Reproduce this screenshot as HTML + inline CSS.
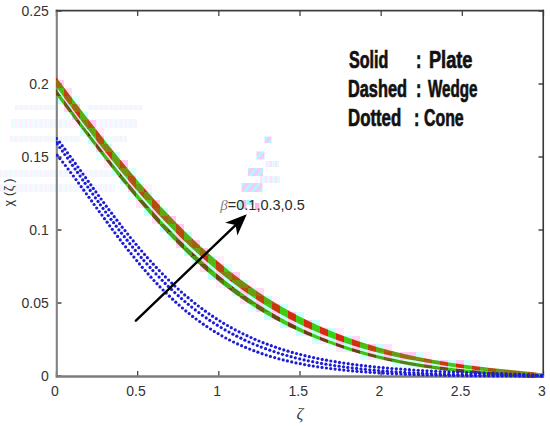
<!DOCTYPE html>
<html><head><meta charset="utf-8"><style>
html,body{margin:0;padding:0;background:#fff;width:550px;height:428px;overflow:hidden}
svg{display:block;position:absolute;left:0;top:0}
.lg{position:absolute;font-family:"Liberation Sans",sans-serif;font-weight:bold;font-size:23px;color:#111;-webkit-text-stroke:0.7px #111;transform-origin:0 0;white-space:pre;line-height:1}
</style></head><body>
<svg width="550" height="428" viewBox="0 0 550 428">
<rect width="550" height="428" fill="#fff"/>
<defs><pattern id="gh" width="5" height="4" patternUnits="userSpaceOnUse"><rect width="2.5" height="4" fill="#ff9cf2"/><rect x="2.5" width="2.5" height="4" fill="#8ff8ff"/></pattern>
<pattern id="gd" width="6" height="6" patternUnits="userSpaceOnUse" patternTransform="rotate(40)"><rect width="3" height="6" fill="#ff8cf0"/><rect x="3" width="3" height="6" fill="#5ff4ff"/></pattern></defs>
<g opacity="0.16" fill="url(#gh)">
<rect x="15" y="105" width="127" height="5"/>
<rect x="11" y="119" width="126" height="9"/>
<rect x="10" y="136" width="117" height="6"/>
<rect x="0" y="170" width="120" height="7"/>
<rect x="0" y="184" width="115" height="8"/>
</g>
<g opacity="0.3" fill="url(#gh)">
<rect x="266" y="161" width="13" height="6"/>
<rect x="260" y="176" width="20" height="7"/>
</g>
<g opacity="0.5" fill="url(#gd)">
<rect x="264.5" y="136.5" width="7" height="6.5"/>
<rect x="256.5" y="151.5" width="8" height="8"/>
<rect x="248" y="168" width="15" height="8"/>
<rect x="241.5" y="183" width="21" height="9"/>
</g>
<g clip-path="url(#cp)"><rect x="56" y="72" width="8" height="8" fill="#fffafe"/><rect x="56" y="80" width="8" height="8" fill="#ffcaf4"/><rect x="56" y="88" width="8" height="8" fill="#c4fffe"/><rect x="64" y="88" width="8" height="8" fill="#ffddf8"/><rect x="56" y="96" width="8" height="8" fill="#cbfffe"/><rect x="64" y="96" width="8" height="8" fill="#ffcaf4"/><rect x="72" y="96" width="8" height="8" fill="#e5fffe"/><rect x="56" y="104" width="8" height="8" fill="#fdffff"/><rect x="64" y="104" width="8" height="8" fill="#ffd1f6"/><rect x="72" y="104" width="8" height="8" fill="#ffcaf4"/><rect x="80" y="104" width="8" height="8" fill="#fdffff"/><rect x="64" y="112" width="8" height="8" fill="#f3ffff"/><rect x="72" y="112" width="8" height="8" fill="#ffcaf4"/><rect x="80" y="112" width="8" height="8" fill="#c4fffe"/><rect x="72" y="120" width="8" height="8" fill="#fff1fc"/><rect x="80" y="120" width="8" height="8" fill="#c4fffe"/><rect x="88" y="120" width="8" height="8" fill="#ffcaf4"/><rect x="80" y="128" width="8" height="8" fill="#d6fffe"/><rect x="88" y="128" width="8" height="8" fill="#c4fffe"/><rect x="96" y="128" width="8" height="8" fill="#ffe9fb"/><rect x="80" y="136" width="8" height="8" fill="#fdffff"/><rect x="88" y="136" width="8" height="8" fill="#c4fffe"/><rect x="96" y="136" width="8" height="8" fill="#ffcaf4"/><rect x="104" y="136" width="8" height="8" fill="#efffff"/><rect x="88" y="144" width="8" height="8" fill="#f5ffff"/><rect x="96" y="144" width="8" height="8" fill="#ffcff5"/><rect x="104" y="144" width="8" height="8" fill="#c4fffe"/><rect x="112" y="144" width="8" height="8" fill="#fffbfe"/><rect x="96" y="152" width="8" height="8" fill="#e7fffe"/><rect x="104" y="152" width="8" height="8" fill="#ffcaf4"/><rect x="112" y="152" width="8" height="8" fill="#c4fffe"/><rect x="104" y="160" width="8" height="8" fill="#ffe9fb"/><rect x="112" y="160" width="8" height="8" fill="#c4fffe"/><rect x="120" y="160" width="8" height="8" fill="#ffcaf4"/><rect x="112" y="168" width="8" height="8" fill="#d1fffe"/><rect x="120" y="168" width="8" height="8" fill="#c4fffe"/><rect x="128" y="168" width="8" height="8" fill="#d9fffe"/><rect x="112" y="176" width="8" height="8" fill="#fcffff"/><rect x="120" y="176" width="8" height="8" fill="#c4fffe"/><rect x="128" y="176" width="8" height="8" fill="#ffcaf4"/><rect x="136" y="176" width="8" height="8" fill="#e7fffe"/><rect x="120" y="184" width="8" height="8" fill="#f3ffff"/><rect x="128" y="184" width="8" height="8" fill="#ffcbf5"/><rect x="136" y="184" width="8" height="8" fill="#c4fffe"/><rect x="144" y="184" width="8" height="8" fill="#fff2fc"/><rect x="128" y="192" width="8" height="8" fill="#e9fffe"/><rect x="136" y="192" width="8" height="8" fill="#c4fffe"/><rect x="144" y="192" width="8" height="8" fill="#c4fffe"/><rect x="152" y="192" width="8" height="8" fill="#f9ffff"/><rect x="136" y="200" width="8" height="8" fill="#ffe5fa"/><rect x="144" y="200" width="8" height="8" fill="#c4fffe"/><rect x="152" y="200" width="8" height="8" fill="#ffcaf4"/><rect x="160" y="200" width="8" height="8" fill="#f9ffff"/><rect x="144" y="208" width="8" height="8" fill="#c9fffe"/><rect x="152" y="208" width="8" height="8" fill="#ffcaf4"/><rect x="160" y="208" width="8" height="8" fill="#c4fffe"/><rect x="168" y="208" width="8" height="8" fill="#fffdff"/><rect x="152" y="216" width="8" height="8" fill="#ffdcf8"/><rect x="160" y="216" width="8" height="8" fill="#c4fffe"/><rect x="168" y="216" width="8" height="8" fill="#ffcaf4"/><rect x="176" y="216" width="8" height="8" fill="#fdffff"/><rect x="152" y="224" width="8" height="8" fill="#fdffff"/><rect x="160" y="224" width="8" height="8" fill="#c5fffe"/><rect x="168" y="224" width="8" height="8" fill="#c4fffe"/><rect x="176" y="224" width="8" height="8" fill="#ffcaf4"/><rect x="184" y="224" width="8" height="8" fill="#fdffff"/><rect x="160" y="232" width="8" height="8" fill="#fffeff"/><rect x="168" y="232" width="8" height="8" fill="#c4fffe"/><rect x="176" y="232" width="8" height="8" fill="#ffcaf4"/><rect x="184" y="232" width="8" height="8" fill="#c4fffe"/><rect x="192" y="232" width="8" height="8" fill="#fffdff"/><rect x="168" y="240" width="8" height="8" fill="#f9ffff"/><rect x="176" y="240" width="8" height="8" fill="#ffcdf5"/><rect x="184" y="240" width="8" height="8" fill="#c4fffe"/><rect x="192" y="240" width="8" height="8" fill="#ffcaf4"/><rect x="200" y="240" width="8" height="8" fill="#f9ffff"/><rect x="176" y="248" width="8" height="8" fill="#fbffff"/><rect x="184" y="248" width="8" height="8" fill="#c4fffe"/><rect x="192" y="248" width="8" height="8" fill="#c4fffe"/><rect x="200" y="248" width="8" height="8" fill="#ffcaf4"/><rect x="208" y="248" width="8" height="8" fill="#f5ffff"/><rect x="184" y="256" width="8" height="8" fill="#fffeff"/><rect x="192" y="256" width="8" height="8" fill="#d4fffe"/><rect x="200" y="256" width="8" height="8" fill="#ffccf5"/><rect x="208" y="256" width="8" height="8" fill="#c4fffe"/><rect x="216" y="256" width="8" height="8" fill="#ffedfb"/><rect x="192" y="264" width="8" height="8" fill="#fdffff"/><rect x="200" y="264" width="8" height="8" fill="#ffd7f7"/><rect x="208" y="264" width="8" height="8" fill="#c4fffe"/><rect x="216" y="264" width="8" height="8" fill="#ffcaf4"/><rect x="224" y="264" width="8" height="8" fill="#ddfffe"/><rect x="208" y="272" width="8" height="8" fill="#c5fffe"/><rect x="216" y="272" width="8" height="8" fill="#ffd3f6"/><rect x="224" y="272" width="8" height="8" fill="#c4fffe"/><rect x="232" y="272" width="8" height="8" fill="#ffccf5"/><rect x="216" y="280" width="8" height="8" fill="#ffecfb"/><rect x="224" y="280" width="8" height="8" fill="#c4fffe"/><rect x="232" y="280" width="8" height="8" fill="#c4fffe"/><rect x="240" y="280" width="8" height="8" fill="#c4fffe"/><rect x="248" y="280" width="8" height="8" fill="#fff2fc"/><rect x="224" y="288" width="8" height="8" fill="#fff8fe"/><rect x="232" y="288" width="8" height="8" fill="#c4fffe"/><rect x="240" y="288" width="8" height="8" fill="#ffcaf4"/><rect x="248" y="288" width="8" height="8" fill="#c4fffe"/><rect x="256" y="288" width="8" height="8" fill="#ffd9f7"/><rect x="232" y="296" width="8" height="8" fill="#fdffff"/><rect x="240" y="296" width="8" height="8" fill="#ffdef8"/><rect x="248" y="296" width="8" height="8" fill="#c9fffe"/><rect x="256" y="296" width="8" height="8" fill="#ffcaf4"/><rect x="264" y="296" width="8" height="8" fill="#c4fffe"/><rect x="272" y="296" width="8" height="8" fill="#fff2fc"/><rect x="248" y="304" width="8" height="8" fill="#e3fffe"/><rect x="256" y="304" width="8" height="8" fill="#ffcff5"/><rect x="264" y="304" width="8" height="8" fill="#c4fffe"/><rect x="272" y="304" width="8" height="8" fill="#ffcaf4"/><rect x="280" y="304" width="8" height="8" fill="#cdfffe"/><rect x="288" y="304" width="8" height="8" fill="#fffbfe"/><rect x="256" y="312" width="8" height="8" fill="#fffeff"/><rect x="264" y="312" width="8" height="8" fill="#ccfffe"/><rect x="272" y="312" width="8" height="8" fill="#ffd4f6"/><rect x="280" y="312" width="8" height="8" fill="#c4fffe"/><rect x="288" y="312" width="8" height="8" fill="#ffcaf4"/><rect x="296" y="312" width="8" height="8" fill="#cdfffe"/><rect x="304" y="312" width="8" height="8" fill="#fffdff"/><rect x="272" y="320" width="8" height="8" fill="#fffbfe"/><rect x="280" y="320" width="8" height="8" fill="#c7fffe"/><rect x="288" y="320" width="8" height="8" fill="#ffd2f6"/><rect x="296" y="320" width="8" height="8" fill="#c4fffe"/><rect x="304" y="320" width="8" height="8" fill="#ffcaf4"/><rect x="312" y="320" width="8" height="8" fill="#c7fffe"/><rect x="320" y="320" width="8" height="8" fill="#fffbfe"/><rect x="288" y="328" width="8" height="8" fill="#fffafe"/><rect x="296" y="328" width="8" height="8" fill="#cbfffe"/><rect x="304" y="328" width="8" height="8" fill="#ffdff9"/><rect x="312" y="328" width="8" height="8" fill="#c4fffe"/><rect x="320" y="328" width="8" height="8" fill="#ffcaf4"/><rect x="328" y="328" width="8" height="8" fill="#c4fffe"/><rect x="336" y="328" width="8" height="8" fill="#ffebfb"/><rect x="312" y="336" width="8" height="8" fill="#d5fffe"/><rect x="320" y="336" width="8" height="8" fill="#ffe4fa"/><rect x="328" y="336" width="8" height="8" fill="#c4fffe"/><rect x="336" y="336" width="8" height="8" fill="#ffcaf4"/><rect x="344" y="336" width="8" height="8" fill="#c4fffe"/><rect x="352" y="336" width="8" height="8" fill="#ffd4f6"/><rect x="360" y="336" width="8" height="8" fill="#f1ffff"/><rect x="328" y="344" width="8" height="8" fill="#f5ffff"/><rect x="336" y="344" width="8" height="8" fill="#ffe6fa"/><rect x="344" y="344" width="8" height="8" fill="#c9fffe"/><rect x="352" y="344" width="8" height="8" fill="#ffcaf4"/><rect x="360" y="344" width="8" height="8" fill="#c4fffe"/><rect x="368" y="344" width="8" height="8" fill="#ffcaf4"/><rect x="376" y="344" width="8" height="8" fill="#c4fffe"/><rect x="384" y="344" width="8" height="8" fill="#ffe2f9"/><rect x="392" y="344" width="8" height="8" fill="#fffdff"/><rect x="352" y="352" width="8" height="8" fill="#fffcfe"/><rect x="360" y="352" width="8" height="8" fill="#d4fffe"/><rect x="368" y="352" width="8" height="8" fill="#ffe2f9"/><rect x="376" y="352" width="8" height="8" fill="#c4fffe"/><rect x="384" y="352" width="8" height="8" fill="#ffcaf4"/><rect x="392" y="352" width="8" height="8" fill="#c4fffe"/><rect x="400" y="352" width="8" height="8" fill="#ffcaf4"/><rect x="408" y="352" width="8" height="8" fill="#ffcaf4"/><rect x="416" y="352" width="8" height="8" fill="#d7fffe"/><rect x="424" y="352" width="8" height="8" fill="#fff1fc"/><rect x="392" y="360" width="8" height="8" fill="#dcfffe"/><rect x="400" y="360" width="8" height="8" fill="#e0fffe"/><rect x="408" y="360" width="8" height="8" fill="#d4fffe"/><rect x="416" y="360" width="8" height="8" fill="#c4fffe"/><rect x="424" y="360" width="8" height="8" fill="#ffcaf4"/><rect x="432" y="360" width="8" height="8" fill="#c4fffe"/><rect x="440" y="360" width="8" height="8" fill="#ffcaf4"/><rect x="448" y="360" width="8" height="8" fill="#cdfffe"/><rect x="456" y="360" width="8" height="8" fill="#ffccf5"/><rect x="464" y="360" width="8" height="8" fill="#d3fffe"/><rect x="472" y="360" width="8" height="8" fill="#ffe8fa"/><rect x="480" y="360" width="8" height="8" fill="#f3ffff"/></g>
<path d="M56.50,376.0 V371.0 M56.50,11.0 V16.0 M137.67,376.0 V371.0 M137.67,11.0 V16.0 M218.83,376.0 V371.0 M218.83,11.0 V16.0 M300.00,376.0 V371.0 M300.00,11.0 V16.0 M381.17,376.0 V371.0 M381.17,11.0 V16.0 M462.33,376.0 V371.0 M462.33,11.0 V16.0 M543.50,376.0 V371.0 M543.50,11.0 V16.0 M56.5,376.00 H61.5 M543.5,376.00 H538.5 M56.5,303.00 H61.5 M543.5,303.00 H538.5 M56.5,230.00 H61.5 M543.5,230.00 H538.5 M56.5,157.00 H61.5 M543.5,157.00 H538.5 M56.5,84.00 H61.5 M543.5,84.00 H538.5 M56.5,11.00 H61.5 M543.5,11.00 H538.5" stroke="#454545" stroke-width="1.3" fill="none"/><line x1="56.8" y1="9.8" x2="56.8" y2="377.6" stroke="#828282" stroke-width="2.1"/><line x1="55.7" y1="376.4" x2="544.1" y2="376.4" stroke="#7c7c7c" stroke-width="2.5"/><line x1="55.7" y1="10.6" x2="544.1" y2="10.6" stroke="#3e3e3e" stroke-width="1.7"/><line x1="543.25" y1="9.8" x2="543.25" y2="377.6" stroke="#383838" stroke-width="1.6"/>
<clipPath id="cp"><rect x="56" y="0" width="490" height="378"/></clipPath>
<g clip-path="url(#cp)">
<path d="M56.00,76.98 L56.50,77.64 L57.00,78.30 L57.50,78.96 L58.00,79.62 L58.50,80.00 L59.00,80.00 L59.50,80.00 L60.00,80.00 L60.50,80.00 L61.00,80.00 L61.50,80.00 L62.00,80.00 L62.50,80.00 L63.00,80.00 L63.50,80.00 L64.00,80.00 L64.00,80.00 L63.50,80.00 L63.00,80.00 L62.50,80.00 L62.00,80.00 L61.50,80.00 L61.00,80.00 L60.50,80.00 L60.00,80.00 L59.50,80.00 L59.00,80.00 L58.50,80.00 L58.00,80.00 L57.50,80.00 L57.00,80.00 L56.50,80.00 L56.00,80.00 Z" fill="#d42a0c"/>
<path d="M56.00,80.00 L56.50,80.00 L57.00,80.00 L57.50,80.00 L58.00,80.00 L58.50,80.28 L59.00,80.94 L59.50,81.60 L60.00,82.26 L60.50,82.92 L61.00,83.58 L61.50,84.24 L62.00,84.90 L62.50,85.56 L63.00,86.22 L63.50,86.88 L64.00,87.54 L64.00,88.00 L63.50,88.00 L63.00,88.00 L62.50,88.00 L62.00,88.00 L61.50,88.00 L61.00,88.00 L60.50,88.00 L60.00,88.00 L59.50,88.00 L59.00,88.00 L58.50,88.00 L58.00,88.00 L57.50,88.00 L57.00,87.91 L56.50,87.23 L56.00,86.55 Z" fill="#966d0f"/>
<path d="M56.00,88.00 L56.50,88.00 L57.00,88.00 L57.50,88.00 L58.00,88.00 L58.50,88.00 L59.00,88.00 L59.50,88.00 L60.00,88.00 L60.50,88.00 L61.00,88.00 L61.50,88.00 L62.00,88.00 L62.50,88.00 L63.00,88.00 L63.50,88.00 L64.00,88.00 L64.00,96.00 L63.50,96.00 L63.00,96.00 L62.50,95.41 L62.00,94.73 L61.50,94.05 L61.00,93.37 L60.50,92.69 L60.00,92.01 L59.50,91.33 L59.00,90.64 L58.50,89.96 L58.00,89.28 L57.50,88.60 L57.00,88.00 L56.50,88.00 L56.00,88.00 Z" fill="#4bbe13"/>
<path d="M56.00,88.99 L56.50,89.66 L57.00,90.34 L57.50,91.02 L58.00,91.70 L58.50,92.37 L59.00,93.05 L59.50,93.73 L60.00,94.41 L60.50,95.08 L61.00,95.76 L61.50,96.00 L62.00,96.00 L62.50,96.00 L63.00,96.00 L63.50,96.00 L64.00,96.00 L64.00,96.00 L63.50,96.00 L63.00,96.00 L62.50,96.00 L62.00,96.00 L61.50,96.00 L61.00,96.00 L60.50,96.00 L60.00,96.00 L59.50,96.00 L59.00,96.00 L58.50,96.00 L58.00,96.00 L57.50,96.00 L57.00,96.00 L56.50,95.46 L56.00,94.81 Z" fill="#644f11"/>
<path d="M56.00,96.00 L56.50,96.00 L57.00,96.00 L57.50,96.00 L58.00,96.00 L58.50,96.00 L59.00,96.00 L59.50,96.00 L60.00,96.00 L60.50,96.00 L61.00,96.00 L61.50,96.00 L62.00,96.00 L62.50,96.00 L63.00,96.00 L63.50,96.00 L64.00,96.00 L64.00,97.45 L63.50,96.77 L63.00,96.09 L62.50,96.00 L62.00,96.00 L61.50,96.00 L61.00,96.00 L60.50,96.00 L60.00,96.00 L59.50,96.00 L59.00,96.00 L58.50,96.00 L58.00,96.00 L57.50,96.00 L57.00,96.00 L56.50,96.00 L56.00,96.00 Z" fill="#3ccf14"/>
<path d="M56.00,96.00 L56.50,96.00 L57.00,96.00 L57.50,96.00 L58.00,96.00 L58.50,96.00 L59.00,96.00 L59.50,96.00 L60.00,96.00 L60.50,96.00 L61.00,96.00 L61.50,96.44 L62.00,97.11 L62.50,97.79 L63.00,98.47 L63.50,99.14 L64.00,99.82 L64.00,104.00 L63.50,104.00 L63.00,104.00 L62.50,103.35 L62.00,102.69 L61.50,102.03 L61.00,101.38 L60.50,100.72 L60.00,100.06 L59.50,99.40 L59.00,98.75 L58.50,98.09 L58.00,97.43 L57.50,96.78 L57.00,96.12 L56.50,96.00 L56.00,96.00 Z" fill="#42bb13"/>
<path d="M56.00,104.00 L56.50,104.00 L57.00,104.00 L57.50,104.00 L58.00,104.00 L58.50,104.00 L59.00,104.00 L59.50,104.00 L60.00,104.00 L60.50,104.00 L61.00,104.00 L61.50,104.00 L62.00,104.00 L62.50,104.00 L63.00,104.00 L63.50,104.00 L64.00,104.00 L64.00,105.33 L63.50,104.67 L63.00,104.01 L62.50,104.00 L62.00,104.00 L61.50,104.00 L61.00,104.00 L60.50,104.00 L60.00,104.00 L59.50,104.00 L59.00,104.00 L58.50,104.00 L58.00,104.00 L57.50,104.00 L57.00,104.00 L56.50,104.00 L56.00,104.00 Z" fill="#3ccf14"/>
<path d="M64.00,87.54 L64.50,88.00 L65.00,88.00 L65.50,88.00 L66.00,88.00 L66.50,88.00 L67.00,88.00 L67.50,88.00 L68.00,88.00 L68.50,88.00 L69.00,88.00 L69.50,88.00 L70.00,88.00 L70.50,88.00 L71.00,88.00 L71.50,88.00 L72.00,88.00 L72.00,88.00 L71.50,88.00 L71.00,88.00 L70.50,88.00 L70.00,88.00 L69.50,88.00 L69.00,88.00 L68.50,88.00 L68.00,88.00 L67.50,88.00 L67.00,88.00 L66.50,88.00 L66.00,88.00 L65.50,88.00 L65.00,88.00 L64.50,88.00 L64.00,88.00 Z" fill="#3ccf14"/>
<path d="M64.00,88.00 L64.50,88.20 L65.00,88.86 L65.50,89.51 L66.00,90.17 L66.50,90.83 L67.00,91.49 L67.50,92.15 L68.00,92.81 L68.50,93.47 L69.00,94.13 L69.50,94.78 L70.00,95.44 L70.50,96.00 L71.00,96.00 L71.50,96.00 L72.00,96.00 L72.00,96.00 L71.50,96.00 L71.00,96.00 L70.50,96.00 L70.00,96.00 L69.50,96.00 L69.00,96.00 L68.50,96.00 L68.00,96.00 L67.50,96.00 L67.00,96.00 L66.50,96.00 L66.00,96.00 L65.50,96.00 L65.00,96.00 L64.50,96.00 L64.00,96.00 Z" fill="#bc440d"/>
<path d="M64.00,96.00 L64.50,96.00 L65.00,96.00 L65.50,96.00 L66.00,96.00 L66.50,96.00 L67.00,96.00 L67.50,96.00 L68.00,96.00 L68.50,96.00 L69.00,96.00 L69.50,96.00 L70.00,96.00 L70.50,96.10 L71.00,96.76 L71.50,97.42 L72.00,98.07 L72.00,104.00 L71.50,104.00 L71.00,104.00 L70.50,104.00 L70.00,104.00 L69.50,104.00 L69.00,104.00 L68.50,103.55 L68.00,102.87 L67.50,102.19 L67.00,101.52 L66.50,100.84 L66.00,100.16 L65.50,99.49 L65.00,98.81 L64.50,98.13 L64.00,97.45 Z" fill="#9c670f"/>
<path d="M64.00,99.82 L64.50,100.50 L65.00,101.17 L65.50,101.85 L66.00,102.52 L66.50,103.20 L67.00,103.87 L67.50,104.00 L68.00,104.00 L68.50,104.00 L69.00,104.00 L69.50,104.00 L70.00,104.00 L70.50,104.00 L71.00,104.00 L71.50,104.00 L72.00,104.00 L72.00,104.00 L71.50,104.00 L71.00,104.00 L70.50,104.00 L70.00,104.00 L69.50,104.00 L69.00,104.00 L68.50,104.00 L68.00,104.00 L67.50,104.00 L67.00,104.00 L66.50,104.00 L66.00,104.00 L65.50,104.00 L65.00,104.00 L64.50,104.00 L64.00,104.00 Z" fill="#5d6611"/>
<path d="M64.00,104.00 L64.50,104.00 L65.00,104.00 L65.50,104.00 L66.00,104.00 L66.50,104.00 L67.00,104.00 L67.50,104.00 L68.00,104.00 L68.50,104.00 L69.00,104.00 L69.50,104.00 L70.00,104.00 L70.50,104.00 L71.00,104.00 L71.50,104.00 L72.00,104.00 L72.00,108.27 L71.50,107.59 L71.00,106.92 L70.50,106.25 L70.00,105.57 L69.50,104.90 L69.00,104.22 L68.50,104.00 L68.00,104.00 L67.50,104.00 L67.00,104.00 L66.50,104.00 L66.00,104.00 L65.50,104.00 L65.00,104.00 L64.50,104.00 L64.00,104.00 Z" fill="#49c113"/>
<path d="M64.00,104.00 L64.50,104.00 L65.00,104.00 L65.50,104.00 L66.00,104.00 L66.50,104.00 L67.00,104.00 L67.50,104.54 L68.00,105.22 L68.50,105.89 L69.00,106.57 L69.50,107.24 L70.00,107.91 L70.50,108.59 L71.00,109.26 L71.50,109.93 L72.00,110.60 L72.00,112.00 L71.50,112.00 L71.00,112.00 L70.50,112.00 L70.00,112.00 L69.50,112.00 L69.00,111.94 L68.50,111.28 L68.00,110.61 L67.50,109.95 L67.00,109.29 L66.50,108.63 L66.00,107.97 L65.50,107.31 L65.00,106.65 L64.50,105.99 L64.00,105.33 Z" fill="#605e11"/>
<path d="M64.00,112.00 L64.50,112.00 L65.00,112.00 L65.50,112.00 L66.00,112.00 L66.50,112.00 L67.00,112.00 L67.50,112.00 L68.00,112.00 L68.50,112.00 L69.00,112.00 L69.50,112.00 L70.00,112.00 L70.50,112.00 L71.00,112.00 L71.50,112.00 L72.00,112.00 L72.00,115.91 L71.50,115.24 L71.00,114.58 L70.50,113.92 L70.00,113.26 L69.50,112.60 L69.00,112.00 L68.50,112.00 L68.00,112.00 L67.50,112.00 L67.00,112.00 L66.50,112.00 L66.00,112.00 L65.50,112.00 L65.00,112.00 L64.50,112.00 L64.00,112.00 Z" fill="#3fc714"/>
<path d="M72.00,98.07 L72.50,98.73 L73.00,99.39 L73.50,100.05 L74.00,100.70 L74.50,101.36 L75.00,102.01 L75.50,102.67 L76.00,103.33 L76.50,103.98 L77.00,104.00 L77.50,104.00 L78.00,104.00 L78.50,104.00 L79.00,104.00 L79.50,104.00 L80.00,104.00 L80.00,104.00 L79.50,104.00 L79.00,104.00 L78.50,104.00 L78.00,104.00 L77.50,104.00 L77.00,104.00 L76.50,104.00 L76.00,104.00 L75.50,104.00 L75.00,104.00 L74.50,104.00 L74.00,104.00 L73.50,104.00 L73.00,104.00 L72.50,104.00 L72.00,104.00 Z" fill="#48c213"/>
<path d="M72.00,104.00 L72.50,104.00 L73.00,104.00 L73.50,104.00 L74.00,104.00 L74.50,104.00 L75.00,104.00 L75.50,104.00 L76.00,104.00 L76.50,104.00 L77.00,104.64 L77.50,105.29 L78.00,105.95 L78.50,106.60 L79.00,107.26 L79.50,107.91 L80.00,108.56 L80.00,112.00 L79.50,112.00 L79.00,112.00 L78.50,112.00 L78.00,112.00 L77.50,112.00 L77.00,112.00 L76.50,112.00 L76.00,112.00 L75.50,112.00 L75.00,112.00 L74.50,111.62 L74.00,110.95 L73.50,110.28 L73.00,109.61 L72.50,108.94 L72.00,108.27 Z" fill="#966d0f"/>
<path d="M72.00,110.60 L72.50,111.27 L73.00,111.95 L73.50,112.00 L74.00,112.00 L74.50,112.00 L75.00,112.00 L75.50,112.00 L76.00,112.00 L76.50,112.00 L77.00,112.00 L77.50,112.00 L78.00,112.00 L78.50,112.00 L79.00,112.00 L79.50,112.00 L80.00,112.00 L80.00,112.00 L79.50,112.00 L79.00,112.00 L78.50,112.00 L78.00,112.00 L77.50,112.00 L77.00,112.00 L76.50,112.00 L76.00,112.00 L75.50,112.00 L75.00,112.00 L74.50,112.00 L74.00,112.00 L73.50,112.00 L73.00,112.00 L72.50,112.00 L72.00,112.00 Z" fill="#3ccf14"/>
<path d="M72.00,112.00 L72.50,112.00 L73.00,112.00 L73.50,112.00 L74.00,112.00 L74.50,112.00 L75.00,112.00 L75.50,112.00 L76.00,112.00 L76.50,112.00 L77.00,112.00 L77.50,112.00 L78.00,112.00 L78.50,112.00 L79.00,112.00 L79.50,112.00 L80.00,112.00 L80.00,118.97 L79.50,118.31 L79.00,117.64 L78.50,116.97 L78.00,116.31 L77.50,115.64 L77.00,114.97 L76.50,114.30 L76.00,113.63 L75.50,112.97 L75.00,112.30 L74.50,112.00 L74.00,112.00 L73.50,112.00 L73.00,112.00 L72.50,112.00 L72.00,112.00 Z" fill="#d22c0c"/>
<path d="M72.00,112.00 L72.50,112.00 L73.00,112.00 L73.50,112.62 L74.00,113.29 L74.50,113.96 L75.00,114.63 L75.50,115.30 L76.00,115.97 L76.50,116.64 L77.00,117.30 L77.50,117.97 L78.00,118.64 L78.50,119.31 L79.00,119.98 L79.50,120.00 L80.00,120.00 L80.00,120.00 L79.50,120.00 L79.00,120.00 L78.50,120.00 L78.00,120.00 L77.50,120.00 L77.00,120.00 L76.50,120.00 L76.00,120.00 L75.50,120.00 L75.00,119.88 L74.50,119.22 L74.00,118.55 L73.50,117.89 L73.00,117.23 L72.50,116.57 L72.00,115.91 Z" fill="#4d9913"/>
<path d="M72.00,120.00 L72.50,120.00 L73.00,120.00 L73.50,120.00 L74.00,120.00 L74.50,120.00 L75.00,120.00 L75.50,120.00 L76.00,120.00 L76.50,120.00 L77.00,120.00 L77.50,120.00 L78.00,120.00 L78.50,120.00 L79.00,120.00 L79.50,120.64 L80.00,121.31 L80.00,126.49 L79.50,125.83 L79.00,125.17 L78.50,124.51 L78.00,123.85 L77.50,123.19 L77.00,122.53 L76.50,121.86 L76.00,121.20 L75.50,120.54 L75.00,120.00 L74.50,120.00 L74.00,120.00 L73.50,120.00 L73.00,120.00 L72.50,120.00 L72.00,120.00 Z" fill="#6b3a10"/>
<path d="M80.00,108.56 L80.50,109.22 L81.00,109.87 L81.50,110.52 L82.00,111.17 L82.50,111.83 L83.00,112.00 L83.50,112.00 L84.00,112.00 L84.50,112.00 L85.00,112.00 L85.50,112.00 L86.00,112.00 L86.50,112.00 L87.00,112.00 L87.50,112.00 L88.00,112.00 L88.00,112.00 L87.50,112.00 L87.00,112.00 L86.50,112.00 L86.00,112.00 L85.50,112.00 L85.00,112.00 L84.50,112.00 L84.00,112.00 L83.50,112.00 L83.00,112.00 L82.50,112.00 L82.00,112.00 L81.50,112.00 L81.00,112.00 L80.50,112.00 L80.00,112.00 Z" fill="#719611"/>
<path d="M80.00,112.00 L80.50,112.00 L81.00,112.00 L81.50,112.00 L82.00,112.00 L82.50,112.00 L83.00,112.48 L83.50,113.13 L84.00,113.78 L84.50,114.43 L85.00,115.08 L85.50,115.73 L86.00,116.38 L86.50,117.03 L87.00,117.68 L87.50,118.33 L88.00,118.98 L88.00,120.00 L87.50,120.00 L87.00,120.00 L86.50,120.00 L86.00,120.00 L85.50,120.00 L85.00,120.00 L84.50,120.00 L84.00,120.00 L83.50,120.00 L83.00,120.00 L82.50,120.00 L82.00,120.00 L81.50,120.00 L81.00,120.00 L80.50,119.64 L80.00,118.97 Z" fill="#5bad12"/>
<path d="M80.00,120.00 L80.50,120.00 L81.00,120.00 L81.50,120.00 L82.00,120.00 L82.50,120.00 L83.00,120.00 L83.50,120.00 L84.00,120.00 L84.50,120.00 L85.00,120.00 L85.50,120.00 L86.00,120.00 L86.50,120.00 L87.00,120.00 L87.50,120.00 L88.00,120.00 L88.00,128.00 L87.50,128.00 L87.00,128.00 L86.50,127.58 L86.00,126.92 L85.50,126.26 L85.00,125.60 L84.50,124.94 L84.00,124.28 L83.50,123.62 L83.00,122.96 L82.50,122.29 L82.00,121.63 L81.50,120.97 L81.00,120.30 L80.50,120.00 L80.00,120.00 Z" fill="#8a7b10"/>
<path d="M80.00,121.31 L80.50,121.97 L81.00,122.64 L81.50,123.31 L82.00,123.97 L82.50,124.63 L83.00,125.30 L83.50,125.96 L84.00,126.62 L84.50,127.29 L85.00,127.95 L85.50,128.00 L86.00,128.00 L86.50,128.00 L87.00,128.00 L87.50,128.00 L88.00,128.00 L88.00,128.00 L87.50,128.00 L87.00,128.00 L86.50,128.00 L86.00,128.00 L85.50,128.00 L85.00,128.00 L84.50,128.00 L84.00,128.00 L83.50,128.00 L83.00,128.00 L82.50,128.00 L82.00,128.00 L81.50,128.00 L81.00,127.82 L80.50,127.16 L80.00,126.49 Z" fill="#44b613"/>
<path d="M80.00,128.00 L80.50,128.00 L81.00,128.00 L81.50,128.00 L82.00,128.00 L82.50,128.00 L83.00,128.00 L83.50,128.00 L84.00,128.00 L84.50,128.00 L85.00,128.00 L85.50,128.00 L86.00,128.00 L86.50,128.00 L87.00,128.00 L87.50,128.00 L88.00,128.00 L88.00,129.55 L87.50,128.89 L87.00,128.23 L86.50,128.00 L86.00,128.00 L85.50,128.00 L85.00,128.00 L84.50,128.00 L84.00,128.00 L83.50,128.00 L83.00,128.00 L82.50,128.00 L82.00,128.00 L81.50,128.00 L81.00,128.00 L80.50,128.00 L80.00,128.00 Z" fill="#d42a0c"/>
<path d="M80.00,128.00 L80.50,128.00 L81.00,128.00 L81.50,128.00 L82.00,128.00 L82.50,128.00 L83.00,128.00 L83.50,128.00 L84.00,128.00 L84.50,128.00 L85.00,128.00 L85.50,128.61 L86.00,129.27 L86.50,129.93 L87.00,130.59 L87.50,131.25 L88.00,131.91 L88.00,136.00 L87.50,136.00 L87.00,135.74 L86.50,135.08 L86.00,134.42 L85.50,133.76 L85.00,133.10 L84.50,132.44 L84.00,131.78 L83.50,131.12 L83.00,130.46 L82.50,129.80 L82.00,129.14 L81.50,128.48 L81.00,128.00 L80.50,128.00 L80.00,128.00 Z" fill="#518c12"/>
<path d="M80.00,136.00 L80.50,136.00 L81.00,136.00 L81.50,136.00 L82.00,136.00 L82.50,136.00 L83.00,136.00 L83.50,136.00 L84.00,136.00 L84.50,136.00 L85.00,136.00 L85.50,136.00 L86.00,136.00 L86.50,136.00 L87.00,136.00 L87.50,136.00 L88.00,136.00 L88.00,137.05 L87.50,136.40 L87.00,136.00 L86.50,136.00 L86.00,136.00 L85.50,136.00 L85.00,136.00 L84.50,136.00 L84.00,136.00 L83.50,136.00 L83.00,136.00 L82.50,136.00 L82.00,136.00 L81.50,136.00 L81.00,136.00 L80.50,136.00 L80.00,136.00 Z" fill="#6b3a10"/>
<path d="M88.00,118.98 L88.50,119.62 L89.00,120.00 L89.50,120.00 L90.00,120.00 L90.50,120.00 L91.00,120.00 L91.50,120.00 L92.00,120.00 L92.50,120.00 L93.00,120.00 L93.50,120.00 L94.00,120.00 L94.50,120.00 L95.00,120.00 L95.50,120.00 L96.00,120.00 L96.00,120.00 L95.50,120.00 L95.00,120.00 L94.50,120.00 L94.00,120.00 L93.50,120.00 L93.00,120.00 L92.50,120.00 L92.00,120.00 L91.50,120.00 L91.00,120.00 L90.50,120.00 L90.00,120.00 L89.50,120.00 L89.00,120.00 L88.50,120.00 L88.00,120.00 Z" fill="#d42a0c"/>
<path d="M88.00,120.00 L88.50,120.00 L89.00,120.27 L89.50,120.92 L90.00,121.56 L90.50,122.21 L91.00,122.86 L91.50,123.50 L92.00,124.15 L92.50,124.79 L93.00,125.43 L93.50,126.08 L94.00,126.72 L94.50,127.36 L95.00,128.00 L95.50,128.00 L96.00,128.00 L96.00,128.00 L95.50,128.00 L95.00,128.00 L94.50,128.00 L94.00,128.00 L93.50,128.00 L93.00,128.00 L92.50,128.00 L92.00,128.00 L91.50,128.00 L91.00,128.00 L90.50,128.00 L90.00,128.00 L89.50,128.00 L89.00,128.00 L88.50,128.00 L88.00,128.00 Z" fill="#a85a0e"/>
<path d="M88.00,128.00 L88.50,128.00 L89.00,128.00 L89.50,128.00 L90.00,128.00 L90.50,128.00 L91.00,128.00 L91.50,128.00 L92.00,128.00 L92.50,128.00 L93.00,128.00 L93.50,128.00 L94.00,128.00 L94.50,128.00 L95.00,128.00 L95.50,128.65 L96.00,129.29 L96.00,136.00 L95.50,136.00 L95.00,136.00 L94.50,136.00 L94.00,136.00 L93.50,136.00 L93.00,136.00 L92.50,135.43 L92.00,134.78 L91.50,134.13 L91.00,133.48 L90.50,132.82 L90.00,132.17 L89.50,131.52 L89.00,130.86 L88.50,130.21 L88.00,129.55 Z" fill="#62a512"/>
<path d="M88.00,131.91 L88.50,132.57 L89.00,133.23 L89.50,133.89 L90.00,134.54 L90.50,135.20 L91.00,135.86 L91.50,136.00 L92.00,136.00 L92.50,136.00 L93.00,136.00 L93.50,136.00 L94.00,136.00 L94.50,136.00 L95.00,136.00 L95.50,136.00 L96.00,136.00 L96.00,136.00 L95.50,136.00 L95.00,136.00 L94.50,136.00 L94.00,136.00 L93.50,136.00 L93.00,136.00 L92.50,136.00 L92.00,136.00 L91.50,136.00 L91.00,136.00 L90.50,136.00 L90.00,136.00 L89.50,136.00 L89.00,136.00 L88.50,136.00 L88.00,136.00 Z" fill="#6b3a10"/>
<path d="M88.00,136.00 L88.50,136.00 L89.00,136.00 L89.50,136.00 L90.00,136.00 L90.50,136.00 L91.00,136.00 L91.50,136.00 L92.00,136.00 L92.50,136.00 L93.00,136.00 L93.50,136.00 L94.00,136.00 L94.50,136.00 L95.00,136.00 L95.50,136.00 L96.00,136.00 L96.00,139.98 L95.50,139.33 L95.00,138.68 L94.50,138.03 L94.00,137.38 L93.50,136.74 L93.00,136.09 L92.50,136.00 L92.00,136.00 L91.50,136.00 L91.00,136.00 L90.50,136.00 L90.00,136.00 L89.50,136.00 L89.00,136.00 L88.50,136.00 L88.00,136.00 Z" fill="#3ccf14"/>
<path d="M88.00,136.00 L88.50,136.00 L89.00,136.00 L89.50,136.00 L90.00,136.00 L90.50,136.00 L91.00,136.00 L91.50,136.51 L92.00,137.17 L92.50,137.82 L93.00,138.48 L93.50,139.13 L94.00,139.78 L94.50,140.44 L95.00,141.09 L95.50,141.74 L96.00,142.39 L96.00,144.00 L95.50,144.00 L95.00,144.00 L94.50,144.00 L94.00,144.00 L93.50,144.00 L93.00,143.62 L92.50,142.97 L92.00,142.31 L91.50,141.65 L91.00,141.00 L90.50,140.34 L90.00,139.68 L89.50,139.03 L89.00,138.37 L88.50,137.71 L88.00,137.05 Z" fill="#4c9c13"/>
<path d="M88.00,144.00 L88.50,144.00 L89.00,144.00 L89.50,144.00 L90.00,144.00 L90.50,144.00 L91.00,144.00 L91.50,144.00 L92.00,144.00 L92.50,144.00 L93.00,144.00 L93.50,144.00 L94.00,144.00 L94.50,144.00 L95.00,144.00 L95.50,144.00 L96.00,144.00 L96.00,147.55 L95.50,146.89 L95.00,146.24 L94.50,145.59 L94.00,144.93 L93.50,144.28 L93.00,144.00 L92.50,144.00 L92.00,144.00 L91.50,144.00 L91.00,144.00 L90.50,144.00 L90.00,144.00 L89.50,144.00 L89.00,144.00 L88.50,144.00 L88.00,144.00 Z" fill="#3ccf14"/>
<path d="M96.00,129.29 L96.50,129.93 L97.00,130.57 L97.50,131.21 L98.00,131.85 L98.50,132.48 L99.00,133.12 L99.50,133.76 L100.00,134.40 L100.50,135.03 L101.00,135.67 L101.50,136.00 L102.00,136.00 L102.50,136.00 L103.00,136.00 L103.50,136.00 L104.00,136.00 L104.00,136.00 L103.50,136.00 L103.00,136.00 L102.50,136.00 L102.00,136.00 L101.50,136.00 L101.00,136.00 L100.50,136.00 L100.00,136.00 L99.50,136.00 L99.00,136.00 L98.50,136.00 L98.00,136.00 L97.50,136.00 L97.00,136.00 L96.50,136.00 L96.00,136.00 Z" fill="#b9480d"/>
<path d="M96.00,136.00 L96.50,136.00 L97.00,136.00 L97.50,136.00 L98.00,136.00 L98.50,136.00 L99.00,136.00 L99.50,136.00 L100.00,136.00 L100.50,136.00 L101.00,136.00 L101.50,136.30 L102.00,136.94 L102.50,137.57 L103.00,138.21 L103.50,138.84 L104.00,139.47 L104.00,144.00 L103.50,144.00 L103.00,144.00 L102.50,144.00 L102.00,144.00 L101.50,144.00 L101.00,144.00 L100.50,144.00 L100.00,144.00 L99.50,144.00 L99.00,143.84 L98.50,143.20 L98.00,142.56 L97.50,141.91 L97.00,141.27 L96.50,140.62 L96.00,139.98 Z" fill="#ac550e"/>
<path d="M96.00,142.39 L96.50,143.04 L97.00,143.69 L97.50,144.00 L98.00,144.00 L98.50,144.00 L99.00,144.00 L99.50,144.00 L100.00,144.00 L100.50,144.00 L101.00,144.00 L101.50,144.00 L102.00,144.00 L102.50,144.00 L103.00,144.00 L103.50,144.00 L104.00,144.00 L104.00,144.00 L103.50,144.00 L103.00,144.00 L102.50,144.00 L102.00,144.00 L101.50,144.00 L101.00,144.00 L100.50,144.00 L100.00,144.00 L99.50,144.00 L99.00,144.00 L98.50,144.00 L98.00,144.00 L97.50,144.00 L97.00,144.00 L96.50,144.00 L96.00,144.00 Z" fill="#4e9712"/>
<path d="M96.00,144.00 L96.50,144.00 L97.00,144.00 L97.50,144.00 L98.00,144.00 L98.50,144.00 L99.00,144.00 L99.50,144.00 L100.00,144.00 L100.50,144.00 L101.00,144.00 L101.50,144.00 L102.00,144.00 L102.50,144.00 L103.00,144.00 L103.50,144.00 L104.00,144.00 L104.00,150.24 L103.50,149.60 L103.00,148.96 L102.50,148.33 L102.00,147.69 L101.50,147.05 L101.00,146.41 L100.50,145.77 L100.00,145.13 L99.50,144.49 L99.00,144.00 L98.50,144.00 L98.00,144.00 L97.50,144.00 L97.00,144.00 L96.50,144.00 L96.00,144.00 Z" fill="#719511"/>
<path d="M96.00,144.00 L96.50,144.00 L97.00,144.00 L97.50,144.34 L98.00,144.99 L98.50,145.63 L99.00,146.28 L99.50,146.93 L100.00,147.57 L100.50,148.22 L101.00,148.86 L101.50,149.51 L102.00,150.15 L102.50,150.79 L103.00,151.43 L103.50,152.00 L104.00,152.00 L104.00,152.00 L103.50,152.00 L103.00,152.00 L102.50,152.00 L102.00,152.00 L101.50,152.00 L101.00,152.00 L100.50,152.00 L100.00,152.00 L99.50,152.00 L99.00,151.45 L98.50,150.80 L98.00,150.15 L97.50,149.50 L97.00,148.85 L96.50,148.20 L96.00,147.55 Z" fill="#654c10"/>
<path d="M96.00,152.00 L96.50,152.00 L97.00,152.00 L97.50,152.00 L98.00,152.00 L98.50,152.00 L99.00,152.00 L99.50,152.00 L100.00,152.00 L100.50,152.00 L101.00,152.00 L101.50,152.00 L102.00,152.00 L102.50,152.00 L103.00,152.00 L103.50,152.08 L104.00,152.72 L104.00,157.93 L103.50,157.29 L103.00,156.64 L102.50,156.00 L102.00,155.35 L101.50,154.70 L101.00,154.05 L100.50,153.40 L100.00,152.75 L99.50,152.11 L99.00,152.00 L98.50,152.00 L98.00,152.00 L97.50,152.00 L97.00,152.00 L96.50,152.00 L96.00,152.00 Z" fill="#4b9f13"/>
<path d="M104.00,139.47 L104.50,140.10 L105.00,140.74 L105.50,141.37 L106.00,142.00 L106.50,142.63 L107.00,143.25 L107.50,143.88 L108.00,144.00 L108.50,144.00 L109.00,144.00 L109.50,144.00 L110.00,144.00 L110.50,144.00 L111.00,144.00 L111.50,144.00 L112.00,144.00 L112.00,144.00 L111.50,144.00 L111.00,144.00 L110.50,144.00 L110.00,144.00 L109.50,144.00 L109.00,144.00 L108.50,144.00 L108.00,144.00 L107.50,144.00 L107.00,144.00 L106.50,144.00 L106.00,144.00 L105.50,144.00 L105.00,144.00 L104.50,144.00 L104.00,144.00 Z" fill="#3ccf14"/>
<path d="M104.00,144.00 L104.50,144.00 L105.00,144.00 L105.50,144.00 L106.00,144.00 L106.50,144.00 L107.00,144.00 L107.50,144.00 L108.00,144.51 L108.50,145.14 L109.00,145.76 L109.50,146.39 L110.00,147.02 L110.50,147.64 L111.00,148.26 L111.50,148.89 L112.00,149.51 L112.00,152.00 L111.50,152.00 L111.00,152.00 L110.50,152.00 L110.00,152.00 L109.50,152.00 L109.00,152.00 L108.50,152.00 L108.00,152.00 L107.50,152.00 L107.00,152.00 L106.50,152.00 L106.00,152.00 L105.50,152.00 L105.00,151.51 L104.50,150.87 L104.00,150.24 Z" fill="#848110"/>
<path d="M104.00,152.00 L104.50,152.00 L105.00,152.00 L105.50,152.00 L106.00,152.00 L106.50,152.00 L107.00,152.00 L107.50,152.00 L108.00,152.00 L108.50,152.00 L109.00,152.00 L109.50,152.00 L110.00,152.00 L110.50,152.00 L111.00,152.00 L111.50,152.00 L112.00,152.00 L112.00,160.00 L111.50,159.69 L111.00,159.06 L110.50,158.44 L110.00,157.81 L109.50,157.19 L109.00,156.56 L108.50,155.93 L108.00,155.30 L107.50,154.67 L107.00,154.04 L106.50,153.41 L106.00,152.77 L105.50,152.14 L105.00,152.00 L104.50,152.00 L104.00,152.00 Z" fill="#c43b0d"/>
<path d="M104.00,152.72 L104.50,153.36 L105.00,154.00 L105.50,154.64 L106.00,155.27 L106.50,155.91 L107.00,156.55 L107.50,157.18 L108.00,157.82 L108.50,158.45 L109.00,159.09 L109.50,159.72 L110.00,160.00 L110.50,160.00 L111.00,160.00 L111.50,160.00 L112.00,160.00 L112.00,160.00 L111.50,160.00 L111.00,160.00 L110.50,160.00 L110.00,160.00 L109.50,160.00 L109.00,160.00 L108.50,160.00 L108.00,160.00 L107.50,160.00 L107.00,160.00 L106.50,160.00 L106.00,160.00 L105.50,159.87 L105.00,159.22 L104.50,158.58 L104.00,157.93 Z" fill="#44b713"/>
<path d="M104.00,160.00 L104.50,160.00 L105.00,160.00 L105.50,160.00 L106.00,160.00 L106.50,160.00 L107.00,160.00 L107.50,160.00 L108.00,160.00 L108.50,160.00 L109.00,160.00 L109.50,160.00 L110.00,160.00 L110.50,160.00 L111.00,160.00 L111.50,160.00 L112.00,160.00 L112.00,160.31 L111.50,160.00 L111.00,160.00 L110.50,160.00 L110.00,160.00 L109.50,160.00 L109.00,160.00 L108.50,160.00 L108.00,160.00 L107.50,160.00 L107.00,160.00 L106.50,160.00 L106.00,160.00 L105.50,160.00 L105.00,160.00 L104.50,160.00 L104.00,160.00 Z" fill="#d42a0c"/>
<path d="M104.00,160.00 L104.50,160.00 L105.00,160.00 L105.50,160.00 L106.00,160.00 L106.50,160.00 L107.00,160.00 L107.50,160.00 L108.00,160.00 L108.50,160.00 L109.00,160.00 L109.50,160.00 L110.00,160.35 L110.50,160.99 L111.00,161.62 L111.50,162.25 L112.00,162.88 L112.00,168.00 L111.50,167.55 L111.00,166.91 L110.50,166.27 L110.00,165.64 L109.50,165.00 L109.00,164.36 L108.50,163.72 L108.00,163.08 L107.50,162.44 L107.00,161.80 L106.50,161.15 L106.00,160.51 L105.50,160.00 L105.00,160.00 L104.50,160.00 L104.00,160.00 Z" fill="#664910"/>
<path d="M112.00,149.51 L112.50,150.13 L113.00,150.75 L113.50,151.38 L114.00,151.99 L114.50,152.00 L115.00,152.00 L115.50,152.00 L116.00,152.00 L116.50,152.00 L117.00,152.00 L117.50,152.00 L118.00,152.00 L118.50,152.00 L119.00,152.00 L119.50,152.00 L120.00,152.00 L120.00,152.00 L119.50,152.00 L119.00,152.00 L118.50,152.00 L118.00,152.00 L117.50,152.00 L117.00,152.00 L116.50,152.00 L116.00,152.00 L115.50,152.00 L115.00,152.00 L114.50,152.00 L114.00,152.00 L113.50,152.00 L113.00,152.00 L112.50,152.00 L112.00,152.00 Z" fill="#ae530e"/>
<path d="M112.00,152.00 L112.50,152.00 L113.00,152.00 L113.50,152.00 L114.00,152.00 L114.50,152.61 L115.00,153.23 L115.50,153.85 L116.00,154.47 L116.50,155.09 L117.00,155.70 L117.50,156.32 L118.00,156.93 L118.50,157.54 L119.00,158.16 L119.50,158.77 L120.00,159.38 L120.00,160.00 L119.50,160.00 L119.00,160.00 L118.50,160.00 L118.00,160.00 L117.50,160.00 L117.00,160.00 L116.50,160.00 L116.00,160.00 L115.50,160.00 L115.00,160.00 L114.50,160.00 L114.00,160.00 L113.50,160.00 L113.00,160.00 L112.50,160.00 L112.00,160.00 Z" fill="#61a612"/>
<path d="M112.00,160.00 L112.50,160.00 L113.00,160.00 L113.50,160.00 L114.00,160.00 L114.50,160.00 L115.00,160.00 L115.50,160.00 L116.00,160.00 L116.50,160.00 L117.00,160.00 L117.50,160.00 L118.00,160.00 L118.50,160.00 L119.00,160.00 L119.50,160.00 L120.00,160.00 L120.00,168.00 L119.50,168.00 L119.00,168.00 L118.50,168.00 L118.00,167.74 L117.50,167.13 L117.00,166.51 L116.50,165.90 L116.00,165.28 L115.50,164.66 L115.00,164.04 L114.50,163.42 L114.00,162.80 L113.50,162.18 L113.00,161.56 L112.50,160.94 L112.00,160.31 Z" fill="#6d9a11"/>
<path d="M112.00,162.88 L112.50,163.51 L113.00,164.13 L113.50,164.76 L114.00,165.39 L114.50,166.01 L115.00,166.64 L115.50,167.26 L116.00,167.89 L116.50,168.00 L117.00,168.00 L117.50,168.00 L118.00,168.00 L118.50,168.00 L119.00,168.00 L119.50,168.00 L120.00,168.00 L120.00,168.00 L119.50,168.00 L119.00,168.00 L118.50,168.00 L118.00,168.00 L117.50,168.00 L117.00,168.00 L116.50,168.00 L116.00,168.00 L115.50,168.00 L115.00,168.00 L114.50,168.00 L114.00,168.00 L113.50,168.00 L113.00,168.00 L112.50,168.00 L112.00,168.00 Z" fill="#508f12"/>
<path d="M112.00,168.00 L112.50,168.00 L113.00,168.00 L113.50,168.00 L114.00,168.00 L114.50,168.00 L115.00,168.00 L115.50,168.00 L116.00,168.00 L116.50,168.00 L117.00,168.00 L117.50,168.00 L118.00,168.00 L118.50,168.00 L119.00,168.00 L119.50,168.00 L120.00,168.00 L120.00,170.19 L119.50,169.58 L119.00,168.97 L118.50,168.36 L118.00,168.00 L117.50,168.00 L117.00,168.00 L116.50,168.00 L116.00,168.00 L115.50,168.00 L115.00,168.00 L114.50,168.00 L114.00,168.00 L113.50,168.00 L113.00,168.00 L112.50,168.00 L112.00,168.00 Z" fill="#cf2f0c"/>
<path d="M112.00,168.00 L112.50,168.00 L113.00,168.00 L113.50,168.00 L114.00,168.00 L114.50,168.00 L115.00,168.00 L115.50,168.00 L116.00,168.00 L116.50,168.51 L117.00,169.13 L117.50,169.75 L118.00,170.37 L118.50,170.99 L119.00,171.61 L119.50,172.23 L120.00,172.85 L120.00,176.00 L119.50,176.00 L119.00,176.00 L118.50,176.00 L118.00,175.77 L117.50,175.14 L117.00,174.51 L116.50,173.88 L116.00,173.25 L115.50,172.62 L115.00,171.99 L114.50,171.36 L114.00,170.72 L113.50,170.09 L113.00,169.46 L112.50,168.82 L112.00,168.19 Z" fill="#47ad13"/>
<path d="M112.00,176.00 L112.50,176.00 L113.00,176.00 L113.50,176.00 L114.00,176.00 L114.50,176.00 L115.00,176.00 L115.50,176.00 L116.00,176.00 L116.50,176.00 L117.00,176.00 L117.50,176.00 L118.00,176.00 L118.50,176.00 L119.00,176.00 L119.50,176.00 L120.00,176.00 L120.00,178.27 L119.50,177.64 L119.00,177.02 L118.50,176.39 L118.00,176.00 L117.50,176.00 L117.00,176.00 L116.50,176.00 L116.00,176.00 L115.50,176.00 L115.00,176.00 L114.50,176.00 L114.00,176.00 L113.50,176.00 L113.00,176.00 L112.50,176.00 L112.00,176.00 Z" fill="#6a3f10"/>
<path d="M120.00,159.38 L120.50,159.99 L121.00,160.00 L121.50,160.00 L122.00,160.00 L122.50,160.00 L123.00,160.00 L123.50,160.00 L124.00,160.00 L124.50,160.00 L125.00,160.00 L125.50,160.00 L126.00,160.00 L126.50,160.00 L127.00,160.00 L127.50,160.00 L128.00,160.00 L128.00,160.00 L127.50,160.00 L127.00,160.00 L126.50,160.00 L126.00,160.00 L125.50,160.00 L125.00,160.00 L124.50,160.00 L124.00,160.00 L123.50,160.00 L123.00,160.00 L122.50,160.00 L122.00,160.00 L121.50,160.00 L121.00,160.00 L120.50,160.00 L120.00,160.00 Z" fill="#d42a0c"/>
<path d="M120.00,160.00 L120.50,160.00 L121.00,160.60 L121.50,161.21 L122.00,161.82 L122.50,162.43 L123.00,163.04 L123.50,163.64 L124.00,164.25 L124.50,164.85 L125.00,165.46 L125.50,166.06 L126.00,166.66 L126.50,167.27 L127.00,167.87 L127.50,168.00 L128.00,168.00 L128.00,168.00 L127.50,168.00 L127.00,168.00 L126.50,168.00 L126.00,168.00 L125.50,168.00 L125.00,168.00 L124.50,168.00 L124.00,168.00 L123.50,168.00 L123.00,168.00 L122.50,168.00 L122.00,168.00 L121.50,168.00 L121.00,168.00 L120.50,168.00 L120.00,168.00 Z" fill="#b74a0e"/>
<path d="M120.00,168.00 L120.50,168.00 L121.00,168.00 L121.50,168.00 L122.00,168.00 L122.50,168.00 L123.00,168.00 L123.50,168.00 L124.00,168.00 L124.50,168.00 L125.00,168.00 L125.50,168.00 L126.00,168.00 L126.50,168.00 L127.00,168.00 L127.50,168.47 L128.00,169.07 L128.00,176.00 L127.50,176.00 L127.00,176.00 L126.50,176.00 L126.00,176.00 L125.50,176.00 L125.00,176.00 L124.50,175.65 L124.00,175.05 L123.50,174.45 L123.00,173.84 L122.50,173.24 L122.00,172.63 L121.50,172.02 L121.00,171.41 L120.50,170.80 L120.00,170.19 Z" fill="#759211"/>
<path d="M120.00,172.85 L120.50,173.46 L121.00,174.08 L121.50,174.69 L122.00,175.31 L122.50,175.92 L123.00,176.00 L123.50,176.00 L124.00,176.00 L124.50,176.00 L125.00,176.00 L125.50,176.00 L126.00,176.00 L126.50,176.00 L127.00,176.00 L127.50,176.00 L128.00,176.00 L128.00,176.00 L127.50,176.00 L127.00,176.00 L126.50,176.00 L126.00,176.00 L125.50,176.00 L125.00,176.00 L124.50,176.00 L124.00,176.00 L123.50,176.00 L123.00,176.00 L122.50,176.00 L122.00,176.00 L121.50,176.00 L121.00,176.00 L120.50,176.00 L120.00,176.00 Z" fill="#6b3a10"/>
<path d="M120.00,176.00 L120.50,176.00 L121.00,176.00 L121.50,176.00 L122.00,176.00 L122.50,176.00 L123.00,176.00 L123.50,176.00 L124.00,176.00 L124.50,176.00 L125.00,176.00 L125.50,176.00 L126.00,176.00 L126.50,176.00 L127.00,176.00 L127.50,176.00 L128.00,176.00 L128.00,179.86 L127.50,179.26 L127.00,178.66 L126.50,178.06 L126.00,177.46 L125.50,176.86 L125.00,176.26 L124.50,176.00 L124.00,176.00 L123.50,176.00 L123.00,176.00 L122.50,176.00 L122.00,176.00 L121.50,176.00 L121.00,176.00 L120.50,176.00 L120.00,176.00 Z" fill="#3ccf14"/>
<path d="M120.00,176.00 L120.50,176.00 L121.00,176.00 L121.50,176.00 L122.00,176.00 L122.50,176.00 L123.00,176.53 L123.50,177.15 L124.00,177.76 L124.50,178.37 L125.00,178.98 L125.50,179.58 L126.00,180.19 L126.50,180.80 L127.00,181.40 L127.50,182.01 L128.00,182.61 L128.00,184.00 L127.50,184.00 L127.00,184.00 L126.50,184.00 L126.00,184.00 L125.50,184.00 L125.00,184.00 L124.50,183.86 L124.00,183.24 L123.50,182.62 L123.00,182.00 L122.50,181.38 L122.00,180.76 L121.50,180.14 L121.00,179.52 L120.50,178.89 L120.00,178.27 Z" fill="#557e12"/>
<path d="M120.00,184.00 L120.50,184.00 L121.00,184.00 L121.50,184.00 L122.00,184.00 L122.50,184.00 L123.00,184.00 L123.50,184.00 L124.00,184.00 L124.50,184.00 L125.00,184.00 L125.50,184.00 L126.00,184.00 L126.50,184.00 L127.00,184.00 L127.50,184.00 L128.00,184.00 L128.00,188.16 L127.50,187.55 L127.00,186.94 L126.50,186.32 L126.00,185.71 L125.50,185.09 L125.00,184.48 L124.50,184.00 L124.00,184.00 L123.50,184.00 L123.00,184.00 L122.50,184.00 L122.00,184.00 L121.50,184.00 L121.00,184.00 L120.50,184.00 L120.00,184.00 Z" fill="#3ccf14"/>
<path d="M128.00,169.07 L128.50,169.67 L129.00,170.26 L129.50,170.86 L130.00,171.46 L130.50,172.05 L131.00,172.65 L131.50,173.24 L132.00,173.84 L132.50,174.43 L133.00,175.02 L133.50,175.61 L134.00,176.00 L134.50,176.00 L135.00,176.00 L135.50,176.00 L136.00,176.00 L136.00,176.00 L135.50,176.00 L135.00,176.00 L134.50,176.00 L134.00,176.00 L133.50,176.00 L133.00,176.00 L132.50,176.00 L132.00,176.00 L131.50,176.00 L131.00,176.00 L130.50,176.00 L130.00,176.00 L129.50,176.00 L129.00,176.00 L128.50,176.00 L128.00,176.00 Z" fill="#867e10"/>
<path d="M128.00,176.00 L128.50,176.00 L129.00,176.00 L129.50,176.00 L130.00,176.00 L130.50,176.00 L131.00,176.00 L131.50,176.00 L132.00,176.00 L132.50,176.00 L133.00,176.00 L133.50,176.00 L134.00,176.20 L134.50,176.79 L135.00,177.38 L135.50,177.97 L136.00,178.55 L136.00,184.00 L135.50,184.00 L135.00,184.00 L134.50,184.00 L134.00,184.00 L133.50,184.00 L133.00,184.00 L132.50,184.00 L132.00,184.00 L131.50,184.00 L131.00,183.42 L130.50,182.83 L130.00,182.24 L129.50,181.64 L129.00,181.05 L128.50,180.45 L128.00,179.86 Z" fill="#af520e"/>
<path d="M128.00,182.61 L128.50,183.22 L129.00,183.82 L129.50,184.00 L130.00,184.00 L130.50,184.00 L131.00,184.00 L131.50,184.00 L132.00,184.00 L132.50,184.00 L133.00,184.00 L133.50,184.00 L134.00,184.00 L134.50,184.00 L135.00,184.00 L135.50,184.00 L136.00,184.00 L136.00,184.00 L135.50,184.00 L135.00,184.00 L134.50,184.00 L134.00,184.00 L133.50,184.00 L133.00,184.00 L132.50,184.00 L132.00,184.00 L131.50,184.00 L131.00,184.00 L130.50,184.00 L130.00,184.00 L129.50,184.00 L129.00,184.00 L128.50,184.00 L128.00,184.00 Z" fill="#3ccf14"/>
<path d="M128.00,184.00 L128.50,184.00 L129.00,184.00 L129.50,184.00 L130.00,184.00 L130.50,184.00 L131.00,184.00 L131.50,184.00 L132.00,184.00 L132.50,184.00 L133.00,184.00 L133.50,184.00 L134.00,184.00 L134.50,184.00 L135.00,184.00 L135.50,184.00 L136.00,184.00 L136.00,189.30 L135.50,188.71 L135.00,188.13 L134.50,187.54 L134.00,186.96 L133.50,186.37 L133.00,185.78 L132.50,185.19 L132.00,184.61 L131.50,184.01 L131.00,184.00 L130.50,184.00 L130.00,184.00 L129.50,184.00 L129.00,184.00 L128.50,184.00 L128.00,184.00 Z" fill="#a65c0e"/>
<path d="M128.00,184.00 L128.50,184.00 L129.00,184.00 L129.50,184.42 L130.00,185.02 L130.50,185.62 L131.00,186.22 L131.50,186.82 L132.00,187.41 L132.50,188.01 L133.00,188.60 L133.50,189.20 L134.00,189.79 L134.50,190.38 L135.00,190.98 L135.50,191.57 L136.00,192.00 L136.00,192.00 L135.50,192.00 L135.00,192.00 L134.50,192.00 L134.00,192.00 L133.50,192.00 L133.00,192.00 L132.50,192.00 L132.00,192.00 L131.50,192.00 L131.00,191.81 L130.50,191.21 L130.00,190.60 L129.50,189.99 L129.00,189.38 L128.50,188.77 L128.00,188.16 Z" fill="#5d6711"/>
<path d="M128.00,192.00 L128.50,192.00 L129.00,192.00 L129.50,192.00 L130.00,192.00 L130.50,192.00 L131.00,192.00 L131.50,192.00 L132.00,192.00 L132.50,192.00 L133.00,192.00 L133.50,192.00 L134.00,192.00 L134.50,192.00 L135.00,192.00 L135.50,192.00 L136.00,192.16 L136.00,197.83 L135.50,197.23 L135.00,196.64 L134.50,196.04 L134.00,195.44 L133.50,194.83 L133.00,194.23 L132.50,193.63 L132.00,193.02 L131.50,192.42 L131.00,192.00 L130.50,192.00 L130.00,192.00 L129.50,192.00 L129.00,192.00 L128.50,192.00 L128.00,192.00 Z" fill="#5e6511"/>
<path d="M136.00,178.55 L136.50,179.14 L137.00,179.72 L137.50,180.31 L138.00,180.89 L138.50,181.47 L139.00,182.05 L139.50,182.63 L140.00,183.21 L140.50,183.79 L141.00,184.00 L141.50,184.00 L142.00,184.00 L142.50,184.00 L143.00,184.00 L143.50,184.00 L144.00,184.00 L144.00,184.00 L143.50,184.00 L143.00,184.00 L142.50,184.00 L142.00,184.00 L141.50,184.00 L141.00,184.00 L140.50,184.00 L140.00,184.00 L139.50,184.00 L139.00,184.00 L138.50,184.00 L138.00,184.00 L137.50,184.00 L137.00,184.00 L136.50,184.00 L136.00,184.00 Z" fill="#3ccf14"/>
<path d="M136.00,184.00 L136.50,184.00 L137.00,184.00 L137.50,184.00 L138.00,184.00 L138.50,184.00 L139.00,184.00 L139.50,184.00 L140.00,184.00 L140.50,184.00 L141.00,184.37 L141.50,184.95 L142.00,185.52 L142.50,186.10 L143.00,186.67 L143.50,187.25 L144.00,187.82 L144.00,192.00 L143.50,192.00 L143.00,192.00 L142.50,192.00 L142.00,192.00 L141.50,192.00 L141.00,192.00 L140.50,192.00 L140.00,192.00 L139.50,192.00 L139.00,192.00 L138.50,192.00 L138.00,191.62 L137.50,191.04 L137.00,190.46 L136.50,189.88 L136.00,189.30 Z" fill="#6d9911"/>
<path d="M136.00,192.00 L136.50,192.00 L137.00,192.00 L137.50,192.00 L138.00,192.00 L138.50,192.00 L139.00,192.00 L139.50,192.00 L140.00,192.00 L140.50,192.00 L141.00,192.00 L141.50,192.00 L142.00,192.00 L142.50,192.00 L143.00,192.00 L143.50,192.00 L144.00,192.00 L144.00,198.50 L143.50,197.93 L143.00,197.36 L142.50,196.79 L142.00,196.22 L141.50,195.65 L141.00,195.08 L140.50,194.50 L140.00,193.93 L139.50,193.35 L139.00,192.78 L138.50,192.20 L138.00,192.00 L137.50,192.00 L137.00,192.00 L136.50,192.00 L136.00,192.00 Z" fill="#b24f0e"/>
<path d="M136.00,192.16 L136.50,192.75 L137.00,193.33 L137.50,193.92 L138.00,194.51 L138.50,195.09 L139.00,195.68 L139.50,196.26 L140.00,196.84 L140.50,197.42 L141.00,198.00 L141.50,198.58 L142.00,199.16 L142.50,199.74 L143.00,200.00 L143.50,200.00 L144.00,200.00 L144.00,200.00 L143.50,200.00 L143.00,200.00 L142.50,200.00 L142.00,200.00 L141.50,200.00 L141.00,200.00 L140.50,200.00 L140.00,200.00 L139.50,200.00 L139.00,200.00 L138.50,200.00 L138.00,200.00 L137.50,199.62 L137.00,199.02 L136.50,198.43 L136.00,197.83 Z" fill="#3fc514"/>
<path d="M136.00,200.00 L136.50,200.00 L137.00,200.00 L137.50,200.00 L138.00,200.00 L138.50,200.00 L139.00,200.00 L139.50,200.00 L140.00,200.00 L140.50,200.00 L141.00,200.00 L141.50,200.00 L142.00,200.00 L142.50,200.00 L143.00,200.31 L143.50,200.89 L144.00,201.46 L144.00,207.26 L143.50,206.68 L143.00,206.10 L142.50,205.51 L142.00,204.93 L141.50,204.34 L141.00,203.76 L140.50,203.17 L140.00,202.58 L139.50,201.99 L139.00,201.40 L138.50,200.81 L138.00,200.21 L137.50,200.00 L137.00,200.00 L136.50,200.00 L136.00,200.00 Z" fill="#5e6311"/>
<path d="M144.00,187.82 L144.50,188.39 L145.00,188.96 L145.50,189.53 L146.00,190.10 L146.50,190.67 L147.00,191.24 L147.50,191.80 L148.00,192.00 L148.50,192.00 L149.00,192.00 L149.50,192.00 L150.00,192.00 L150.50,192.00 L151.00,192.00 L151.50,192.00 L152.00,192.00 L152.00,192.00 L151.50,192.00 L151.00,192.00 L150.50,192.00 L150.00,192.00 L149.50,192.00 L149.00,192.00 L148.50,192.00 L148.00,192.00 L147.50,192.00 L147.00,192.00 L146.50,192.00 L146.00,192.00 L145.50,192.00 L145.00,192.00 L144.50,192.00 L144.00,192.00 Z" fill="#d02e0c"/>
<path d="M144.00,192.00 L144.50,192.00 L145.00,192.00 L145.50,192.00 L146.00,192.00 L146.50,192.00 L147.00,192.00 L147.50,192.00 L148.00,192.37 L148.50,192.93 L149.00,193.50 L149.50,194.06 L150.00,194.62 L150.50,195.18 L151.00,195.74 L151.50,196.30 L152.00,196.86 L152.00,200.00 L151.50,200.00 L151.00,200.00 L150.50,200.00 L150.00,200.00 L149.50,200.00 L149.00,200.00 L148.50,200.00 L148.00,200.00 L147.50,200.00 L147.00,200.00 L146.50,200.00 L146.00,200.00 L145.50,200.00 L145.00,199.63 L144.50,199.07 L144.00,198.50 Z" fill="#7f8710"/>
<path d="M144.00,200.00 L144.50,200.00 L145.00,200.00 L145.50,200.00 L146.00,200.00 L146.50,200.00 L147.00,200.00 L147.50,200.00 L148.00,200.00 L148.50,200.00 L149.00,200.00 L149.50,200.00 L150.00,200.00 L150.50,200.00 L151.00,200.00 L151.50,200.00 L152.00,200.00 L152.00,207.46 L151.50,206.90 L151.00,206.35 L150.50,205.80 L150.00,205.24 L149.50,204.68 L149.00,204.13 L148.50,203.57 L148.00,203.01 L147.50,202.45 L147.00,201.89 L146.50,201.32 L146.00,200.76 L145.50,200.20 L145.00,200.00 L144.50,200.00 L144.00,200.00 Z" fill="#46c513"/>
<path d="M144.00,201.46 L144.50,202.04 L145.00,202.61 L145.50,203.18 L146.00,203.75 L146.50,204.32 L147.00,204.89 L147.50,205.46 L148.00,206.03 L148.50,206.59 L149.00,207.16 L149.50,207.72 L150.00,208.00 L150.50,208.00 L151.00,208.00 L151.50,208.00 L152.00,208.00 L152.00,208.00 L151.50,208.00 L151.00,208.00 L150.50,208.00 L150.00,208.00 L149.50,208.00 L149.00,208.00 L148.50,208.00 L148.00,208.00 L147.50,208.00 L147.00,208.00 L146.50,208.00 L146.00,208.00 L145.50,208.00 L145.00,208.00 L144.50,207.85 L144.00,207.26 Z" fill="#605d11"/>
<path d="M144.00,208.00 L144.50,208.00 L145.00,208.00 L145.50,208.00 L146.00,208.00 L146.50,208.00 L147.00,208.00 L147.50,208.00 L148.00,208.00 L148.50,208.00 L149.00,208.00 L149.50,208.00 L150.00,208.28 L150.50,208.85 L151.00,209.41 L151.50,209.97 L152.00,210.52 L152.00,216.00 L151.50,215.87 L151.00,215.31 L150.50,214.74 L150.00,214.17 L149.50,213.60 L149.00,213.03 L148.50,212.46 L148.00,211.88 L147.50,211.31 L147.00,210.74 L146.50,210.16 L146.00,209.58 L145.50,209.00 L145.00,208.43 L144.50,208.00 L144.00,208.00 Z" fill="#41be14"/>
<path d="M144.00,216.00 L144.50,216.00 L145.00,216.00 L145.50,216.00 L146.00,216.00 L146.50,216.00 L147.00,216.00 L147.50,216.00 L148.00,216.00 L148.50,216.00 L149.00,216.00 L149.50,216.00 L150.00,216.00 L150.50,216.00 L151.00,216.00 L151.50,216.00 L152.00,216.00 L152.00,216.44 L151.50,216.00 L151.00,216.00 L150.50,216.00 L150.00,216.00 L149.50,216.00 L149.00,216.00 L148.50,216.00 L148.00,216.00 L147.50,216.00 L147.00,216.00 L146.50,216.00 L146.00,216.00 L145.50,216.00 L145.00,216.00 L144.50,216.00 L144.00,216.00 Z" fill="#3ccf14"/>
<path d="M152.00,196.86 L152.50,197.42 L153.00,197.97 L153.50,198.53 L154.00,199.08 L154.50,199.64 L155.00,200.00 L155.50,200.00 L156.00,200.00 L156.50,200.00 L157.00,200.00 L157.50,200.00 L158.00,200.00 L158.50,200.00 L159.00,200.00 L159.50,200.00 L160.00,200.00 L160.00,200.00 L159.50,200.00 L159.00,200.00 L158.50,200.00 L158.00,200.00 L157.50,200.00 L157.00,200.00 L156.50,200.00 L156.00,200.00 L155.50,200.00 L155.00,200.00 L154.50,200.00 L154.00,200.00 L153.50,200.00 L153.00,200.00 L152.50,200.00 L152.00,200.00 Z" fill="#8d7710"/>
<path d="M152.00,200.00 L152.50,200.00 L153.00,200.00 L153.50,200.00 L154.00,200.00 L154.50,200.00 L155.00,200.19 L155.50,200.74 L156.00,201.29 L156.50,201.84 L157.00,202.39 L157.50,202.94 L158.00,203.48 L158.50,204.03 L159.00,204.57 L159.50,205.12 L160.00,205.66 L160.00,208.00 L159.50,208.00 L159.00,208.00 L158.50,208.00 L158.00,208.00 L157.50,208.00 L157.00,208.00 L156.50,208.00 L156.00,208.00 L155.50,208.00 L155.00,208.00 L154.50,208.00 L154.00,208.00 L153.50,208.00 L153.00,208.00 L152.50,208.00 L152.00,207.46 Z" fill="#b64a0e"/>
<path d="M152.00,208.00 L152.50,208.00 L153.00,208.00 L153.50,208.00 L154.00,208.00 L154.50,208.00 L155.00,208.00 L155.50,208.00 L156.00,208.00 L156.50,208.00 L157.00,208.00 L157.50,208.00 L158.00,208.00 L158.50,208.00 L159.00,208.00 L159.50,208.00 L160.00,208.00 L160.00,216.00 L159.50,215.62 L159.00,215.08 L158.50,214.54 L158.00,214.01 L157.50,213.47 L157.00,212.92 L156.50,212.38 L156.00,211.84 L155.50,211.29 L155.00,210.75 L154.50,210.20 L154.00,209.66 L153.50,209.11 L153.00,208.56 L152.50,208.01 L152.00,208.00 Z" fill="#a55d0e"/>
<path d="M152.00,210.52 L152.50,211.08 L153.00,211.64 L153.50,212.20 L154.00,212.75 L154.50,213.30 L155.00,213.86 L155.50,214.41 L156.00,214.96 L156.50,215.51 L157.00,216.00 L157.50,216.00 L158.00,216.00 L158.50,216.00 L159.00,216.00 L159.50,216.00 L160.00,216.00 L160.00,216.00 L159.50,216.00 L159.00,216.00 L158.50,216.00 L158.00,216.00 L157.50,216.00 L157.00,216.00 L156.50,216.00 L156.00,216.00 L155.50,216.00 L155.00,216.00 L154.50,216.00 L154.00,216.00 L153.50,216.00 L153.00,216.00 L152.50,216.00 L152.00,216.00 Z" fill="#5e6311"/>
<path d="M152.00,216.00 L152.50,216.00 L153.00,216.00 L153.50,216.00 L154.00,216.00 L154.50,216.00 L155.00,216.00 L155.50,216.00 L156.00,216.00 L156.50,216.00 L157.00,216.06 L157.50,216.60 L158.00,217.15 L158.50,217.70 L159.00,218.24 L159.50,218.78 L160.00,219.33 L160.00,224.00 L159.50,224.00 L159.00,224.00 L158.50,223.69 L158.00,223.14 L157.50,222.59 L157.00,222.03 L156.50,221.48 L156.00,220.92 L155.50,220.37 L155.00,219.81 L154.50,219.25 L154.00,218.69 L153.50,218.13 L153.00,217.57 L152.50,217.00 L152.00,216.44 Z" fill="#615a11"/>
<path d="M152.00,224.00 L152.50,224.00 L153.00,224.00 L153.50,224.00 L154.00,224.00 L154.50,224.00 L155.00,224.00 L155.50,224.00 L156.00,224.00 L156.50,224.00 L157.00,224.00 L157.50,224.00 L158.00,224.00 L158.50,224.00 L159.00,224.00 L159.50,224.00 L160.00,224.00 L160.00,225.34 L159.50,224.79 L159.00,224.24 L158.50,224.00 L158.00,224.00 L157.50,224.00 L157.00,224.00 L156.50,224.00 L156.00,224.00 L155.50,224.00 L155.00,224.00 L154.50,224.00 L154.00,224.00 L153.50,224.00 L153.00,224.00 L152.50,224.00 L152.00,224.00 Z" fill="#3ccf14"/>
<path d="M160.00,205.66 L160.50,206.20 L161.00,206.74 L161.50,207.28 L162.00,207.82 L162.50,208.00 L163.00,208.00 L163.50,208.00 L164.00,208.00 L164.50,208.00 L165.00,208.00 L165.50,208.00 L166.00,208.00 L166.50,208.00 L167.00,208.00 L167.50,208.00 L168.00,208.00 L168.00,208.00 L167.50,208.00 L167.00,208.00 L166.50,208.00 L166.00,208.00 L165.50,208.00 L165.00,208.00 L164.50,208.00 L164.00,208.00 L163.50,208.00 L163.00,208.00 L162.50,208.00 L162.00,208.00 L161.50,208.00 L161.00,208.00 L160.50,208.00 L160.00,208.00 Z" fill="#3ccf14"/>
<path d="M160.00,208.00 L160.50,208.00 L161.00,208.00 L161.50,208.00 L162.00,208.00 L162.50,208.36 L163.00,208.89 L163.50,209.43 L164.00,209.96 L164.50,210.50 L165.00,211.03 L165.50,211.56 L166.00,212.09 L166.50,212.62 L167.00,213.15 L167.50,213.68 L168.00,214.21 L168.00,216.00 L167.50,216.00 L167.00,216.00 L166.50,216.00 L166.00,216.00 L165.50,216.00 L165.00,216.00 L164.50,216.00 L164.00,216.00 L163.50,216.00 L163.00,216.00 L162.50,216.00 L162.00,216.00 L161.50,216.00 L161.00,216.00 L160.50,216.00 L160.00,216.00 Z" fill="#62a612"/>
<path d="M160.00,216.00 L160.50,216.00 L161.00,216.00 L161.50,216.00 L162.00,216.00 L162.50,216.00 L163.00,216.00 L163.50,216.00 L164.00,216.00 L164.50,216.00 L165.00,216.00 L165.50,216.00 L166.00,216.00 L166.50,216.00 L167.00,216.00 L167.50,216.00 L168.00,216.00 L168.00,224.00 L167.50,224.00 L167.00,223.56 L166.50,223.03 L166.00,222.51 L165.50,221.99 L165.00,221.46 L164.50,220.94 L164.00,220.41 L163.50,219.88 L163.00,219.35 L162.50,218.82 L162.00,218.29 L161.50,217.76 L161.00,217.23 L160.50,216.69 L160.00,216.16 Z" fill="#9d660f"/>
<path d="M160.00,219.33 L160.50,219.87 L161.00,220.41 L161.50,220.95 L162.00,221.49 L162.50,222.02 L163.00,222.56 L163.50,223.09 L164.00,223.63 L164.50,224.00 L165.00,224.00 L165.50,224.00 L166.00,224.00 L166.50,224.00 L167.00,224.00 L167.50,224.00 L168.00,224.00 L168.00,224.00 L167.50,224.00 L167.00,224.00 L166.50,224.00 L166.00,224.00 L165.50,224.00 L165.00,224.00 L164.50,224.00 L164.00,224.00 L163.50,224.00 L163.00,224.00 L162.50,224.00 L162.00,224.00 L161.50,224.00 L161.00,224.00 L160.50,224.00 L160.00,224.00 Z" fill="#3ccf14"/>
<path d="M160.00,224.00 L160.50,224.00 L161.00,224.00 L161.50,224.00 L162.00,224.00 L162.50,224.00 L163.00,224.00 L163.50,224.00 L164.00,224.00 L164.50,224.00 L165.00,224.00 L165.50,224.00 L166.00,224.00 L166.50,224.00 L167.00,224.00 L167.50,224.00 L168.00,224.00 L168.00,224.60 L167.50,224.08 L167.00,224.00 L166.50,224.00 L166.00,224.00 L165.50,224.00 L165.00,224.00 L164.50,224.00 L164.00,224.00 L163.50,224.00 L163.00,224.00 L162.50,224.00 L162.00,224.00 L161.50,224.00 L161.00,224.00 L160.50,224.00 L160.00,224.00 Z" fill="#d42a0c"/>
<path d="M160.00,224.00 L160.50,224.00 L161.00,224.00 L161.50,224.00 L162.00,224.00 L162.50,224.00 L163.00,224.00 L163.50,224.00 L164.00,224.00 L164.50,224.16 L165.00,224.69 L165.50,225.22 L166.00,225.75 L166.50,226.28 L167.00,226.81 L167.50,227.34 L168.00,227.86 L168.00,232.00 L167.50,232.00 L167.00,232.00 L166.50,232.00 L166.00,231.83 L165.50,231.29 L165.00,230.76 L164.50,230.22 L164.00,229.68 L163.50,229.14 L163.00,228.60 L162.50,228.06 L162.00,227.52 L161.50,226.97 L161.00,226.43 L160.50,225.89 L160.00,225.34 Z" fill="#538612"/>
<path d="M160.00,232.00 L160.50,232.00 L161.00,232.00 L161.50,232.00 L162.00,232.00 L162.50,232.00 L163.00,232.00 L163.50,232.00 L164.00,232.00 L164.50,232.00 L165.00,232.00 L165.50,232.00 L166.00,232.00 L166.50,232.00 L167.00,232.00 L167.50,232.00 L168.00,232.00 L168.00,233.95 L167.50,233.42 L167.00,232.89 L166.50,232.36 L166.00,232.00 L165.50,232.00 L165.00,232.00 L164.50,232.00 L164.00,232.00 L163.50,232.00 L163.00,232.00 L162.50,232.00 L162.00,232.00 L161.50,232.00 L161.00,232.00 L160.50,232.00 L160.00,232.00 Z" fill="#6b3a10"/>
<path d="M168.00,214.21 L168.50,214.73 L169.00,215.26 L169.50,215.78 L170.00,216.00 L170.50,216.00 L171.00,216.00 L171.50,216.00 L172.00,216.00 L172.50,216.00 L173.00,216.00 L173.50,216.00 L174.00,216.00 L174.50,216.00 L175.00,216.00 L175.50,216.00 L176.00,216.00 L176.00,216.00 L175.50,216.00 L175.00,216.00 L174.50,216.00 L174.00,216.00 L173.50,216.00 L173.00,216.00 L172.50,216.00 L172.00,216.00 L171.50,216.00 L171.00,216.00 L170.50,216.00 L170.00,216.00 L169.50,216.00 L169.00,216.00 L168.50,216.00 L168.00,216.00 Z" fill="#d42a0c"/>
<path d="M168.00,216.00 L168.50,216.00 L169.00,216.00 L169.50,216.00 L170.00,216.30 L170.50,216.83 L171.00,217.35 L171.50,217.87 L172.00,218.39 L172.50,218.90 L173.00,219.42 L173.50,219.94 L174.00,220.45 L174.50,220.96 L175.00,221.48 L175.50,221.99 L176.00,222.50 L176.00,224.00 L175.50,224.00 L175.00,224.00 L174.50,224.00 L174.00,224.00 L173.50,224.00 L173.00,224.00 L172.50,224.00 L172.00,224.00 L171.50,224.00 L171.00,224.00 L170.50,224.00 L170.00,224.00 L169.50,224.00 L169.00,224.00 L168.50,224.00 L168.00,224.00 Z" fill="#867e10"/>
<path d="M168.00,224.00 L168.50,224.00 L169.00,224.00 L169.50,224.00 L170.00,224.00 L170.50,224.00 L171.00,224.00 L171.50,224.00 L172.00,224.00 L172.50,224.00 L173.00,224.00 L173.50,224.00 L174.00,224.00 L174.50,224.00 L175.00,224.00 L175.50,224.00 L176.00,224.00 L176.00,232.00 L175.50,232.00 L175.00,231.76 L174.50,231.25 L174.00,230.75 L173.50,230.24 L173.00,229.73 L172.50,229.22 L172.00,228.71 L171.50,228.20 L171.00,227.69 L170.50,227.18 L170.00,226.66 L169.50,226.15 L169.00,225.63 L168.50,225.11 L168.00,224.60 Z" fill="#53b713"/>
<path d="M168.00,227.86 L168.50,228.39 L169.00,228.91 L169.50,229.43 L170.00,229.95 L170.50,230.47 L171.00,230.99 L171.50,231.51 L172.00,232.00 L172.50,232.00 L173.00,232.00 L173.50,232.00 L174.00,232.00 L174.50,232.00 L175.00,232.00 L175.50,232.00 L176.00,232.00 L176.00,232.00 L175.50,232.00 L175.00,232.00 L174.50,232.00 L174.00,232.00 L173.50,232.00 L173.00,232.00 L172.50,232.00 L172.00,232.00 L171.50,232.00 L171.00,232.00 L170.50,232.00 L170.00,232.00 L169.50,232.00 L169.00,232.00 L168.50,232.00 L168.00,232.00 Z" fill="#674710"/>
<path d="M168.00,232.00 L168.50,232.00 L169.00,232.00 L169.50,232.00 L170.00,232.00 L170.50,232.00 L171.00,232.00 L171.50,232.00 L172.00,232.00 L172.50,232.00 L173.00,232.00 L173.50,232.00 L174.00,232.00 L174.50,232.00 L175.00,232.00 L175.50,232.00 L176.00,232.00 L176.00,232.77 L175.50,232.26 L175.00,232.00 L174.50,232.00 L174.00,232.00 L173.50,232.00 L173.00,232.00 L172.50,232.00 L172.00,232.00 L171.50,232.00 L171.00,232.00 L170.50,232.00 L170.00,232.00 L169.50,232.00 L169.00,232.00 L168.50,232.00 L168.00,232.00 Z" fill="#3ccf14"/>
<path d="M168.00,232.00 L168.50,232.00 L169.00,232.00 L169.50,232.00 L170.00,232.00 L170.50,232.00 L171.00,232.00 L171.50,232.00 L172.00,232.02 L172.50,232.54 L173.00,233.06 L173.50,233.57 L174.00,234.08 L174.50,234.59 L175.00,235.10 L175.50,235.61 L176.00,236.12 L176.00,240.00 L175.50,240.00 L175.00,240.00 L174.50,240.00 L174.00,240.00 L173.50,239.70 L173.00,239.18 L172.50,238.66 L172.00,238.15 L171.50,237.63 L171.00,237.10 L170.50,236.58 L170.00,236.06 L169.50,235.53 L169.00,235.01 L168.50,234.48 L168.00,233.95 Z" fill="#48aa13"/>
<path d="M168.00,240.00 L168.50,240.00 L169.00,240.00 L169.50,240.00 L170.00,240.00 L170.50,240.00 L171.00,240.00 L171.50,240.00 L172.00,240.00 L172.50,240.00 L173.00,240.00 L173.50,240.00 L174.00,240.00 L174.50,240.00 L175.00,240.00 L175.50,240.00 L176.00,240.00 L176.00,242.26 L175.50,241.75 L175.00,241.24 L174.50,240.73 L174.00,240.21 L173.50,240.00 L173.00,240.00 L172.50,240.00 L172.00,240.00 L171.50,240.00 L171.00,240.00 L170.50,240.00 L170.00,240.00 L169.50,240.00 L169.00,240.00 L168.50,240.00 L168.00,240.00 Z" fill="#3ccf14"/>
<path d="M176.00,222.50 L176.50,223.01 L177.00,223.52 L177.50,224.00 L178.00,224.00 L178.50,224.00 L179.00,224.00 L179.50,224.00 L180.00,224.00 L180.50,224.00 L181.00,224.00 L181.50,224.00 L182.00,224.00 L182.50,224.00 L183.00,224.00 L183.50,224.00 L184.00,224.00 L184.00,224.00 L183.50,224.00 L183.00,224.00 L182.50,224.00 L182.00,224.00 L181.50,224.00 L181.00,224.00 L180.50,224.00 L180.00,224.00 L179.50,224.00 L179.00,224.00 L178.50,224.00 L178.00,224.00 L177.50,224.00 L177.00,224.00 L176.50,224.00 L176.00,224.00 Z" fill="#46c413"/>
<path d="M176.00,224.00 L176.50,224.00 L177.00,224.00 L177.50,224.02 L178.00,224.53 L178.50,225.04 L179.00,225.54 L179.50,226.04 L180.00,226.55 L180.50,227.05 L181.00,227.55 L181.50,228.05 L182.00,228.54 L182.50,229.04 L183.00,229.54 L183.50,230.03 L184.00,230.53 L184.00,232.00 L183.50,232.00 L183.00,232.00 L182.50,232.00 L182.00,232.00 L181.50,232.00 L181.00,232.00 L180.50,232.00 L180.00,232.00 L179.50,232.00 L179.00,232.00 L178.50,232.00 L178.00,232.00 L177.50,232.00 L177.00,232.00 L176.50,232.00 L176.00,232.00 Z" fill="#b24f0e"/>
<path d="M176.00,232.00 L176.50,232.00 L177.00,232.00 L177.50,232.00 L178.00,232.00 L178.50,232.00 L179.00,232.00 L179.50,232.00 L180.00,232.00 L180.50,232.00 L181.00,232.00 L181.50,232.00 L182.00,232.00 L182.50,232.00 L183.00,232.00 L183.50,232.00 L184.00,232.00 L184.00,240.00 L183.50,240.00 L183.00,239.69 L182.50,239.20 L182.00,238.71 L181.50,238.22 L181.00,237.73 L180.50,237.24 L180.00,236.75 L179.50,236.25 L179.00,235.76 L178.50,235.26 L178.00,234.77 L177.50,234.27 L177.00,233.77 L176.50,233.27 L176.00,232.77 Z" fill="#b64a0e"/>
<path d="M176.00,236.12 L176.50,236.63 L177.00,237.13 L177.50,237.64 L178.00,238.14 L178.50,238.64 L179.00,239.14 L179.50,239.64 L180.00,240.00 L180.50,240.00 L181.00,240.00 L181.50,240.00 L182.00,240.00 L182.50,240.00 L183.00,240.00 L183.50,240.00 L184.00,240.00 L184.00,240.00 L183.50,240.00 L183.00,240.00 L182.50,240.00 L182.00,240.00 L181.50,240.00 L181.00,240.00 L180.50,240.00 L180.00,240.00 L179.50,240.00 L179.00,240.00 L178.50,240.00 L178.00,240.00 L177.50,240.00 L177.00,240.00 L176.50,240.00 L176.00,240.00 Z" fill="#567d12"/>
<path d="M176.00,240.00 L176.50,240.00 L177.00,240.00 L177.50,240.00 L178.00,240.00 L178.50,240.00 L179.00,240.00 L179.50,240.00 L180.00,240.00 L180.50,240.00 L181.00,240.00 L181.50,240.00 L182.00,240.00 L182.50,240.00 L183.00,240.00 L183.50,240.00 L184.00,240.00 L184.00,240.66 L183.50,240.18 L183.00,240.00 L182.50,240.00 L182.00,240.00 L181.50,240.00 L181.00,240.00 L180.50,240.00 L180.00,240.00 L179.50,240.00 L179.00,240.00 L178.50,240.00 L178.00,240.00 L177.50,240.00 L177.00,240.00 L176.50,240.00 L176.00,240.00 Z" fill="#3ccf14"/>
<path d="M176.00,240.00 L176.50,240.00 L177.00,240.00 L177.50,240.00 L178.00,240.00 L178.50,240.00 L179.00,240.00 L179.50,240.00 L180.00,240.14 L180.50,240.64 L181.00,241.14 L181.50,241.63 L182.00,242.13 L182.50,242.62 L183.00,243.11 L183.50,243.61 L184.00,244.10 L184.00,248.00 L183.50,248.00 L183.00,248.00 L182.50,248.00 L182.00,248.00 L181.50,247.80 L181.00,247.31 L180.50,246.81 L180.00,246.31 L179.50,245.81 L179.00,245.30 L178.50,244.80 L178.00,244.30 L177.50,243.79 L177.00,243.28 L176.50,242.77 L176.00,242.26 Z" fill="#645111"/>
<path d="M176.00,248.00 L176.50,248.00 L177.00,248.00 L177.50,248.00 L178.00,248.00 L178.50,248.00 L179.00,248.00 L179.50,248.00 L180.00,248.00 L180.50,248.00 L181.00,248.00 L181.50,248.00 L182.00,248.00 L182.50,248.00 L183.00,248.00 L183.50,248.00 L184.00,248.00 L184.00,250.27 L183.50,249.78 L183.00,249.29 L182.50,248.79 L182.00,248.30 L181.50,248.00 L181.00,248.00 L180.50,248.00 L180.00,248.00 L179.50,248.00 L179.00,248.00 L178.50,248.00 L178.00,248.00 L177.50,248.00 L177.00,248.00 L176.50,248.00 L176.00,248.00 Z" fill="#528912"/>
<path d="M184.00,230.53 L184.50,231.02 L185.00,231.51 L185.50,232.00 L186.00,232.00 L186.50,232.00 L187.00,232.00 L187.50,232.00 L188.00,232.00 L188.50,232.00 L189.00,232.00 L189.50,232.00 L190.00,232.00 L190.50,232.00 L191.00,232.00 L191.50,232.00 L192.00,232.00 L192.00,232.00 L191.50,232.00 L191.00,232.00 L190.50,232.00 L190.00,232.00 L189.50,232.00 L189.00,232.00 L188.50,232.00 L188.00,232.00 L187.50,232.00 L187.00,232.00 L186.50,232.00 L186.00,232.00 L185.50,232.00 L185.00,232.00 L184.50,232.00 L184.00,232.00 Z" fill="#3ccf14"/>
<path d="M184.00,232.00 L184.50,232.00 L185.00,232.00 L185.50,232.00 L186.00,232.49 L186.50,232.98 L187.00,233.47 L187.50,233.95 L188.00,234.44 L188.50,234.92 L189.00,235.41 L189.50,235.89 L190.00,236.37 L190.50,236.85 L191.00,237.33 L191.50,237.81 L192.00,238.29 L192.00,240.00 L191.50,240.00 L191.00,240.00 L190.50,240.00 L190.00,240.00 L189.50,240.00 L189.00,240.00 L188.50,240.00 L188.00,240.00 L187.50,240.00 L187.00,240.00 L186.50,240.00 L186.00,240.00 L185.50,240.00 L185.00,240.00 L184.50,240.00 L184.00,240.00 Z" fill="#55b413"/>
<path d="M184.00,240.00 L184.50,240.00 L185.00,240.00 L185.50,240.00 L186.00,240.00 L186.50,240.00 L187.00,240.00 L187.50,240.00 L188.00,240.00 L188.50,240.00 L189.00,240.00 L189.50,240.00 L190.00,240.00 L190.50,240.00 L191.00,240.00 L191.50,240.00 L192.00,240.00 L192.00,248.00 L191.50,247.81 L191.00,247.34 L190.50,246.88 L190.00,246.40 L189.50,245.93 L189.00,245.46 L188.50,244.98 L188.00,244.51 L187.50,244.03 L187.00,243.55 L186.50,243.07 L186.00,242.59 L185.50,242.11 L185.00,241.63 L184.50,241.15 L184.00,240.66 Z" fill="#877e10"/>
<path d="M184.00,244.10 L184.50,244.58 L185.00,245.07 L185.50,245.56 L186.00,246.05 L186.50,246.53 L187.00,247.01 L187.50,247.50 L188.00,247.98 L188.50,248.00 L189.00,248.00 L189.50,248.00 L190.00,248.00 L190.50,248.00 L191.00,248.00 L191.50,248.00 L192.00,248.00 L192.00,248.00 L191.50,248.00 L191.00,248.00 L190.50,248.00 L190.00,248.00 L189.50,248.00 L189.00,248.00 L188.50,248.00 L188.00,248.00 L187.50,248.00 L187.00,248.00 L186.50,248.00 L186.00,248.00 L185.50,248.00 L185.00,248.00 L184.50,248.00 L184.00,248.00 Z" fill="#3ccf14"/>
<path d="M184.00,248.00 L184.50,248.00 L185.00,248.00 L185.50,248.00 L186.00,248.00 L186.50,248.00 L187.00,248.00 L187.50,248.00 L188.00,248.00 L188.50,248.00 L189.00,248.00 L189.50,248.00 L190.00,248.00 L190.50,248.00 L191.00,248.00 L191.50,248.00 L192.00,248.00 L192.00,248.28 L191.50,248.00 L191.00,248.00 L190.50,248.00 L190.00,248.00 L189.50,248.00 L189.00,248.00 L188.50,248.00 L188.00,248.00 L187.50,248.00 L187.00,248.00 L186.50,248.00 L186.00,248.00 L185.50,248.00 L185.00,248.00 L184.50,248.00 L184.00,248.00 Z" fill="#d42a0c"/>
<path d="M184.00,248.00 L184.50,248.00 L185.00,248.00 L185.50,248.00 L186.00,248.00 L186.50,248.00 L187.00,248.00 L187.50,248.00 L188.00,248.00 L188.50,248.46 L189.00,248.94 L189.50,249.41 L190.00,249.89 L190.50,250.37 L191.00,250.84 L191.50,251.31 L192.00,251.79 L192.00,256.00 L191.50,256.00 L191.00,256.00 L190.50,256.00 L190.00,256.00 L189.50,255.60 L189.00,255.12 L188.50,254.64 L188.00,254.16 L187.50,253.68 L187.00,253.19 L186.50,252.71 L186.00,252.23 L185.50,251.74 L185.00,251.25 L184.50,250.76 L184.00,250.27 Z" fill="#4c9d13"/>
<path d="M184.00,256.00 L184.50,256.00 L185.00,256.00 L185.50,256.00 L186.00,256.00 L186.50,256.00 L187.00,256.00 L187.50,256.00 L188.00,256.00 L188.50,256.00 L189.00,256.00 L189.50,256.00 L190.00,256.00 L190.50,256.00 L191.00,256.00 L191.50,256.00 L192.00,256.00 L192.00,257.97 L191.50,257.50 L191.00,257.02 L190.50,256.55 L190.00,256.07 L189.50,256.00 L189.00,256.00 L188.50,256.00 L188.00,256.00 L187.50,256.00 L187.00,256.00 L186.50,256.00 L186.00,256.00 L185.50,256.00 L185.00,256.00 L184.50,256.00 L184.00,256.00 Z" fill="#6b3a10"/>
<path d="M192.00,238.29 L192.50,238.76 L193.00,239.24 L193.50,239.71 L194.00,240.00 L194.50,240.00 L195.00,240.00 L195.50,240.00 L196.00,240.00 L196.50,240.00 L197.00,240.00 L197.50,240.00 L198.00,240.00 L198.50,240.00 L199.00,240.00 L199.50,240.00 L200.00,240.00 L200.00,240.00 L199.50,240.00 L199.00,240.00 L198.50,240.00 L198.00,240.00 L197.50,240.00 L197.00,240.00 L196.50,240.00 L196.00,240.00 L195.50,240.00 L195.00,240.00 L194.50,240.00 L194.00,240.00 L193.50,240.00 L193.00,240.00 L192.50,240.00 L192.00,240.00 Z" fill="#d42a0c"/>
<path d="M192.00,240.00 L192.50,240.00 L193.00,240.00 L193.50,240.00 L194.00,240.18 L194.50,240.65 L195.00,241.12 L195.50,241.59 L196.00,242.06 L196.50,242.53 L197.00,243.00 L197.50,243.46 L198.00,243.93 L198.50,244.39 L199.00,244.85 L199.50,245.31 L200.00,245.77 L200.00,248.00 L199.50,248.00 L199.00,248.00 L198.50,248.00 L198.00,248.00 L197.50,248.00 L197.00,248.00 L196.50,248.00 L196.00,248.00 L195.50,248.00 L195.00,248.00 L194.50,248.00 L194.00,248.00 L193.50,248.00 L193.00,248.00 L192.50,248.00 L192.00,248.00 Z" fill="#9e640f"/>
<path d="M192.00,248.00 L192.50,248.00 L193.00,248.00 L193.50,248.00 L194.00,248.00 L194.50,248.00 L195.00,248.00 L195.50,248.00 L196.00,248.00 L196.50,248.00 L197.00,248.00 L197.50,248.00 L198.00,248.00 L198.50,248.00 L199.00,248.00 L199.50,248.00 L200.00,248.00 L200.00,255.62 L199.50,255.17 L199.00,254.72 L198.50,254.27 L198.00,253.81 L197.50,253.36 L197.00,252.90 L196.50,252.45 L196.00,251.99 L195.50,251.53 L195.00,251.07 L194.50,250.61 L194.00,250.14 L193.50,249.68 L193.00,249.22 L192.50,248.75 L192.00,248.28 Z" fill="#65a312"/>
<path d="M192.00,251.79 L192.50,252.26 L193.00,252.73 L193.50,253.20 L194.00,253.66 L194.50,254.13 L195.00,254.60 L195.50,255.06 L196.00,255.52 L196.50,255.98 L197.00,256.00 L197.50,256.00 L198.00,256.00 L198.50,256.00 L199.00,256.00 L199.50,256.00 L200.00,256.00 L200.00,256.00 L199.50,256.00 L199.00,256.00 L198.50,256.00 L198.00,256.00 L197.50,256.00 L197.00,256.00 L196.50,256.00 L196.00,256.00 L195.50,256.00 L195.00,256.00 L194.50,256.00 L194.00,256.00 L193.50,256.00 L193.00,256.00 L192.50,256.00 L192.00,256.00 Z" fill="#6a3c10"/>
<path d="M192.00,256.00 L192.50,256.00 L193.00,256.00 L193.50,256.00 L194.00,256.00 L194.50,256.00 L195.00,256.00 L195.50,256.00 L196.00,256.00 L196.50,256.00 L197.00,256.45 L197.50,256.91 L198.00,257.36 L198.50,257.82 L199.00,258.28 L199.50,258.73 L200.00,259.19 L200.00,264.00 L199.50,264.00 L199.00,264.00 L198.50,263.99 L198.00,263.53 L197.50,263.08 L197.00,262.62 L196.50,262.16 L196.00,261.70 L195.50,261.24 L195.00,260.77 L194.50,260.31 L194.00,259.84 L193.50,259.38 L193.00,258.91 L192.50,258.44 L192.00,257.97 Z" fill="#4e9412"/>
<path d="M192.00,264.00 L192.50,264.00 L193.00,264.00 L193.50,264.00 L194.00,264.00 L194.50,264.00 L195.00,264.00 L195.50,264.00 L196.00,264.00 L196.50,264.00 L197.00,264.00 L197.50,264.00 L198.00,264.00 L198.50,264.00 L199.00,264.00 L199.50,264.00 L200.00,264.00 L200.00,265.35 L199.50,264.89 L199.00,264.44 L198.50,264.00 L198.00,264.00 L197.50,264.00 L197.00,264.00 L196.50,264.00 L196.00,264.00 L195.50,264.00 L195.00,264.00 L194.50,264.00 L194.00,264.00 L193.50,264.00 L193.00,264.00 L192.50,264.00 L192.00,264.00 Z" fill="#3ccf14"/>
<path d="M200.00,245.77 L200.50,246.23 L201.00,246.69 L201.50,247.14 L202.00,247.60 L202.50,248.00 L203.00,248.00 L203.50,248.00 L204.00,248.00 L204.50,248.00 L205.00,248.00 L205.50,248.00 L206.00,248.00 L206.50,248.00 L207.00,248.00 L207.50,248.00 L208.00,248.00 L208.00,248.00 L207.50,248.00 L207.00,248.00 L206.50,248.00 L206.00,248.00 L205.50,248.00 L205.00,248.00 L204.50,248.00 L204.00,248.00 L203.50,248.00 L203.00,248.00 L202.50,248.00 L202.00,248.00 L201.50,248.00 L201.00,248.00 L200.50,248.00 L200.00,248.00 Z" fill="#3ccf14"/>
<path d="M200.00,248.00 L200.50,248.00 L201.00,248.00 L201.50,248.00 L202.00,248.00 L202.50,248.06 L203.00,248.51 L203.50,248.96 L204.00,249.41 L204.50,249.86 L205.00,250.31 L205.50,250.76 L206.00,251.21 L206.50,251.65 L207.00,252.10 L207.50,252.54 L208.00,252.98 L208.00,256.00 L207.50,256.00 L207.00,256.00 L206.50,256.00 L206.00,256.00 L205.50,256.00 L205.00,256.00 L204.50,256.00 L204.00,256.00 L203.50,256.00 L203.00,256.00 L202.50,256.00 L202.00,256.00 L201.50,256.00 L201.00,256.00 L200.50,256.00 L200.00,255.62 Z" fill="#976c0f"/>
<path d="M200.00,256.00 L200.50,256.00 L201.00,256.00 L201.50,256.00 L202.00,256.00 L202.50,256.00 L203.00,256.00 L203.50,256.00 L204.00,256.00 L204.50,256.00 L205.00,256.00 L205.50,256.00 L206.00,256.00 L206.50,256.00 L207.00,256.00 L207.50,256.00 L208.00,256.00 L208.00,262.68 L207.50,262.25 L207.00,261.81 L206.50,261.38 L206.00,260.94 L205.50,260.51 L205.00,260.07 L204.50,259.63 L204.00,259.19 L203.50,258.74 L203.00,258.30 L202.50,257.86 L202.00,257.41 L201.50,256.97 L201.00,256.52 L200.50,256.07 L200.00,256.00 Z" fill="#c8370d"/>
<path d="M200.00,259.19 L200.50,259.64 L201.00,260.09 L201.50,260.54 L202.00,260.99 L202.50,261.44 L203.00,261.89 L203.50,262.33 L204.00,262.78 L204.50,263.22 L205.00,263.66 L205.50,264.00 L206.00,264.00 L206.50,264.00 L207.00,264.00 L207.50,264.00 L208.00,264.00 L208.00,264.00 L207.50,264.00 L207.00,264.00 L206.50,264.00 L206.00,264.00 L205.50,264.00 L205.00,264.00 L204.50,264.00 L204.00,264.00 L203.50,264.00 L203.00,264.00 L202.50,264.00 L202.00,264.00 L201.50,264.00 L201.00,264.00 L200.50,264.00 L200.00,264.00 Z" fill="#49a413"/>
<path d="M200.00,264.00 L200.50,264.00 L201.00,264.00 L201.50,264.00 L202.00,264.00 L202.50,264.00 L203.00,264.00 L203.50,264.00 L204.00,264.00 L204.50,264.00 L205.00,264.00 L205.50,264.11 L206.00,264.55 L206.50,264.99 L207.00,265.42 L207.50,265.86 L208.00,266.30 L208.00,272.00 L207.50,271.98 L207.00,271.54 L206.50,271.11 L206.00,270.67 L205.50,270.24 L205.00,269.80 L204.50,269.36 L204.00,268.92 L203.50,268.48 L203.00,268.03 L202.50,267.59 L202.00,267.14 L201.50,266.70 L201.00,266.25 L200.50,265.80 L200.00,265.35 Z" fill="#635411"/>
<path d="M200.00,272.00 L200.50,272.00 L201.00,272.00 L201.50,272.00 L202.00,272.00 L202.50,272.00 L203.00,272.00 L203.50,272.00 L204.00,272.00 L204.50,272.00 L205.00,272.00 L205.50,272.00 L206.00,272.00 L206.50,272.00 L207.00,272.00 L207.50,272.00 L208.00,272.00 L208.00,272.41 L207.50,272.00 L207.00,272.00 L206.50,272.00 L206.00,272.00 L205.50,272.00 L205.00,272.00 L204.50,272.00 L204.00,272.00 L203.50,272.00 L203.00,272.00 L202.50,272.00 L202.00,272.00 L201.50,272.00 L201.00,272.00 L200.50,272.00 L200.00,272.00 Z" fill="#6b3a10"/>
<path d="M208.00,252.98 L208.50,253.43 L209.00,253.87 L209.50,254.31 L210.00,254.74 L210.50,255.18 L211.00,255.62 L211.50,256.00 L212.00,256.00 L212.50,256.00 L213.00,256.00 L213.50,256.00 L214.00,256.00 L214.50,256.00 L215.00,256.00 L215.50,256.00 L216.00,256.00 L216.00,256.00 L215.50,256.00 L215.00,256.00 L214.50,256.00 L214.00,256.00 L213.50,256.00 L213.00,256.00 L212.50,256.00 L212.00,256.00 L211.50,256.00 L211.00,256.00 L210.50,256.00 L210.00,256.00 L209.50,256.00 L209.00,256.00 L208.50,256.00 L208.00,256.00 Z" fill="#897c10"/>
<path d="M208.00,256.00 L208.50,256.00 L209.00,256.00 L209.50,256.00 L210.00,256.00 L210.50,256.00 L211.00,256.00 L211.50,256.05 L212.00,256.49 L212.50,256.92 L213.00,257.35 L213.50,257.78 L214.00,258.21 L214.50,258.64 L215.00,259.07 L215.50,259.49 L216.00,259.92 L216.00,264.00 L215.50,264.00 L215.00,264.00 L214.50,264.00 L214.00,264.00 L213.50,264.00 L213.00,264.00 L212.50,264.00 L212.00,264.00 L211.50,264.00 L211.00,264.00 L210.50,264.00 L210.00,264.00 L209.50,263.97 L209.00,263.54 L208.50,263.11 L208.00,262.68 Z" fill="#53b613"/>
<path d="M208.00,264.00 L208.50,264.00 L209.00,264.00 L209.50,264.00 L210.00,264.00 L210.50,264.00 L211.00,264.00 L211.50,264.00 L212.00,264.00 L212.50,264.00 L213.00,264.00 L213.50,264.00 L214.00,264.00 L214.50,264.00 L215.00,264.00 L215.50,264.00 L216.00,264.00 L216.00,269.46 L215.50,269.04 L215.00,268.63 L214.50,268.21 L214.00,267.79 L213.50,267.37 L213.00,266.95 L212.50,266.53 L212.00,266.11 L211.50,265.68 L211.00,265.26 L210.50,264.83 L210.00,264.40 L209.50,264.00 L209.00,264.00 L208.50,264.00 L208.00,264.00 Z" fill="#47c313"/>
<path d="M208.00,266.30 L208.50,266.73 L209.00,267.16 L209.50,267.60 L210.00,268.03 L210.50,268.46 L211.00,268.89 L211.50,269.31 L212.00,269.74 L212.50,270.17 L213.00,270.59 L213.50,271.01 L214.00,271.44 L214.50,271.86 L215.00,272.00 L215.50,272.00 L216.00,272.00 L216.00,272.00 L215.50,272.00 L215.00,272.00 L214.50,272.00 L214.00,272.00 L213.50,272.00 L213.00,272.00 L212.50,272.00 L212.00,272.00 L211.50,272.00 L211.00,272.00 L210.50,272.00 L210.00,272.00 L209.50,272.00 L209.00,272.00 L208.50,272.00 L208.00,272.00 Z" fill="#49a513"/>
<path d="M208.00,272.00 L208.50,272.00 L209.00,272.00 L209.50,272.00 L210.00,272.00 L210.50,272.00 L211.00,272.00 L211.50,272.00 L212.00,272.00 L212.50,272.00 L213.00,272.00 L213.50,272.00 L214.00,272.00 L214.50,272.00 L215.00,272.28 L215.50,272.70 L216.00,273.11 L216.00,279.15 L215.50,278.74 L215.00,278.33 L214.50,277.91 L214.00,277.49 L213.50,277.08 L213.00,276.66 L212.50,276.24 L212.00,275.82 L211.50,275.40 L211.00,274.97 L210.50,274.55 L210.00,274.12 L209.50,273.70 L209.00,273.27 L208.50,272.84 L208.00,272.41 Z" fill="#40c314"/>
<path d="M216.00,259.92 L216.50,260.34 L217.00,260.77 L217.50,261.19 L218.00,261.61 L218.50,262.03 L219.00,262.45 L219.50,262.87 L220.00,263.29 L220.50,263.70 L221.00,264.00 L221.50,264.00 L222.00,264.00 L222.50,264.00 L223.00,264.00 L223.50,264.00 L224.00,264.00 L224.00,264.00 L223.50,264.00 L223.00,264.00 L222.50,264.00 L222.00,264.00 L221.50,264.00 L221.00,264.00 L220.50,264.00 L220.00,264.00 L219.50,264.00 L219.00,264.00 L218.50,264.00 L218.00,264.00 L217.50,264.00 L217.00,264.00 L216.50,264.00 L216.00,264.00 Z" fill="#d42a0c"/>
<path d="M216.00,264.00 L216.50,264.00 L217.00,264.00 L217.50,264.00 L218.00,264.00 L218.50,264.00 L219.00,264.00 L219.50,264.00 L220.00,264.00 L220.50,264.00 L221.00,264.12 L221.50,264.53 L222.00,264.94 L222.50,265.35 L223.00,265.76 L223.50,266.17 L224.00,266.58 L224.00,272.00 L223.50,272.00 L223.00,272.00 L222.50,272.00 L222.00,272.00 L221.50,272.00 L221.00,272.00 L220.50,272.00 L220.00,272.00 L219.50,272.00 L219.00,271.93 L218.50,271.52 L218.00,271.11 L217.50,270.70 L217.00,270.29 L216.50,269.87 L216.00,269.46 Z" fill="#bb450d"/>
<path d="M216.00,272.00 L216.50,272.00 L217.00,272.00 L217.50,272.00 L218.00,272.00 L218.50,272.00 L219.00,272.00 L219.50,272.00 L220.00,272.00 L220.50,272.00 L221.00,272.00 L221.50,272.00 L222.00,272.00 L222.50,272.00 L223.00,272.00 L223.50,272.00 L224.00,272.00 L224.00,275.96 L223.50,275.56 L223.00,275.16 L222.50,274.76 L222.00,274.36 L221.50,273.96 L221.00,273.55 L220.50,273.15 L220.00,272.74 L219.50,272.34 L219.00,272.00 L218.50,272.00 L218.00,272.00 L217.50,272.00 L217.00,272.00 L216.50,272.00 L216.00,272.00 Z" fill="#867f10"/>
<path d="M216.00,273.11 L216.50,273.53 L217.00,273.94 L217.50,274.36 L218.00,274.77 L218.50,275.18 L219.00,275.59 L219.50,276.00 L220.00,276.41 L220.50,276.82 L221.00,277.23 L221.50,277.63 L222.00,278.03 L222.50,278.44 L223.00,278.84 L223.50,279.24 L224.00,279.64 L224.00,280.00 L223.50,280.00 L223.00,280.00 L222.50,280.00 L222.00,280.00 L221.50,280.00 L221.00,280.00 L220.50,280.00 L220.00,280.00 L219.50,280.00 L219.00,280.00 L218.50,280.00 L218.00,280.00 L217.50,280.00 L217.00,279.97 L216.50,279.56 L216.00,279.15 Z" fill="#694210"/>
<path d="M216.00,280.00 L216.50,280.00 L217.00,280.00 L217.50,280.00 L218.00,280.00 L218.50,280.00 L219.00,280.00 L219.50,280.00 L220.00,280.00 L220.50,280.00 L221.00,280.00 L221.50,280.00 L222.00,280.00 L222.50,280.00 L223.00,280.00 L223.50,280.00 L224.00,280.00 L224.00,285.58 L223.50,285.18 L223.00,284.79 L222.50,284.40 L222.00,284.00 L221.50,283.60 L221.00,283.20 L220.50,282.80 L220.00,282.40 L219.50,282.00 L219.00,281.60 L218.50,281.19 L218.00,280.79 L217.50,280.38 L217.00,280.00 L216.50,280.00 L216.00,280.00 Z" fill="#597312"/>
<path d="M224.00,266.58 L224.50,266.99 L225.00,267.39 L225.50,267.80 L226.00,268.20 L226.50,268.61 L227.00,269.01 L227.50,269.41 L228.00,269.81 L228.50,270.21 L229.00,270.61 L229.50,271.00 L230.00,271.40 L230.50,271.79 L231.00,272.00 L231.50,272.00 L232.00,272.00 L232.00,272.00 L231.50,272.00 L231.00,272.00 L230.50,272.00 L230.00,272.00 L229.50,272.00 L229.00,272.00 L228.50,272.00 L228.00,272.00 L227.50,272.00 L227.00,272.00 L226.50,272.00 L226.00,272.00 L225.50,272.00 L225.00,272.00 L224.50,272.00 L224.00,272.00 Z" fill="#43c714"/>
<path d="M224.00,272.00 L224.50,272.00 L225.00,272.00 L225.50,272.00 L226.00,272.00 L226.50,272.00 L227.00,272.00 L227.50,272.00 L228.00,272.00 L228.50,272.00 L229.00,272.00 L229.50,272.00 L230.00,272.00 L230.50,272.00 L231.00,272.19 L231.50,272.58 L232.00,272.97 L232.00,280.00 L231.50,280.00 L231.00,280.00 L230.50,280.00 L230.00,280.00 L229.50,280.00 L229.00,279.87 L228.50,279.49 L228.00,279.10 L227.50,278.71 L227.00,278.32 L226.50,277.93 L226.00,277.54 L225.50,277.14 L225.00,276.75 L224.50,276.35 L224.00,275.96 Z" fill="#798c11"/>
<path d="M224.00,279.64 L224.50,280.00 L225.00,280.00 L225.50,280.00 L226.00,280.00 L226.50,280.00 L227.00,280.00 L227.50,280.00 L228.00,280.00 L228.50,280.00 L229.00,280.00 L229.50,280.00 L230.00,280.00 L230.50,280.00 L231.00,280.00 L231.50,280.00 L232.00,280.00 L232.00,280.00 L231.50,280.00 L231.00,280.00 L230.50,280.00 L230.00,280.00 L229.50,280.00 L229.00,280.00 L228.50,280.00 L228.00,280.00 L227.50,280.00 L227.00,280.00 L226.50,280.00 L226.00,280.00 L225.50,280.00 L225.00,280.00 L224.50,280.00 L224.00,280.00 Z" fill="#3ccf14"/>
<path d="M224.00,280.00 L224.50,280.00 L225.00,280.00 L225.50,280.00 L226.00,280.00 L226.50,280.00 L227.00,280.00 L227.50,280.00 L228.00,280.00 L228.50,280.00 L229.00,280.00 L229.50,280.00 L230.00,280.00 L230.50,280.00 L231.00,280.00 L231.50,280.00 L232.00,280.00 L232.00,282.17 L231.50,281.79 L231.00,281.41 L230.50,281.03 L230.00,280.65 L229.50,280.26 L229.00,280.00 L228.50,280.00 L228.00,280.00 L227.50,280.00 L227.00,280.00 L226.50,280.00 L226.00,280.00 L225.50,280.00 L225.00,280.00 L224.50,280.00 L224.00,280.00 Z" fill="#d42a0c"/>
<path d="M224.00,280.00 L224.50,280.04 L225.00,280.43 L225.50,280.83 L226.00,281.22 L226.50,281.62 L227.00,282.01 L227.50,282.40 L228.00,282.79 L228.50,283.18 L229.00,283.57 L229.50,283.96 L230.00,284.34 L230.50,284.73 L231.00,285.11 L231.50,285.49 L232.00,285.87 L232.00,288.00 L231.50,288.00 L231.00,288.00 L230.50,288.00 L230.00,288.00 L229.50,288.00 L229.00,288.00 L228.50,288.00 L228.00,288.00 L227.50,288.00 L227.00,287.91 L226.50,287.52 L226.00,287.13 L225.50,286.75 L225.00,286.36 L224.50,285.97 L224.00,285.58 Z" fill="#47ad13"/>
<path d="M224.00,288.00 L224.50,288.00 L225.00,288.00 L225.50,288.00 L226.00,288.00 L226.50,288.00 L227.00,288.00 L227.50,288.00 L228.00,288.00 L228.50,288.00 L229.00,288.00 L229.50,288.00 L230.00,288.00 L230.50,288.00 L231.00,288.00 L231.50,288.00 L232.00,288.00 L232.00,291.69 L231.50,291.32 L231.00,290.94 L230.50,290.57 L230.00,290.19 L229.50,289.81 L229.00,289.43 L228.50,289.05 L228.00,288.67 L227.50,288.29 L227.00,288.00 L226.50,288.00 L226.00,288.00 L225.50,288.00 L225.00,288.00 L224.50,288.00 L224.00,288.00 Z" fill="#625711"/>
<path d="M232.00,272.97 L232.50,273.36 L233.00,273.75 L233.50,274.14 L234.00,274.52 L234.50,274.91 L235.00,275.29 L235.50,275.68 L236.00,276.06 L236.50,276.44 L237.00,276.82 L237.50,277.20 L238.00,277.58 L238.50,277.96 L239.00,278.34 L239.50,278.71 L240.00,279.08 L240.00,280.00 L239.50,280.00 L239.00,280.00 L238.50,280.00 L238.00,280.00 L237.50,280.00 L237.00,280.00 L236.50,280.00 L236.00,280.00 L235.50,280.00 L235.00,280.00 L234.50,280.00 L234.00,280.00 L233.50,280.00 L233.00,280.00 L232.50,280.00 L232.00,280.00 Z" fill="#aa580e"/>
<path d="M232.00,280.00 L232.50,280.00 L233.00,280.00 L233.50,280.00 L234.00,280.00 L234.50,280.00 L235.00,280.00 L235.50,280.00 L236.00,280.00 L236.50,280.00 L237.00,280.00 L237.50,280.00 L238.00,280.00 L238.50,280.00 L239.00,280.00 L239.50,280.00 L240.00,280.00 L240.00,288.00 L239.50,287.75 L239.00,287.39 L238.50,287.02 L238.00,286.66 L237.50,286.29 L237.00,285.92 L236.50,285.55 L236.00,285.18 L235.50,284.81 L235.00,284.44 L234.50,284.06 L234.00,283.69 L233.50,283.31 L233.00,282.93 L232.50,282.55 L232.00,282.17 Z" fill="#778f11"/>
<path d="M232.00,285.87 L232.50,286.25 L233.00,286.63 L233.50,287.01 L234.00,287.39 L234.50,287.76 L235.00,288.00 L235.50,288.00 L236.00,288.00 L236.50,288.00 L237.00,288.00 L237.50,288.00 L238.00,288.00 L238.50,288.00 L239.00,288.00 L239.50,288.00 L240.00,288.00 L240.00,288.00 L239.50,288.00 L239.00,288.00 L238.50,288.00 L238.00,288.00 L237.50,288.00 L237.00,288.00 L236.50,288.00 L236.00,288.00 L235.50,288.00 L235.00,288.00 L234.50,288.00 L234.00,288.00 L233.50,288.00 L233.00,288.00 L232.50,288.00 L232.00,288.00 Z" fill="#6b3a10"/>
<path d="M232.00,288.00 L232.50,288.00 L233.00,288.00 L233.50,288.00 L234.00,288.00 L234.50,288.00 L235.00,288.14 L235.50,288.51 L236.00,288.88 L236.50,289.25 L237.00,289.62 L237.50,289.99 L238.00,290.36 L238.50,290.73 L239.00,291.09 L239.50,291.46 L240.00,291.82 L240.00,296.00 L239.50,296.00 L239.00,296.00 L238.50,296.00 L238.00,296.00 L237.50,295.71 L237.00,295.35 L236.50,294.99 L236.00,294.63 L235.50,294.26 L235.00,293.90 L234.50,293.53 L234.00,293.17 L233.50,292.80 L233.00,292.43 L232.50,292.06 L232.00,291.69 Z" fill="#558112"/>
<path d="M232.00,296.00 L232.50,296.00 L233.00,296.00 L233.50,296.00 L234.00,296.00 L234.50,296.00 L235.00,296.00 L235.50,296.00 L236.00,296.00 L236.50,296.00 L237.00,296.00 L237.50,296.00 L238.00,296.00 L238.50,296.00 L239.00,296.00 L239.50,296.00 L240.00,296.00 L240.00,297.49 L239.50,297.14 L239.00,296.78 L238.50,296.43 L238.00,296.07 L237.50,296.00 L237.00,296.00 L236.50,296.00 L236.00,296.00 L235.50,296.00 L235.00,296.00 L234.50,296.00 L234.00,296.00 L233.50,296.00 L233.00,296.00 L232.50,296.00 L232.00,296.00 Z" fill="#3ccf14"/>
<path d="M240.00,279.08 L240.50,279.46 L241.00,279.83 L241.50,280.00 L242.00,280.00 L242.50,280.00 L243.00,280.00 L243.50,280.00 L244.00,280.00 L244.50,280.00 L245.00,280.00 L245.50,280.00 L246.00,280.00 L246.50,280.00 L247.00,280.00 L247.50,280.00 L248.00,280.00 L248.00,280.00 L247.50,280.00 L247.00,280.00 L246.50,280.00 L246.00,280.00 L245.50,280.00 L245.00,280.00 L244.50,280.00 L244.00,280.00 L243.50,280.00 L243.00,280.00 L242.50,280.00 L242.00,280.00 L241.50,280.00 L241.00,280.00 L240.50,280.00 L240.00,280.00 Z" fill="#3ccf14"/>
<path d="M240.00,280.00 L240.50,280.00 L241.00,280.00 L241.50,280.20 L242.00,280.57 L242.50,280.94 L243.00,281.31 L243.50,281.68 L244.00,282.04 L244.50,282.41 L245.00,282.77 L245.50,283.13 L246.00,283.50 L246.50,283.86 L247.00,284.22 L247.50,284.57 L248.00,284.93 L248.00,288.00 L247.50,288.00 L247.00,288.00 L246.50,288.00 L246.00,288.00 L245.50,288.00 L245.00,288.00 L244.50,288.00 L244.00,288.00 L243.50,288.00 L243.00,288.00 L242.50,288.00 L242.00,288.00 L241.50,288.00 L241.00,288.00 L240.50,288.00 L240.00,288.00 Z" fill="#808510"/>
<path d="M240.00,288.00 L240.50,288.00 L241.00,288.00 L241.50,288.00 L242.00,288.00 L242.50,288.00 L243.00,288.00 L243.50,288.00 L244.00,288.00 L244.50,288.00 L245.00,288.00 L245.50,288.00 L246.00,288.00 L246.50,288.00 L247.00,288.00 L247.50,288.00 L248.00,288.00 L248.00,293.78 L247.50,293.44 L247.00,293.09 L246.50,292.74 L246.00,292.39 L245.50,292.04 L245.00,291.69 L244.50,291.34 L244.00,290.98 L243.50,290.63 L243.00,290.27 L242.50,289.92 L242.00,289.56 L241.50,289.20 L241.00,288.84 L240.50,288.48 L240.00,288.12 Z" fill="#b54b0e"/>
<path d="M240.00,291.82 L240.50,292.18 L241.00,292.54 L241.50,292.90 L242.00,293.26 L242.50,293.62 L243.00,293.98 L243.50,294.33 L244.00,294.69 L244.50,295.04 L245.00,295.39 L245.50,295.74 L246.00,296.00 L246.50,296.00 L247.00,296.00 L247.50,296.00 L248.00,296.00 L248.00,296.00 L247.50,296.00 L247.00,296.00 L246.50,296.00 L246.00,296.00 L245.50,296.00 L245.00,296.00 L244.50,296.00 L244.00,296.00 L243.50,296.00 L243.00,296.00 L242.50,296.00 L242.00,296.00 L241.50,296.00 L241.00,296.00 L240.50,296.00 L240.00,296.00 Z" fill="#44b713"/>
<path d="M240.00,296.00 L240.50,296.00 L241.00,296.00 L241.50,296.00 L242.00,296.00 L242.50,296.00 L243.00,296.00 L243.50,296.00 L244.00,296.00 L244.50,296.00 L245.00,296.00 L245.50,296.00 L246.00,296.09 L246.50,296.44 L247.00,296.79 L247.50,297.14 L248.00,297.48 L248.00,302.99 L247.50,302.66 L247.00,302.32 L246.50,301.98 L246.00,301.64 L245.50,301.30 L245.00,300.96 L244.50,300.62 L244.00,300.28 L243.50,299.93 L243.00,299.59 L242.50,299.24 L242.00,298.89 L241.50,298.55 L241.00,298.20 L240.50,297.84 L240.00,297.49 Z" fill="#5d6511"/>
<path d="M248.00,284.93 L248.50,285.29 L249.00,285.64 L249.50,286.00 L250.00,286.35 L250.50,286.70 L251.00,287.06 L251.50,287.41 L252.00,287.76 L252.50,288.00 L253.00,288.00 L253.50,288.00 L254.00,288.00 L254.50,288.00 L255.00,288.00 L255.50,288.00 L256.00,288.00 L256.00,288.00 L255.50,288.00 L255.00,288.00 L254.50,288.00 L254.00,288.00 L253.50,288.00 L253.00,288.00 L252.50,288.00 L252.00,288.00 L251.50,288.00 L251.00,288.00 L250.50,288.00 L250.00,288.00 L249.50,288.00 L249.00,288.00 L248.50,288.00 L248.00,288.00 Z" fill="#b9480d"/>
<path d="M248.00,288.00 L248.50,288.00 L249.00,288.00 L249.50,288.00 L250.00,288.00 L250.50,288.00 L251.00,288.00 L251.50,288.00 L252.00,288.00 L252.50,288.10 L253.00,288.45 L253.50,288.80 L254.00,289.14 L254.50,289.49 L255.00,289.83 L255.50,290.17 L256.00,290.51 L256.00,296.00 L255.50,296.00 L255.00,296.00 L254.50,296.00 L254.00,296.00 L253.50,296.00 L253.00,296.00 L252.50,296.00 L252.00,296.00 L251.50,296.00 L251.00,295.84 L250.50,295.50 L250.00,295.16 L249.50,294.82 L249.00,294.47 L248.50,294.13 L248.00,293.78 Z" fill="#699e12"/>
<path d="M248.00,296.00 L248.50,296.00 L249.00,296.00 L249.50,296.00 L250.00,296.00 L250.50,296.00 L251.00,296.00 L251.50,296.00 L252.00,296.00 L252.50,296.00 L253.00,296.00 L253.50,296.00 L254.00,296.00 L254.50,296.00 L255.00,296.00 L255.50,296.00 L256.00,296.00 L256.00,299.18 L255.50,298.85 L255.00,298.52 L254.50,298.19 L254.00,297.86 L253.50,297.52 L253.00,297.19 L252.50,296.85 L252.00,296.52 L251.50,296.18 L251.00,296.00 L250.50,296.00 L250.00,296.00 L249.50,296.00 L249.00,296.00 L248.50,296.00 L248.00,296.00 Z" fill="#3ccf14"/>
<path d="M248.00,297.48 L248.50,297.83 L249.00,298.17 L249.50,298.51 L250.00,298.86 L250.50,299.19 L251.00,299.53 L251.50,299.87 L252.00,300.21 L252.50,300.55 L253.00,300.88 L253.50,301.21 L254.00,301.55 L254.50,301.88 L255.00,302.21 L255.50,302.54 L256.00,302.87 L256.00,304.00 L255.50,304.00 L255.00,304.00 L254.50,304.00 L254.00,304.00 L253.50,304.00 L253.00,304.00 L252.50,304.00 L252.00,304.00 L251.50,304.00 L251.00,304.00 L250.50,304.00 L250.00,304.00 L249.50,303.99 L249.00,303.66 L248.50,303.33 L248.00,302.99 Z" fill="#518b12"/>
<path d="M248.00,304.00 L248.50,304.00 L249.00,304.00 L249.50,304.00 L250.00,304.00 L250.50,304.00 L251.00,304.00 L251.50,304.00 L252.00,304.00 L252.50,304.00 L253.00,304.00 L253.50,304.00 L254.00,304.00 L254.50,304.00 L255.00,304.00 L255.50,304.00 L256.00,304.00 L256.00,308.19 L255.50,307.88 L255.00,307.56 L254.50,307.24 L254.00,306.92 L253.50,306.60 L253.00,306.28 L252.50,305.95 L252.00,305.63 L251.50,305.30 L251.00,304.98 L250.50,304.65 L250.00,304.32 L249.50,304.00 L249.00,304.00 L248.50,304.00 L248.00,304.00 Z" fill="#3dcc14"/>
<path d="M256.00,290.51 L256.50,290.85 L257.00,291.19 L257.50,291.53 L258.00,291.87 L258.50,292.21 L259.00,292.54 L259.50,292.88 L260.00,293.21 L260.50,293.54 L261.00,293.87 L261.50,294.20 L262.00,294.53 L262.50,294.86 L263.00,295.19 L263.50,295.51 L264.00,295.84 L264.00,296.00 L263.50,296.00 L263.00,296.00 L262.50,296.00 L262.00,296.00 L261.50,296.00 L261.00,296.00 L260.50,296.00 L260.00,296.00 L259.50,296.00 L259.00,296.00 L258.50,296.00 L258.00,296.00 L257.50,296.00 L257.00,296.00 L256.50,296.00 L256.00,296.00 Z" fill="#93700f"/>
<path d="M256.00,296.00 L256.50,296.00 L257.00,296.00 L257.50,296.00 L258.00,296.00 L258.50,296.00 L259.00,296.00 L259.50,296.00 L260.00,296.00 L260.50,296.00 L261.00,296.00 L261.50,296.00 L262.00,296.00 L262.50,296.00 L263.00,296.00 L263.50,296.00 L264.00,296.00 L264.00,304.00 L263.50,304.00 L263.00,303.69 L262.50,303.37 L262.00,303.06 L261.50,302.74 L261.00,302.42 L260.50,302.10 L260.00,301.78 L259.50,301.46 L259.00,301.14 L258.50,300.81 L258.00,300.49 L257.50,300.16 L257.00,299.84 L256.50,299.51 L256.00,299.18 Z" fill="#bb460d"/>
<path d="M256.00,302.87 L256.50,303.19 L257.00,303.52 L257.50,303.84 L258.00,304.00 L258.50,304.00 L259.00,304.00 L259.50,304.00 L260.00,304.00 L260.50,304.00 L261.00,304.00 L261.50,304.00 L262.00,304.00 L262.50,304.00 L263.00,304.00 L263.50,304.00 L264.00,304.00 L264.00,304.00 L263.50,304.00 L263.00,304.00 L262.50,304.00 L262.00,304.00 L261.50,304.00 L261.00,304.00 L260.50,304.00 L260.00,304.00 L259.50,304.00 L259.00,304.00 L258.50,304.00 L258.00,304.00 L257.50,304.00 L257.00,304.00 L256.50,304.00 L256.00,304.00 Z" fill="#3ccf14"/>
<path d="M256.00,304.00 L256.50,304.00 L257.00,304.00 L257.50,304.00 L258.00,304.00 L258.50,304.00 L259.00,304.00 L259.50,304.00 L260.00,304.00 L260.50,304.00 L261.00,304.00 L261.50,304.00 L262.00,304.00 L262.50,304.00 L263.00,304.00 L263.50,304.00 L264.00,304.00 L264.00,304.32 L263.50,304.00 L263.00,304.00 L262.50,304.00 L262.00,304.00 L261.50,304.00 L261.00,304.00 L260.50,304.00 L260.00,304.00 L259.50,304.00 L259.00,304.00 L258.50,304.00 L258.00,304.00 L257.50,304.00 L257.00,304.00 L256.50,304.00 L256.00,304.00 Z" fill="#d42a0c"/>
<path d="M256.00,304.00 L256.50,304.00 L257.00,304.00 L257.50,304.00 L258.00,304.17 L258.50,304.49 L259.00,304.81 L259.50,305.14 L260.00,305.45 L260.50,305.77 L261.00,306.09 L261.50,306.41 L262.00,306.72 L262.50,307.04 L263.00,307.35 L263.50,307.66 L264.00,307.98 L264.00,312.00 L263.50,312.00 L263.00,312.00 L262.50,312.00 L262.00,311.91 L261.50,311.60 L261.00,311.30 L260.50,310.99 L260.00,310.69 L259.50,310.38 L259.00,310.07 L258.50,309.76 L258.00,309.45 L257.50,309.14 L257.00,308.82 L256.50,308.51 L256.00,308.19 Z" fill="#605e11"/>
<path d="M256.00,312.00 L256.50,312.00 L257.00,312.00 L257.50,312.00 L258.00,312.00 L258.50,312.00 L259.00,312.00 L259.50,312.00 L260.00,312.00 L260.50,312.00 L261.00,312.00 L261.50,312.00 L262.00,312.00 L262.50,312.00 L263.00,312.00 L263.50,312.00 L264.00,312.00 L264.00,313.11 L263.50,312.81 L263.00,312.51 L262.50,312.21 L262.00,312.00 L261.50,312.00 L261.00,312.00 L260.50,312.00 L260.00,312.00 L259.50,312.00 L259.00,312.00 L258.50,312.00 L258.00,312.00 L257.50,312.00 L257.00,312.00 L256.50,312.00 L256.00,312.00 Z" fill="#6b3a10"/>
<path d="M264.00,296.00 L264.50,296.16 L265.00,296.48 L265.50,296.81 L266.00,297.13 L266.50,297.45 L267.00,297.77 L267.50,298.09 L268.00,298.40 L268.50,298.72 L269.00,299.03 L269.50,299.35 L270.00,299.66 L270.50,299.97 L271.00,300.28 L271.50,300.60 L272.00,300.90 L272.00,304.00 L271.50,304.00 L271.00,304.00 L270.50,304.00 L270.00,304.00 L269.50,304.00 L269.00,304.00 L268.50,304.00 L268.00,304.00 L267.50,304.00 L267.00,304.00 L266.50,304.00 L266.00,304.00 L265.50,304.00 L265.00,304.00 L264.50,304.00 L264.00,304.00 Z" fill="#5dab12"/>
<path d="M264.00,304.00 L264.50,304.00 L265.00,304.00 L265.50,304.00 L266.00,304.00 L266.50,304.00 L267.00,304.00 L267.50,304.00 L268.00,304.00 L268.50,304.00 L269.00,304.00 L269.50,304.00 L270.00,304.00 L270.50,304.00 L271.00,304.00 L271.50,304.00 L272.00,304.00 L272.00,309.19 L271.50,308.89 L271.00,308.59 L270.50,308.30 L270.00,308.00 L269.50,307.69 L269.00,307.39 L268.50,307.09 L268.00,306.78 L267.50,306.48 L267.00,306.17 L266.50,305.87 L266.00,305.56 L265.50,305.25 L265.00,304.94 L264.50,304.63 L264.00,304.32 Z" fill="#42c814"/>
<path d="M264.00,307.98 L264.50,308.29 L265.00,308.60 L265.50,308.90 L266.00,309.21 L266.50,309.52 L267.00,309.82 L267.50,310.13 L268.00,310.43 L268.50,310.73 L269.00,311.03 L269.50,311.33 L270.00,311.63 L270.50,311.93 L271.00,312.00 L271.50,312.00 L272.00,312.00 L272.00,312.00 L271.50,312.00 L271.00,312.00 L270.50,312.00 L270.00,312.00 L269.50,312.00 L269.00,312.00 L268.50,312.00 L268.00,312.00 L267.50,312.00 L267.00,312.00 L266.50,312.00 L266.00,312.00 L265.50,312.00 L265.00,312.00 L264.50,312.00 L264.00,312.00 Z" fill="#4c9c13"/>
<path d="M264.00,312.00 L264.50,312.00 L265.00,312.00 L265.50,312.00 L266.00,312.00 L266.50,312.00 L267.00,312.00 L267.50,312.00 L268.00,312.00 L268.50,312.00 L269.00,312.00 L269.50,312.00 L270.00,312.00 L270.50,312.00 L271.00,312.22 L271.50,312.52 L272.00,312.82 L272.00,317.74 L271.50,317.46 L271.00,317.17 L270.50,316.89 L270.00,316.61 L269.50,316.32 L269.00,316.03 L268.50,315.75 L268.00,315.46 L267.50,315.17 L267.00,314.88 L266.50,314.58 L266.00,314.29 L265.50,314.00 L265.00,313.70 L264.50,313.40 L264.00,313.11 Z" fill="#3fc514"/>
<path d="M272.00,300.90 L272.50,301.21 L273.00,301.52 L273.50,301.83 L274.00,302.13 L274.50,302.44 L275.00,302.74 L275.50,303.04 L276.00,303.34 L276.50,303.64 L277.00,303.94 L277.50,304.00 L278.00,304.00 L278.50,304.00 L279.00,304.00 L279.50,304.00 L280.00,304.00 L280.00,304.00 L279.50,304.00 L279.00,304.00 L278.50,304.00 L278.00,304.00 L277.50,304.00 L277.00,304.00 L276.50,304.00 L276.00,304.00 L275.50,304.00 L275.00,304.00 L274.50,304.00 L274.00,304.00 L273.50,304.00 L273.00,304.00 L272.50,304.00 L272.00,304.00 Z" fill="#ab570e"/>
<path d="M272.00,304.00 L272.50,304.00 L273.00,304.00 L273.50,304.00 L274.00,304.00 L274.50,304.00 L275.00,304.00 L275.50,304.00 L276.00,304.00 L276.50,304.00 L277.00,304.00 L277.50,304.24 L278.00,304.54 L278.50,304.84 L279.00,305.13 L279.50,305.43 L280.00,305.72 L280.00,312.00 L279.50,312.00 L279.00,312.00 L278.50,312.00 L278.00,312.00 L277.50,312.00 L277.00,312.00 L276.50,311.82 L276.00,311.53 L275.50,311.24 L275.00,310.95 L274.50,310.66 L274.00,310.37 L273.50,310.08 L273.00,309.78 L272.50,309.49 L272.00,309.19 Z" fill="#c9360d"/>
<path d="M272.00,312.00 L272.50,312.00 L273.00,312.00 L273.50,312.00 L274.00,312.00 L274.50,312.00 L275.00,312.00 L275.50,312.00 L276.00,312.00 L276.50,312.00 L277.00,312.00 L277.50,312.00 L278.00,312.00 L278.50,312.00 L279.00,312.00 L279.50,312.00 L280.00,312.00 L280.00,313.81 L279.50,313.53 L279.00,313.25 L278.50,312.96 L278.00,312.68 L277.50,312.39 L277.00,312.11 L276.50,312.00 L276.00,312.00 L275.50,312.00 L275.00,312.00 L274.50,312.00 L274.00,312.00 L273.50,312.00 L273.00,312.00 L272.50,312.00 L272.00,312.00 Z" fill="#d42a0c"/>
<path d="M272.00,312.82 L272.50,313.11 L273.00,313.40 L273.50,313.69 L274.00,313.98 L274.50,314.27 L275.00,314.56 L275.50,314.85 L276.00,315.14 L276.50,315.42 L277.00,315.71 L277.50,315.99 L278.00,316.27 L278.50,316.56 L279.00,316.84 L279.50,317.12 L280.00,317.39 L280.00,320.00 L279.50,320.00 L279.00,320.00 L278.50,320.00 L278.00,320.00 L277.50,320.00 L277.00,320.00 L276.50,320.00 L276.00,319.95 L275.50,319.68 L275.00,319.40 L274.50,319.13 L274.00,318.85 L273.50,318.58 L273.00,318.30 L272.50,318.02 L272.00,317.74 Z" fill="#664a10"/>
<path d="M272.00,320.00 L272.50,320.00 L273.00,320.00 L273.50,320.00 L274.00,320.00 L274.50,320.00 L275.00,320.00 L275.50,320.00 L276.00,320.00 L276.50,320.00 L277.00,320.00 L277.50,320.00 L278.00,320.00 L278.50,320.00 L279.00,320.00 L279.50,320.00 L280.00,320.00 L280.00,322.10 L279.50,321.83 L279.00,321.57 L278.50,321.30 L278.00,321.03 L277.50,320.76 L277.00,320.49 L276.50,320.22 L276.00,320.00 L275.50,320.00 L275.00,320.00 L274.50,320.00 L274.00,320.00 L273.50,320.00 L273.00,320.00 L272.50,320.00 L272.00,320.00 Z" fill="#6b3a10"/>
<path d="M280.00,305.72 L280.50,306.01 L281.00,306.31 L281.50,306.60 L282.00,306.89 L282.50,307.18 L283.00,307.47 L283.50,307.75 L284.00,308.04 L284.50,308.32 L285.00,308.61 L285.50,308.89 L286.00,309.18 L286.50,309.46 L287.00,309.74 L287.50,310.02 L288.00,310.30 L288.00,312.00 L287.50,312.00 L287.00,312.00 L286.50,312.00 L286.00,312.00 L285.50,312.00 L285.00,312.00 L284.50,312.00 L284.00,312.00 L283.50,312.00 L283.00,312.00 L282.50,312.00 L282.00,312.00 L281.50,312.00 L281.00,312.00 L280.50,312.00 L280.00,312.00 Z" fill="#43c714"/>
<path d="M280.00,312.00 L280.50,312.00 L281.00,312.00 L281.50,312.00 L282.00,312.00 L282.50,312.00 L283.00,312.00 L283.50,312.00 L284.00,312.00 L284.50,312.00 L285.00,312.00 L285.50,312.00 L286.00,312.00 L286.50,312.00 L287.00,312.00 L287.50,312.00 L288.00,312.00 L288.00,318.18 L287.50,317.92 L287.00,317.65 L286.50,317.38 L286.00,317.11 L285.50,316.84 L285.00,316.57 L284.50,316.30 L284.00,316.03 L283.50,315.75 L283.00,315.48 L282.50,315.20 L282.00,314.93 L281.50,314.65 L281.00,314.37 L280.50,314.09 L280.00,313.81 Z" fill="#3ecc14"/>
<path d="M280.00,317.39 L280.50,317.67 L281.00,317.95 L281.50,318.22 L282.00,318.50 L282.50,318.77 L283.00,319.04 L283.50,319.32 L284.00,319.59 L284.50,319.86 L285.00,320.00 L285.50,320.00 L286.00,320.00 L286.50,320.00 L287.00,320.00 L287.50,320.00 L288.00,320.00 L288.00,320.00 L287.50,320.00 L287.00,320.00 L286.50,320.00 L286.00,320.00 L285.50,320.00 L285.00,320.00 L284.50,320.00 L284.00,320.00 L283.50,320.00 L283.00,320.00 L282.50,320.00 L282.00,320.00 L281.50,320.00 L281.00,320.00 L280.50,320.00 L280.00,320.00 Z" fill="#41c014"/>
<path d="M280.00,320.00 L280.50,320.00 L281.00,320.00 L281.50,320.00 L282.00,320.00 L282.50,320.00 L283.00,320.00 L283.50,320.00 L284.00,320.00 L284.50,320.00 L285.00,320.13 L285.50,320.39 L286.00,320.66 L286.50,320.93 L287.00,321.19 L287.50,321.45 L288.00,321.72 L288.00,326.19 L287.50,325.95 L287.00,325.70 L286.50,325.45 L286.00,325.19 L285.50,324.94 L285.00,324.69 L284.50,324.43 L284.00,324.18 L283.50,323.92 L283.00,323.66 L282.50,323.41 L282.00,323.15 L281.50,322.89 L281.00,322.62 L280.50,322.36 L280.00,322.10 Z" fill="#3dcc14"/>
<path d="M288.00,310.30 L288.50,310.58 L289.00,310.85 L289.50,311.13 L290.00,311.40 L290.50,311.68 L291.00,311.95 L291.50,312.00 L292.00,312.00 L292.50,312.00 L293.00,312.00 L293.50,312.00 L294.00,312.00 L294.50,312.00 L295.00,312.00 L295.50,312.00 L296.00,312.00 L296.00,312.00 L295.50,312.00 L295.00,312.00 L294.50,312.00 L294.00,312.00 L293.50,312.00 L293.00,312.00 L292.50,312.00 L292.00,312.00 L291.50,312.00 L291.00,312.00 L290.50,312.00 L290.00,312.00 L289.50,312.00 L289.00,312.00 L288.50,312.00 L288.00,312.00 Z" fill="#d42a0c"/>
<path d="M288.00,312.00 L288.50,312.00 L289.00,312.00 L289.50,312.00 L290.00,312.00 L290.50,312.00 L291.00,312.00 L291.50,312.22 L292.00,312.50 L292.50,312.77 L293.00,313.04 L293.50,313.31 L294.00,313.57 L294.50,313.84 L295.00,314.11 L295.50,314.37 L296.00,314.64 L296.00,320.00 L295.50,320.00 L295.00,320.00 L294.50,320.00 L294.00,320.00 L293.50,320.00 L293.00,320.00 L292.50,320.00 L292.00,320.00 L291.50,320.00 L291.00,319.76 L290.50,319.50 L290.00,319.24 L289.50,318.98 L289.00,318.71 L288.50,318.45 L288.00,318.18 Z" fill="#d02e0c"/>
<path d="M288.00,320.00 L288.50,320.00 L289.00,320.00 L289.50,320.00 L290.00,320.00 L290.50,320.00 L291.00,320.00 L291.50,320.00 L292.00,320.00 L292.50,320.00 L293.00,320.00 L293.50,320.00 L294.00,320.00 L294.50,320.00 L295.00,320.00 L295.50,320.00 L296.00,320.00 L296.00,322.32 L295.50,322.07 L295.00,321.81 L294.50,321.56 L294.00,321.31 L293.50,321.05 L293.00,320.79 L292.50,320.54 L292.00,320.28 L291.50,320.02 L291.00,320.00 L290.50,320.00 L290.00,320.00 L289.50,320.00 L289.00,320.00 L288.50,320.00 L288.00,320.00 Z" fill="#c43c0d"/>
<path d="M288.00,321.72 L288.50,321.98 L289.00,322.24 L289.50,322.50 L290.00,322.76 L290.50,323.02 L291.00,323.27 L291.50,323.53 L292.00,323.79 L292.50,324.04 L293.00,324.29 L293.50,324.55 L294.00,324.80 L294.50,325.05 L295.00,325.30 L295.50,325.55 L296.00,325.79 L296.00,328.00 L295.50,328.00 L295.00,328.00 L294.50,328.00 L294.00,328.00 L293.50,328.00 L293.00,328.00 L292.50,328.00 L292.00,328.00 L291.50,327.91 L291.00,327.66 L290.50,327.42 L290.00,327.18 L289.50,326.93 L289.00,326.69 L288.50,326.44 L288.00,326.19 Z" fill="#6a3d10"/>
<path d="M288.00,328.00 L288.50,328.00 L289.00,328.00 L289.50,328.00 L290.00,328.00 L290.50,328.00 L291.00,328.00 L291.50,328.00 L292.00,328.00 L292.50,328.00 L293.00,328.00 L293.50,328.00 L294.00,328.00 L294.50,328.00 L295.00,328.00 L295.50,328.00 L296.00,328.00 L296.00,330.04 L295.50,329.81 L295.00,329.57 L294.50,329.34 L294.00,329.10 L293.50,328.86 L293.00,328.63 L292.50,328.39 L292.00,328.15 L291.50,328.00 L291.00,328.00 L290.50,328.00 L290.00,328.00 L289.50,328.00 L289.00,328.00 L288.50,328.00 L288.00,328.00 Z" fill="#664b10"/>
<path d="M296.00,314.64 L296.50,314.90 L297.00,315.16 L297.50,315.42 L298.00,315.69 L298.50,315.95 L299.00,316.20 L299.50,316.46 L300.00,316.72 L300.50,316.98 L301.00,317.23 L301.50,317.49 L302.00,317.74 L302.50,317.99 L303.00,318.25 L303.50,318.50 L304.00,318.75 L304.00,320.00 L303.50,320.00 L303.00,320.00 L302.50,320.00 L302.00,320.00 L301.50,320.00 L301.00,320.00 L300.50,320.00 L300.00,320.00 L299.50,320.00 L299.00,320.00 L298.50,320.00 L298.00,320.00 L297.50,320.00 L297.00,320.00 L296.50,320.00 L296.00,320.00 Z" fill="#3ecd14"/>
<path d="M296.00,320.00 L296.50,320.00 L297.00,320.00 L297.50,320.00 L298.00,320.00 L298.50,320.00 L299.00,320.00 L299.50,320.00 L300.00,320.00 L300.50,320.00 L301.00,320.00 L301.50,320.00 L302.00,320.00 L302.50,320.00 L303.00,320.00 L303.50,320.00 L304.00,320.00 L304.00,326.22 L303.50,325.98 L303.00,325.74 L302.50,325.50 L302.00,325.26 L301.50,325.02 L301.00,324.78 L300.50,324.54 L300.00,324.30 L299.50,324.05 L299.00,323.81 L298.50,323.56 L298.00,323.31 L297.50,323.07 L297.00,322.82 L296.50,322.57 L296.00,322.32 Z" fill="#43c714"/>
<path d="M296.00,325.79 L296.50,326.04 L297.00,326.29 L297.50,326.53 L298.00,326.77 L298.50,327.02 L299.00,327.26 L299.50,327.50 L300.00,327.74 L300.50,327.98 L301.00,328.00 L301.50,328.00 L302.00,328.00 L302.50,328.00 L303.00,328.00 L303.50,328.00 L304.00,328.00 L304.00,328.00 L303.50,328.00 L303.00,328.00 L302.50,328.00 L302.00,328.00 L301.50,328.00 L301.00,328.00 L300.50,328.00 L300.00,328.00 L299.50,328.00 L299.00,328.00 L298.50,328.00 L298.00,328.00 L297.50,328.00 L297.00,328.00 L296.50,328.00 L296.00,328.00 Z" fill="#3ccf14"/>
<path d="M296.00,328.00 L296.50,328.00 L297.00,328.00 L297.50,328.00 L298.00,328.00 L298.50,328.00 L299.00,328.00 L299.50,328.00 L300.00,328.00 L300.50,328.00 L301.00,328.22 L301.50,328.46 L302.00,328.69 L302.50,328.93 L303.00,329.16 L303.50,329.40 L304.00,329.63 L304.00,333.64 L303.50,333.42 L303.00,333.20 L302.50,332.98 L302.00,332.76 L301.50,332.54 L301.00,332.32 L300.50,332.09 L300.00,331.87 L299.50,331.64 L299.00,331.42 L298.50,331.19 L298.00,330.96 L297.50,330.73 L297.00,330.50 L296.50,330.27 L296.00,330.04 Z" fill="#3eca14"/>
<path d="M304.00,318.75 L304.50,319.00 L305.00,319.24 L305.50,319.49 L306.00,319.74 L306.50,319.99 L307.00,320.00 L307.50,320.00 L308.00,320.00 L308.50,320.00 L309.00,320.00 L309.50,320.00 L310.00,320.00 L310.50,320.00 L311.00,320.00 L311.50,320.00 L312.00,320.00 L312.00,320.00 L311.50,320.00 L311.00,320.00 L310.50,320.00 L310.00,320.00 L309.50,320.00 L309.00,320.00 L308.50,320.00 L308.00,320.00 L307.50,320.00 L307.00,320.00 L306.50,320.00 L306.00,320.00 L305.50,320.00 L305.00,320.00 L304.50,320.00 L304.00,320.00 Z" fill="#d42a0c"/>
<path d="M304.00,320.00 L304.50,320.00 L305.00,320.00 L305.50,320.00 L306.00,320.00 L306.50,320.00 L307.00,320.23 L307.50,320.47 L308.00,320.72 L308.50,320.96 L309.00,321.20 L309.50,321.44 L310.00,321.68 L310.50,321.92 L311.00,322.16 L311.50,322.40 L312.00,322.64 L312.00,328.00 L311.50,328.00 L311.00,328.00 L310.50,328.00 L310.00,328.00 L309.50,328.00 L309.00,328.00 L308.50,328.00 L308.00,328.00 L307.50,327.85 L307.00,327.62 L306.50,327.39 L306.00,327.16 L305.50,326.92 L305.00,326.69 L304.50,326.45 L304.00,326.22 Z" fill="#d02e0c"/>
<path d="M304.00,328.00 L304.50,328.00 L305.00,328.00 L305.50,328.00 L306.00,328.00 L306.50,328.00 L307.00,328.00 L307.50,328.00 L308.00,328.00 L308.50,328.00 L309.00,328.00 L309.50,328.00 L310.00,328.00 L310.50,328.00 L311.00,328.00 L311.50,328.00 L312.00,328.00 L312.00,329.89 L311.50,329.67 L311.00,329.44 L310.50,329.22 L310.00,328.99 L309.50,328.77 L309.00,328.54 L308.50,328.31 L308.00,328.08 L307.50,328.00 L307.00,328.00 L306.50,328.00 L306.00,328.00 L305.50,328.00 L305.00,328.00 L304.50,328.00 L304.00,328.00 Z" fill="#c33c0d"/>
<path d="M304.00,329.63 L304.50,329.86 L305.00,330.09 L305.50,330.32 L306.00,330.55 L306.50,330.78 L307.00,331.01 L307.50,331.23 L308.00,331.46 L308.50,331.69 L309.00,331.91 L309.50,332.13 L310.00,332.35 L310.50,332.58 L311.00,332.80 L311.50,333.02 L312.00,333.23 L312.00,336.00 L311.50,336.00 L311.00,336.00 L310.50,336.00 L310.00,336.00 L309.50,335.98 L309.00,335.77 L308.50,335.56 L308.00,335.35 L307.50,335.14 L307.00,334.93 L306.50,334.72 L306.00,334.50 L305.50,334.29 L305.00,334.07 L304.50,333.86 L304.00,333.64 Z" fill="#6a3d10"/>
<path d="M304.00,336.00 L304.50,336.00 L305.00,336.00 L305.50,336.00 L306.00,336.00 L306.50,336.00 L307.00,336.00 L307.50,336.00 L308.00,336.00 L308.50,336.00 L309.00,336.00 L309.50,336.00 L310.00,336.00 L310.50,336.00 L311.00,336.00 L311.50,336.00 L312.00,336.00 L312.00,337.01 L311.50,336.80 L311.00,336.60 L310.50,336.39 L310.00,336.19 L309.50,336.00 L309.00,336.00 L308.50,336.00 L308.00,336.00 L307.50,336.00 L307.00,336.00 L306.50,336.00 L306.00,336.00 L305.50,336.00 L305.00,336.00 L304.50,336.00 L304.00,336.00 Z" fill="#625811"/>
<path d="M312.00,322.64 L312.50,322.87 L313.00,323.11 L313.50,323.34 L314.00,323.57 L314.50,323.81 L315.00,324.04 L315.50,324.27 L316.00,324.50 L316.50,324.73 L317.00,324.96 L317.50,325.18 L318.00,325.41 L318.50,325.64 L319.00,325.86 L319.50,326.09 L320.00,326.31 L320.00,328.00 L319.50,328.00 L319.00,328.00 L318.50,328.00 L318.00,328.00 L317.50,328.00 L317.00,328.00 L316.50,328.00 L316.00,328.00 L315.50,328.00 L315.00,328.00 L314.50,328.00 L314.00,328.00 L313.50,328.00 L313.00,328.00 L312.50,328.00 L312.00,328.00 Z" fill="#3ecc14"/>
<path d="M312.00,328.00 L312.50,328.00 L313.00,328.00 L313.50,328.00 L314.00,328.00 L314.50,328.00 L315.00,328.00 L315.50,328.00 L316.00,328.00 L316.50,328.00 L317.00,328.00 L317.50,328.00 L318.00,328.00 L318.50,328.00 L319.00,328.00 L319.50,328.00 L320.00,328.00 L320.00,333.35 L319.50,333.14 L319.00,332.93 L318.50,332.71 L318.00,332.50 L317.50,332.29 L317.00,332.08 L316.50,331.86 L316.00,331.65 L315.50,331.43 L315.00,331.21 L314.50,330.99 L314.00,330.77 L313.50,330.56 L313.00,330.33 L312.50,330.11 L312.00,329.89 Z" fill="#43c814"/>
<path d="M312.00,333.23 L312.50,333.45 L313.00,333.67 L313.50,333.89 L314.00,334.10 L314.50,334.32 L315.00,334.53 L315.50,334.74 L316.00,334.95 L316.50,335.16 L317.00,335.37 L317.50,335.58 L318.00,335.79 L318.50,336.00 L319.00,336.00 L319.50,336.00 L320.00,336.00 L320.00,336.00 L319.50,336.00 L319.00,336.00 L318.50,336.00 L318.00,336.00 L317.50,336.00 L317.00,336.00 L316.50,336.00 L316.00,336.00 L315.50,336.00 L315.00,336.00 L314.50,336.00 L314.00,336.00 L313.50,336.00 L313.00,336.00 L312.50,336.00 L312.00,336.00 Z" fill="#3ccf14"/>
<path d="M312.00,336.00 L312.50,336.00 L313.00,336.00 L313.50,336.00 L314.00,336.00 L314.50,336.00 L315.00,336.00 L315.50,336.00 L316.00,336.00 L316.50,336.00 L317.00,336.00 L317.50,336.00 L318.00,336.00 L318.50,336.00 L319.00,336.21 L319.50,336.41 L320.00,336.62 L320.00,340.16 L319.50,339.96 L319.00,339.77 L318.50,339.58 L318.00,339.39 L317.50,339.20 L317.00,339.00 L316.50,338.81 L316.00,338.61 L315.50,338.41 L315.00,338.21 L314.50,338.02 L314.00,337.82 L313.50,337.62 L313.00,337.41 L312.50,337.21 L312.00,337.01 Z" fill="#3ec914"/>
<path d="M320.00,326.31 L320.50,326.53 L321.00,326.75 L321.50,326.98 L322.00,327.20 L322.50,327.41 L323.00,327.63 L323.50,327.85 L324.00,328.00 L324.50,328.00 L325.00,328.00 L325.50,328.00 L326.00,328.00 L326.50,328.00 L327.00,328.00 L327.50,328.00 L328.00,328.00 L328.00,328.00 L327.50,328.00 L327.00,328.00 L326.50,328.00 L326.00,328.00 L325.50,328.00 L325.00,328.00 L324.50,328.00 L324.00,328.00 L323.50,328.00 L323.00,328.00 L322.50,328.00 L322.00,328.00 L321.50,328.00 L321.00,328.00 L320.50,328.00 L320.00,328.00 Z" fill="#d42a0c"/>
<path d="M320.00,328.00 L320.50,328.00 L321.00,328.00 L321.50,328.00 L322.00,328.00 L322.50,328.00 L323.00,328.00 L323.50,328.00 L324.00,328.07 L324.50,328.29 L325.00,328.50 L325.50,328.72 L326.00,328.93 L326.50,329.14 L327.00,329.36 L327.50,329.57 L328.00,329.78 L328.00,336.00 L327.50,336.00 L327.00,336.00 L326.50,336.00 L326.00,335.80 L325.50,335.60 L325.00,335.40 L324.50,335.20 L324.00,334.99 L323.50,334.79 L323.00,334.59 L322.50,334.38 L322.00,334.18 L321.50,333.97 L321.00,333.76 L320.50,333.56 L320.00,333.35 Z" fill="#cf2f0c"/>
<path d="M320.00,336.00 L320.50,336.00 L321.00,336.00 L321.50,336.00 L322.00,336.00 L322.50,336.00 L323.00,336.00 L323.50,336.00 L324.00,336.00 L324.50,336.00 L325.00,336.00 L325.50,336.00 L326.00,336.00 L326.50,336.00 L327.00,336.00 L327.50,336.00 L328.00,336.00 L328.00,336.59 L327.50,336.39 L327.00,336.20 L326.50,336.00 L326.00,336.00 L325.50,336.00 L325.00,336.00 L324.50,336.00 L324.00,336.00 L323.50,336.00 L323.00,336.00 L322.50,336.00 L322.00,336.00 L321.50,336.00 L321.00,336.00 L320.50,336.00 L320.00,336.00 Z" fill="#a9590e"/>
<path d="M320.00,336.62 L320.50,336.82 L321.00,337.02 L321.50,337.23 L322.00,337.43 L322.50,337.63 L323.00,337.83 L323.50,338.03 L324.00,338.23 L324.50,338.43 L325.00,338.62 L325.50,338.82 L326.00,339.01 L326.50,339.21 L327.00,339.40 L327.50,339.59 L328.00,339.79 L328.00,343.10 L327.50,342.92 L327.00,342.74 L326.50,342.56 L326.00,342.38 L325.50,342.20 L325.00,342.01 L324.50,341.83 L324.00,341.65 L323.50,341.46 L323.00,341.28 L322.50,341.09 L322.00,340.91 L321.50,340.72 L321.00,340.53 L320.50,340.34 L320.00,340.16 Z" fill="#6a3e10"/>
<path d="M328.00,329.78 L328.50,329.99 L329.00,330.20 L329.50,330.41 L330.00,330.61 L330.50,330.82 L331.00,331.03 L331.50,331.23 L332.00,331.44 L332.50,331.64 L333.00,331.84 L333.50,332.05 L334.00,332.25 L334.50,332.45 L335.00,332.65 L335.50,332.85 L336.00,333.05 L336.00,336.00 L335.50,336.00 L335.00,336.00 L334.50,336.00 L334.00,336.00 L333.50,336.00 L333.00,336.00 L332.50,336.00 L332.00,336.00 L331.50,336.00 L331.00,336.00 L330.50,336.00 L330.00,336.00 L329.50,336.00 L329.00,336.00 L328.50,336.00 L328.00,336.00 Z" fill="#3ccf14"/>
<path d="M328.00,336.00 L328.50,336.00 L329.00,336.00 L329.50,336.00 L330.00,336.00 L330.50,336.00 L331.00,336.00 L331.50,336.00 L332.00,336.00 L332.50,336.00 L333.00,336.00 L333.50,336.00 L334.00,336.00 L334.50,336.00 L335.00,336.00 L335.50,336.00 L336.00,336.00 L336.00,339.64 L335.50,339.45 L335.00,339.27 L334.50,339.08 L334.00,338.89 L333.50,338.71 L333.00,338.52 L332.50,338.33 L332.00,338.14 L331.50,337.95 L331.00,337.76 L330.50,337.56 L330.00,337.37 L329.50,337.18 L329.00,336.98 L328.50,336.79 L328.00,336.59 Z" fill="#3ccf14"/>
<path d="M328.00,339.79 L328.50,339.98 L329.00,340.17 L329.50,340.36 L330.00,340.55 L330.50,340.73 L331.00,340.92 L331.50,341.11 L332.00,341.29 L332.50,341.48 L333.00,341.66 L333.50,341.84 L334.00,342.03 L334.50,342.21 L335.00,342.39 L335.50,342.57 L336.00,342.75 L336.00,344.00 L335.50,344.00 L335.00,344.00 L334.50,344.00 L334.00,344.00 L333.50,344.00 L333.00,344.00 L332.50,344.00 L332.00,344.00 L331.50,344.00 L331.00,344.00 L330.50,344.00 L330.00,343.85 L329.50,343.66 L329.00,343.47 L328.50,343.28 L328.00,343.10 Z" fill="#3ccf14"/>
<path d="M328.00,344.00 L328.50,344.00 L329.00,344.00 L329.50,344.00 L330.00,344.00 L330.50,344.00 L331.00,344.00 L331.50,344.00 L332.00,344.00 L332.50,344.00 L333.00,344.00 L333.50,344.00 L334.00,344.00 L334.50,344.00 L335.00,344.00 L335.50,344.00 L336.00,344.00 L336.00,346.05 L335.50,345.87 L335.00,345.69 L334.50,345.51 L334.00,345.33 L333.50,345.14 L333.00,344.96 L332.50,344.78 L332.00,344.59 L331.50,344.41 L331.00,344.22 L330.50,344.03 L330.00,344.00 L329.50,344.00 L329.00,344.00 L328.50,344.00 L328.00,344.00 Z" fill="#3ccf14"/>
<path d="M336.00,333.05 L336.50,333.24 L337.00,333.44 L337.50,333.64 L338.00,333.83 L338.50,334.03 L339.00,334.22 L339.50,334.42 L340.00,334.61 L340.50,334.80 L341.00,334.99 L341.50,335.18 L342.00,335.37 L342.50,335.56 L343.00,335.75 L343.50,335.94 L344.00,336.00 L344.00,336.00 L343.50,336.00 L343.00,336.00 L342.50,336.00 L342.00,336.00 L341.50,336.00 L341.00,336.00 L340.50,336.00 L340.00,336.00 L339.50,336.00 L339.00,336.00 L338.50,336.00 L338.00,336.00 L337.50,336.00 L337.00,336.00 L336.50,336.00 L336.00,336.00 Z" fill="#d42a0c"/>
<path d="M336.00,336.00 L336.50,336.00 L337.00,336.00 L337.50,336.00 L338.00,336.00 L338.50,336.00 L339.00,336.00 L339.50,336.00 L340.00,336.00 L340.50,336.00 L341.00,336.00 L341.50,336.00 L342.00,336.00 L342.50,336.00 L343.00,336.00 L343.50,336.00 L344.00,336.13 L344.00,342.48 L343.50,342.31 L343.00,342.14 L342.50,341.96 L342.00,341.79 L341.50,341.61 L341.00,341.44 L340.50,341.26 L340.00,341.08 L339.50,340.91 L339.00,340.73 L338.50,340.55 L338.00,340.37 L337.50,340.18 L337.00,340.00 L336.50,339.82 L336.00,339.64 Z" fill="#d42a0c"/>
<path d="M336.00,342.75 L336.50,342.93 L337.00,343.11 L337.50,343.28 L338.00,343.46 L338.50,343.63 L339.00,343.81 L339.50,343.98 L340.00,344.00 L340.50,344.00 L341.00,344.00 L341.50,344.00 L342.00,344.00 L342.50,344.00 L343.00,344.00 L343.50,344.00 L344.00,344.00 L344.00,344.00 L343.50,344.00 L343.00,344.00 L342.50,344.00 L342.00,344.00 L341.50,344.00 L341.00,344.00 L340.50,344.00 L340.00,344.00 L339.50,344.00 L339.00,344.00 L338.50,344.00 L338.00,344.00 L337.50,344.00 L337.00,344.00 L336.50,344.00 L336.00,344.00 Z" fill="#6b3a10"/>
<path d="M336.00,344.00 L336.50,344.00 L337.00,344.00 L337.50,344.00 L338.00,344.00 L338.50,344.00 L339.00,344.00 L339.50,344.00 L340.00,344.16 L340.50,344.33 L341.00,344.50 L341.50,344.67 L342.00,344.84 L342.50,345.01 L343.00,345.18 L343.50,345.35 L344.00,345.52 L344.00,348.82 L343.50,348.65 L343.00,348.48 L342.50,348.31 L342.00,348.14 L341.50,347.97 L341.00,347.80 L340.50,347.63 L340.00,347.46 L339.50,347.28 L339.00,347.11 L338.50,346.93 L338.00,346.76 L337.50,346.58 L337.00,346.41 L336.50,346.23 L336.00,346.05 Z" fill="#6b3a10"/>
<path d="M344.00,336.13 L344.50,336.31 L345.00,336.50 L345.50,336.68 L346.00,336.87 L346.50,337.05 L347.00,337.23 L347.50,337.41 L348.00,337.60 L348.50,337.78 L349.00,337.96 L349.50,338.14 L350.00,338.31 L350.50,338.49 L351.00,338.67 L351.50,338.85 L352.00,339.02 L352.00,344.00 L351.50,344.00 L351.00,344.00 L350.50,344.00 L350.00,344.00 L349.50,344.00 L349.00,344.00 L348.50,344.00 L348.00,343.84 L347.50,343.67 L347.00,343.51 L346.50,343.34 L346.00,343.17 L345.50,343.00 L345.00,342.83 L344.50,342.66 L344.00,342.48 Z" fill="#41ca14"/>
<path d="M344.00,344.00 L344.50,344.00 L345.00,344.00 L345.50,344.00 L346.00,344.00 L346.50,344.00 L347.00,344.00 L347.50,344.00 L348.00,344.00 L348.50,344.00 L349.00,344.00 L349.50,344.00 L350.00,344.00 L350.50,344.00 L351.00,344.00 L351.50,344.00 L352.00,344.00 L352.00,345.15 L351.50,344.99 L351.00,344.83 L350.50,344.66 L350.00,344.50 L349.50,344.34 L349.00,344.17 L348.50,344.01 L348.00,344.00 L347.50,344.00 L347.00,344.00 L346.50,344.00 L346.00,344.00 L345.50,344.00 L345.00,344.00 L344.50,344.00 L344.00,344.00 Z" fill="#3ccf14"/>
<path d="M344.00,345.52 L344.50,345.68 L345.00,345.85 L345.50,346.01 L346.00,346.18 L346.50,346.34 L347.00,346.50 L347.50,346.67 L348.00,346.83 L348.50,346.99 L349.00,347.15 L349.50,347.31 L350.00,347.47 L350.50,347.63 L351.00,347.78 L351.50,347.94 L352.00,348.10 L352.00,351.40 L351.50,351.24 L351.00,351.08 L350.50,350.93 L350.00,350.77 L349.50,350.61 L349.00,350.45 L348.50,350.29 L348.00,350.13 L347.50,349.97 L347.00,349.80 L346.50,349.64 L346.00,349.48 L345.50,349.31 L345.00,349.15 L344.50,348.98 L344.00,348.82 Z" fill="#3dca14"/>
<path d="M352.00,339.02 L352.50,339.20 L353.00,339.37 L353.50,339.54 L354.00,339.72 L354.50,339.89 L355.00,340.06 L355.50,340.23 L356.00,340.40 L356.50,340.57 L357.00,340.74 L357.50,340.91 L358.00,341.08 L358.50,341.25 L359.00,341.41 L359.50,341.58 L360.00,341.74 L360.00,344.00 L359.50,344.00 L359.00,344.00 L358.50,344.00 L358.00,344.00 L357.50,344.00 L357.00,344.00 L356.50,344.00 L356.00,344.00 L355.50,344.00 L355.00,344.00 L354.50,344.00 L354.00,344.00 L353.50,344.00 L353.00,344.00 L352.50,344.00 L352.00,344.00 Z" fill="#c7380d"/>
<path d="M352.00,344.00 L352.50,344.00 L353.00,344.00 L353.50,344.00 L354.00,344.00 L354.50,344.00 L355.00,344.00 L355.50,344.00 L356.00,344.00 L356.50,344.00 L357.00,344.00 L357.50,344.00 L358.00,344.00 L358.50,344.00 L359.00,344.00 L359.50,344.00 L360.00,344.00 L360.00,347.64 L359.50,347.49 L359.00,347.33 L358.50,347.18 L358.00,347.03 L357.50,346.88 L357.00,346.72 L356.50,346.57 L356.00,346.41 L355.50,346.26 L355.00,346.10 L354.50,345.94 L354.00,345.79 L353.50,345.63 L353.00,345.47 L352.50,345.31 L352.00,345.15 Z" fill="#cf2f0c"/>
<path d="M352.00,348.10 L352.50,348.25 L353.00,348.41 L353.50,348.56 L354.00,348.71 L354.50,348.86 L355.00,349.02 L355.50,349.17 L356.00,349.32 L356.50,349.47 L357.00,349.62 L357.50,349.77 L358.00,349.91 L358.50,350.06 L359.00,350.21 L359.50,350.35 L360.00,350.50 L360.00,352.00 L359.50,352.00 L359.00,352.00 L358.50,352.00 L358.00,352.00 L357.50,352.00 L357.00,352.00 L356.50,352.00 L356.00,352.00 L355.50,352.00 L355.00,352.00 L354.50,352.00 L354.00,352.00 L353.50,351.86 L353.00,351.71 L352.50,351.55 L352.00,351.40 Z" fill="#674610"/>
<path d="M352.00,352.00 L352.50,352.00 L353.00,352.00 L353.50,352.00 L354.00,352.00 L354.50,352.00 L355.00,352.00 L355.50,352.00 L356.00,352.00 L356.50,352.00 L357.00,352.00 L357.50,352.00 L358.00,352.00 L358.50,352.00 L359.00,352.00 L359.50,352.00 L360.00,352.00 L360.00,353.80 L359.50,353.65 L359.00,353.51 L358.50,353.36 L358.00,353.21 L357.50,353.07 L357.00,352.92 L356.50,352.77 L356.00,352.62 L355.50,352.47 L355.00,352.32 L354.50,352.16 L354.00,352.01 L353.50,352.00 L353.00,352.00 L352.50,352.00 L352.00,352.00 Z" fill="#6b3a10"/>
<path d="M360.00,341.74 L360.50,341.91 L361.00,342.07 L361.50,342.23 L362.00,342.40 L362.50,342.56 L363.00,342.72 L363.50,342.88 L364.00,343.04 L364.50,343.20 L365.00,343.36 L365.50,343.52 L366.00,343.67 L366.50,343.83 L367.00,343.99 L367.50,344.00 L368.00,344.00 L368.00,344.00 L367.50,344.00 L367.00,344.00 L366.50,344.00 L366.00,344.00 L365.50,344.00 L365.00,344.00 L364.50,344.00 L364.00,344.00 L363.50,344.00 L363.00,344.00 L362.50,344.00 L362.00,344.00 L361.50,344.00 L361.00,344.00 L360.50,344.00 L360.00,344.00 Z" fill="#65a312"/>
<path d="M360.00,344.00 L360.50,344.00 L361.00,344.00 L361.50,344.00 L362.00,344.00 L362.50,344.00 L363.00,344.00 L363.50,344.00 L364.00,344.00 L364.50,344.00 L365.00,344.00 L365.50,344.00 L366.00,344.00 L366.50,344.00 L367.00,344.00 L367.50,344.14 L368.00,344.30 L368.00,349.95 L367.50,349.81 L367.00,349.67 L366.50,349.53 L366.00,349.39 L365.50,349.25 L365.00,349.10 L364.50,348.96 L364.00,348.82 L363.50,348.67 L363.00,348.52 L362.50,348.38 L362.00,348.23 L361.50,348.08 L361.00,347.93 L360.50,347.79 L360.00,347.64 Z" fill="#4bbf13"/>
<path d="M360.00,350.50 L360.50,350.64 L361.00,350.79 L361.50,350.93 L362.00,351.07 L362.50,351.21 L363.00,351.35 L363.50,351.49 L364.00,351.63 L364.50,351.77 L365.00,351.91 L365.50,352.00 L366.00,352.00 L366.50,352.00 L367.00,352.00 L367.50,352.00 L368.00,352.00 L368.00,352.00 L367.50,352.00 L367.00,352.00 L366.50,352.00 L366.00,352.00 L365.50,352.00 L365.00,352.00 L364.50,352.00 L364.00,352.00 L363.50,352.00 L363.00,352.00 L362.50,352.00 L362.00,352.00 L361.50,352.00 L361.00,352.00 L360.50,352.00 L360.00,352.00 Z" fill="#4c9b13"/>
<path d="M360.00,352.00 L360.50,352.00 L361.00,352.00 L361.50,352.00 L362.00,352.00 L362.50,352.00 L363.00,352.00 L363.50,352.00 L364.00,352.00 L364.50,352.00 L365.00,352.00 L365.50,352.05 L366.00,352.19 L366.50,352.32 L367.00,352.46 L367.50,352.59 L368.00,352.73 L368.00,356.03 L367.50,355.89 L367.00,355.76 L366.50,355.62 L366.00,355.49 L365.50,355.35 L365.00,355.21 L364.50,355.07 L364.00,354.93 L363.50,354.79 L363.00,354.65 L362.50,354.51 L362.00,354.37 L361.50,354.23 L361.00,354.09 L360.50,353.94 L360.00,353.80 Z" fill="#40c214"/>
<path d="M368.00,344.30 L368.50,344.45 L369.00,344.61 L369.50,344.76 L370.00,344.91 L370.50,345.06 L371.00,345.21 L371.50,345.36 L372.00,345.51 L372.50,345.66 L373.00,345.81 L373.50,345.96 L374.00,346.11 L374.50,346.26 L375.00,346.40 L375.50,346.55 L376.00,346.69 L376.00,352.00 L375.50,351.98 L375.00,351.85 L374.50,351.72 L374.00,351.59 L373.50,351.45 L373.00,351.32 L372.50,351.19 L372.00,351.05 L371.50,350.92 L371.00,350.78 L370.50,350.64 L370.00,350.51 L369.50,350.37 L369.00,350.23 L368.50,350.09 L368.00,349.95 Z" fill="#bc440d"/>
<path d="M368.00,352.73 L368.50,352.86 L369.00,353.00 L369.50,353.13 L370.00,353.26 L370.50,353.39 L371.00,353.52 L371.50,353.65 L372.00,353.78 L372.50,353.91 L373.00,354.04 L373.50,354.17 L374.00,354.30 L374.50,354.42 L375.00,354.55 L375.50,354.68 L376.00,354.80 L376.00,358.10 L375.50,357.98 L375.00,357.85 L374.50,357.72 L374.00,357.60 L373.50,357.47 L373.00,357.34 L372.50,357.21 L372.00,357.08 L371.50,356.95 L371.00,356.82 L370.50,356.69 L370.00,356.56 L369.50,356.43 L369.00,356.30 L368.50,356.16 L368.00,356.03 Z" fill="#645111"/>
<path d="M376.00,346.69 L376.50,346.84 L377.00,346.98 L377.50,347.13 L378.00,347.27 L378.50,347.41 L379.00,347.55 L379.50,347.69 L380.00,347.83 L380.50,347.97 L381.00,348.11 L381.50,348.25 L382.00,348.39 L382.50,348.53 L383.00,348.67 L383.50,348.80 L384.00,348.94 L384.00,352.00 L383.50,352.00 L383.00,352.00 L382.50,352.00 L382.00,352.00 L381.50,352.00 L381.00,352.00 L380.50,352.00 L380.00,352.00 L379.50,352.00 L379.00,352.00 L378.50,352.00 L378.00,352.00 L377.50,352.00 L377.00,352.00 L376.50,352.00 L376.00,352.00 Z" fill="#64a312"/>
<path d="M376.00,352.00 L376.50,352.00 L377.00,352.00 L377.50,352.00 L378.00,352.00 L378.50,352.00 L379.00,352.00 L379.50,352.00 L380.00,352.00 L380.50,352.00 L381.00,352.00 L381.50,352.00 L382.00,352.00 L382.50,352.00 L383.00,352.00 L383.50,352.00 L384.00,352.00 L384.00,354.12 L383.50,353.99 L383.00,353.87 L382.50,353.75 L382.00,353.63 L381.50,353.50 L381.00,353.38 L380.50,353.26 L380.00,353.13 L379.50,353.01 L379.00,352.88 L378.50,352.75 L378.00,352.63 L377.50,352.50 L377.00,352.37 L376.50,352.24 L376.00,352.11 Z" fill="#47c413"/>
<path d="M376.00,354.80 L376.50,354.92 L377.00,355.05 L377.50,355.17 L378.00,355.29 L378.50,355.42 L379.00,355.54 L379.50,355.66 L380.00,355.78 L380.50,355.90 L381.00,356.02 L381.50,356.14 L382.00,356.25 L382.50,356.37 L383.00,356.49 L383.50,356.60 L384.00,356.72 L384.00,360.00 L383.50,359.90 L383.00,359.79 L382.50,359.67 L382.00,359.55 L381.50,359.44 L381.00,359.32 L380.50,359.20 L380.00,359.08 L379.50,358.96 L379.00,358.84 L378.50,358.72 L378.00,358.59 L377.50,358.47 L377.00,358.35 L376.50,358.22 L376.00,358.10 Z" fill="#46ae13"/>
<path d="M384.00,348.94 L384.50,349.07 L385.00,349.21 L385.50,349.34 L386.00,349.48 L386.50,349.61 L387.00,349.74 L387.50,349.87 L388.00,350.01 L388.50,350.14 L389.00,350.27 L389.50,350.40 L390.00,350.53 L390.50,350.66 L391.00,350.78 L391.50,350.91 L392.00,351.04 L392.00,352.00 L391.50,352.00 L391.00,352.00 L390.50,352.00 L390.00,352.00 L389.50,352.00 L389.00,352.00 L388.50,352.00 L388.00,352.00 L387.50,352.00 L387.00,352.00 L386.50,352.00 L386.00,352.00 L385.50,352.00 L385.00,352.00 L384.50,352.00 L384.00,352.00 Z" fill="#996a0f"/>
<path d="M384.00,352.00 L384.50,352.00 L385.00,352.00 L385.50,352.00 L386.00,352.00 L386.50,352.00 L387.00,352.00 L387.50,352.00 L388.00,352.00 L388.50,352.00 L389.00,352.00 L389.50,352.00 L390.00,352.00 L390.50,352.00 L391.00,352.00 L391.50,352.00 L392.00,352.00 L392.00,355.97 L391.50,355.86 L391.00,355.75 L390.50,355.64 L390.00,355.52 L389.50,355.41 L389.00,355.29 L388.50,355.18 L388.00,355.06 L387.50,354.95 L387.00,354.83 L386.50,354.71 L386.00,354.59 L385.50,354.47 L385.00,354.36 L384.50,354.24 L384.00,354.12 Z" fill="#b34e0e"/>
<path d="M384.00,356.72 L384.50,356.83 L385.00,356.95 L385.50,357.06 L386.00,357.18 L386.50,357.29 L387.00,357.40 L387.50,357.51 L388.00,357.63 L388.50,357.74 L389.00,357.85 L389.50,357.96 L390.00,358.06 L390.50,358.17 L391.00,358.28 L391.50,358.39 L392.00,358.50 L392.00,360.00 L391.50,360.00 L391.00,360.00 L390.50,360.00 L390.00,360.00 L389.50,360.00 L389.00,360.00 L388.50,360.00 L388.00,360.00 L387.50,360.00 L387.00,360.00 L386.50,360.00 L386.00,360.00 L385.50,360.00 L385.00,360.00 L384.50,360.00 L384.00,360.00 Z" fill="#5a6f11"/>
<path d="M384.00,360.00 L384.50,360.00 L385.00,360.00 L385.50,360.00 L386.00,360.00 L386.50,360.00 L387.00,360.00 L387.50,360.00 L388.00,360.00 L388.50,360.00 L389.00,360.00 L389.50,360.00 L390.00,360.00 L390.50,360.00 L391.00,360.00 L391.50,360.00 L392.00,360.00 L392.00,361.80 L391.50,361.69 L391.00,361.58 L390.50,361.47 L390.00,361.36 L389.50,361.26 L389.00,361.15 L388.50,361.04 L388.00,360.93 L387.50,360.81 L387.00,360.70 L386.50,360.59 L386.00,360.48 L385.50,360.36 L385.00,360.25 L384.50,360.13 L384.00,360.02 Z" fill="#674710"/>
<path d="M392.00,351.04 L392.50,351.17 L393.00,351.29 L393.50,351.42 L394.00,351.54 L394.50,351.67 L395.00,351.79 L395.50,351.91 L396.00,352.00 L396.50,352.00 L397.00,352.00 L397.50,352.00 L398.00,352.00 L398.50,352.00 L399.00,352.00 L399.50,352.00 L400.00,352.00 L400.00,352.00 L399.50,352.00 L399.00,352.00 L398.50,352.00 L398.00,352.00 L397.50,352.00 L397.00,352.00 L396.50,352.00 L396.00,352.00 L395.50,352.00 L395.00,352.00 L394.50,352.00 L394.00,352.00 L393.50,352.00 L393.00,352.00 L392.50,352.00 L392.00,352.00 Z" fill="#c9360d"/>
<path d="M392.00,352.00 L392.50,352.00 L393.00,352.00 L393.50,352.00 L394.00,352.00 L394.50,352.00 L395.00,352.00 L395.50,352.00 L396.00,352.04 L396.50,352.16 L397.00,352.28 L397.50,352.40 L398.00,352.53 L398.50,352.65 L399.00,352.77 L399.50,352.89 L400.00,353.00 L400.00,357.70 L399.50,357.59 L399.00,357.49 L398.50,357.38 L398.00,357.28 L397.50,357.17 L397.00,357.07 L396.50,356.96 L396.00,356.85 L395.50,356.74 L395.00,356.64 L394.50,356.53 L394.00,356.42 L393.50,356.31 L393.00,356.20 L392.50,356.09 L392.00,355.97 Z" fill="#6d9a11"/>
<path d="M392.00,358.50 L392.50,358.60 L393.00,358.71 L393.50,358.81 L394.00,358.92 L394.50,359.02 L395.00,359.13 L395.50,359.23 L396.00,359.33 L396.50,359.43 L397.00,359.54 L397.50,359.64 L398.00,359.74 L398.50,359.84 L399.00,359.94 L399.50,360.00 L400.00,360.00 L400.00,360.00 L399.50,360.00 L399.00,360.00 L398.50,360.00 L398.00,360.00 L397.50,360.00 L397.00,360.00 L396.50,360.00 L396.00,360.00 L395.50,360.00 L395.00,360.00 L394.50,360.00 L394.00,360.00 L393.50,360.00 L393.00,360.00 L392.50,360.00 L392.00,360.00 Z" fill="#597412"/>
<path d="M392.00,360.00 L392.50,360.00 L393.00,360.00 L393.50,360.00 L394.00,360.00 L394.50,360.00 L395.00,360.00 L395.50,360.00 L396.00,360.00 L396.50,360.00 L397.00,360.00 L397.50,360.00 L398.00,360.00 L398.50,360.00 L399.00,360.00 L399.50,360.04 L400.00,360.14 L400.00,363.44 L399.50,363.34 L399.00,363.24 L398.50,363.14 L398.00,363.04 L397.50,362.94 L397.00,362.84 L396.50,362.73 L396.00,362.63 L395.50,362.53 L395.00,362.43 L394.50,362.32 L394.00,362.22 L393.50,362.11 L393.00,362.01 L392.50,361.90 L392.00,361.80 Z" fill="#49a613"/>
<path d="M400.00,353.00 L400.50,353.12 L401.00,353.24 L401.50,353.36 L402.00,353.47 L402.50,353.59 L403.00,353.71 L403.50,353.82 L404.00,353.94 L404.50,354.05 L405.00,354.17 L405.50,354.28 L406.00,354.39 L406.50,354.51 L407.00,354.62 L407.50,354.73 L408.00,354.84 L408.00,359.29 L407.50,359.20 L407.00,359.10 L406.50,359.00 L406.00,358.90 L405.50,358.81 L405.00,358.71 L404.50,358.61 L404.00,358.51 L403.50,358.41 L403.00,358.31 L402.50,358.21 L402.00,358.11 L401.50,358.01 L401.00,357.90 L400.50,357.80 L400.00,357.70 Z" fill="#907310"/>
<path d="M400.00,360.14 L400.50,360.23 L401.00,360.33 L401.50,360.43 L402.00,360.53 L402.50,360.62 L403.00,360.72 L403.50,360.81 L404.00,360.91 L404.50,361.00 L405.00,361.10 L405.50,361.19 L406.00,361.28 L406.50,361.37 L407.00,361.47 L407.50,361.56 L408.00,361.65 L408.00,364.95 L407.50,364.86 L407.00,364.77 L406.50,364.67 L406.00,364.58 L405.50,364.49 L405.00,364.40 L404.50,364.30 L404.00,364.21 L403.50,364.11 L403.00,364.02 L402.50,363.92 L402.00,363.83 L401.50,363.73 L401.00,363.63 L400.50,363.53 L400.00,363.44 Z" fill="#577b12"/>
<path d="M408.00,354.84 L408.50,354.95 L409.00,355.06 L409.50,355.17 L410.00,355.28 L410.50,355.39 L411.00,355.50 L411.50,355.61 L412.00,355.71 L412.50,355.82 L413.00,355.93 L413.50,356.03 L414.00,356.14 L414.50,356.24 L415.00,356.35 L415.50,356.45 L416.00,356.56 L416.00,360.00 L415.50,360.00 L415.00,360.00 L414.50,360.00 L414.00,360.00 L413.50,360.00 L413.00,360.00 L412.50,360.00 L412.00,360.00 L411.50,359.95 L411.00,359.86 L410.50,359.76 L410.00,359.67 L409.50,359.58 L409.00,359.48 L408.50,359.39 L408.00,359.29 Z" fill="#8d7710"/>
<path d="M408.00,360.00 L408.50,360.00 L409.00,360.00 L409.50,360.00 L410.00,360.00 L410.50,360.00 L411.00,360.00 L411.50,360.00 L412.00,360.00 L412.50,360.00 L413.00,360.00 L413.50,360.00 L414.00,360.00 L414.50,360.00 L415.00,360.00 L415.50,360.00 L416.00,360.00 L416.00,360.76 L415.50,360.67 L415.00,360.59 L414.50,360.50 L414.00,360.41 L413.50,360.32 L413.00,360.22 L412.50,360.13 L412.00,360.04 L411.50,360.00 L411.00,360.00 L410.50,360.00 L410.00,360.00 L409.50,360.00 L409.00,360.00 L408.50,360.00 L408.00,360.00 Z" fill="#3ccf14"/>
<path d="M408.00,361.65 L408.50,361.74 L409.00,361.83 L409.50,361.92 L410.00,362.01 L410.50,362.10 L411.00,362.19 L411.50,362.27 L412.00,362.36 L412.50,362.45 L413.00,362.53 L413.50,362.62 L414.00,362.70 L414.50,362.79 L415.00,362.87 L415.50,362.96 L416.00,363.04 L416.00,366.34 L415.50,366.26 L415.00,366.17 L414.50,366.09 L414.00,366.00 L413.50,365.92 L413.00,365.83 L412.50,365.75 L412.00,365.66 L411.50,365.57 L411.00,365.49 L410.50,365.40 L410.00,365.31 L409.50,365.22 L409.00,365.13 L408.50,365.04 L408.00,364.95 Z" fill="#548412"/>
<path d="M416.00,356.56 L416.50,356.66 L417.00,356.76 L417.50,356.86 L418.00,356.97 L418.50,357.07 L419.00,357.17 L419.50,357.27 L420.00,357.37 L420.50,357.47 L421.00,357.57 L421.50,357.67 L422.00,357.77 L422.50,357.86 L423.00,357.96 L423.50,358.06 L424.00,358.16 L424.00,360.00 L423.50,360.00 L423.00,360.00 L422.50,360.00 L422.00,360.00 L421.50,360.00 L421.00,360.00 L420.50,360.00 L420.00,360.00 L419.50,360.00 L419.00,360.00 L418.50,360.00 L418.00,360.00 L417.50,360.00 L417.00,360.00 L416.50,360.00 L416.00,360.00 Z" fill="#6f9811"/>
<path d="M416.00,360.00 L416.50,360.00 L417.00,360.00 L417.50,360.00 L418.00,360.00 L418.50,360.00 L419.00,360.00 L419.50,360.00 L420.00,360.00 L420.50,360.00 L421.00,360.00 L421.50,360.00 L422.00,360.00 L422.50,360.00 L423.00,360.00 L423.50,360.00 L424.00,360.00 L424.00,362.12 L423.50,362.04 L423.00,361.96 L422.50,361.87 L422.00,361.79 L421.50,361.71 L421.00,361.62 L420.50,361.54 L420.00,361.46 L419.50,361.37 L419.00,361.29 L418.50,361.20 L418.00,361.11 L417.50,361.03 L417.00,360.94 L416.50,360.85 L416.00,360.76 Z" fill="#8b7910"/>
<path d="M416.00,363.04 L416.50,363.13 L417.00,363.21 L417.50,363.29 L418.00,363.37 L418.50,363.45 L419.00,363.54 L419.50,363.62 L420.00,363.70 L420.50,363.78 L421.00,363.86 L421.50,363.94 L422.00,364.01 L422.50,364.09 L423.00,364.17 L423.50,364.25 L424.00,364.32 L424.00,367.62 L423.50,367.55 L423.00,367.47 L422.50,367.39 L422.00,367.31 L421.50,367.24 L421.00,367.16 L420.50,367.08 L420.00,367.00 L419.50,366.92 L419.00,366.84 L418.50,366.75 L418.00,366.67 L417.50,366.59 L417.00,366.51 L416.50,366.43 L416.00,366.34 Z" fill="#4f9212"/>
<path d="M424.00,358.16 L424.50,358.25 L425.00,358.35 L425.50,358.44 L426.00,358.54 L426.50,358.63 L427.00,358.73 L427.50,358.82 L428.00,358.92 L428.50,359.01 L429.00,359.10 L429.50,359.19 L430.00,359.29 L430.50,359.38 L431.00,359.47 L431.50,359.56 L432.00,359.65 L432.00,360.00 L431.50,360.00 L431.00,360.00 L430.50,360.00 L430.00,360.00 L429.50,360.00 L429.00,360.00 L428.50,360.00 L428.00,360.00 L427.50,360.00 L427.00,360.00 L426.50,360.00 L426.00,360.00 L425.50,360.00 L425.00,360.00 L424.50,360.00 L424.00,360.00 Z" fill="#bb450d"/>
<path d="M424.00,360.00 L424.50,360.00 L425.00,360.00 L425.50,360.00 L426.00,360.00 L426.50,360.00 L427.00,360.00 L427.50,360.00 L428.00,360.00 L428.50,360.00 L429.00,360.00 L429.50,360.00 L430.00,360.00 L430.50,360.00 L431.00,360.00 L431.50,360.00 L432.00,360.00 L432.00,363.45 L431.50,363.36 L431.00,363.27 L430.50,363.18 L430.00,363.09 L429.50,363.00 L429.00,362.92 L428.50,362.84 L428.00,362.76 L427.50,362.68 L427.00,362.60 L426.50,362.52 L426.00,362.44 L425.50,362.36 L425.00,362.28 L424.50,362.20 L424.00,362.12 Z" fill="#9d660f"/>
<path d="M424.00,364.32 L424.50,364.40 L425.00,364.48 L425.50,364.55 L426.00,364.63 L426.50,364.70 L427.00,364.78 L427.50,364.85 L428.00,364.93 L428.50,365.00 L429.00,365.07 L429.50,365.14 L430.00,365.22 L430.50,365.29 L431.00,365.36 L431.50,365.43 L432.00,365.50 L432.00,368.00 L431.50,368.00 L431.00,368.00 L430.50,368.00 L430.00,368.00 L429.50,368.00 L429.00,368.00 L428.50,368.00 L428.00,368.00 L427.50,368.00 L427.00,368.00 L426.50,368.00 L426.00,367.93 L425.50,367.85 L425.00,367.78 L424.50,367.70 L424.00,367.62 Z" fill="#5e6311"/>
<path d="M424.00,368.00 L424.50,368.00 L425.00,368.00 L425.50,368.00 L426.00,368.00 L426.50,368.00 L427.00,368.00 L427.50,368.00 L428.00,368.00 L428.50,368.00 L429.00,368.00 L429.50,368.00 L430.00,368.00 L430.50,368.00 L431.00,368.00 L431.50,368.00 L432.00,368.00 L432.00,368.80 L431.50,368.73 L431.00,368.66 L430.50,368.59 L430.00,368.52 L429.50,368.44 L429.00,368.37 L428.50,368.30 L428.00,368.23 L427.50,368.15 L427.00,368.08 L426.50,368.00 L426.00,368.00 L425.50,368.00 L425.00,368.00 L424.50,368.00 L424.00,368.00 Z" fill="#4aa113"/>
<path d="M432.00,359.65 L432.50,359.74 L433.00,359.83 L433.50,359.92 L434.00,360.00 L434.50,360.00 L435.00,360.00 L435.50,360.00 L436.00,360.00 L436.50,360.00 L437.00,360.00 L437.50,360.00 L438.00,360.00 L438.50,360.00 L439.00,360.00 L439.50,360.00 L440.00,360.00 L440.00,360.00 L439.50,360.00 L439.00,360.00 L438.50,360.00 L438.00,360.00 L437.50,360.00 L437.00,360.00 L436.50,360.00 L436.00,360.00 L435.50,360.00 L435.00,360.00 L434.50,360.00 L434.00,360.00 L433.50,360.00 L433.00,360.00 L432.50,360.00 L432.00,360.00 Z" fill="#3ccf14"/>
<path d="M432.00,360.00 L432.50,360.00 L433.00,360.00 L433.50,360.00 L434.00,360.01 L434.50,360.09 L435.00,360.18 L435.50,360.27 L436.00,360.36 L436.50,360.44 L437.00,360.53 L437.50,360.62 L438.00,360.70 L438.50,360.79 L439.00,360.87 L439.50,360.96 L440.00,361.04 L440.00,364.84 L439.50,364.76 L439.00,364.67 L438.50,364.59 L438.00,364.50 L437.50,364.42 L437.00,364.33 L436.50,364.24 L436.00,364.16 L435.50,364.07 L435.00,363.98 L434.50,363.89 L434.00,363.81 L433.50,363.72 L433.00,363.63 L432.50,363.54 L432.00,363.45 Z" fill="#62a512"/>
<path d="M432.00,365.50 L432.50,365.57 L433.00,365.64 L433.50,365.71 L434.00,365.78 L434.50,365.85 L435.00,365.92 L435.50,365.99 L436.00,366.05 L436.50,366.12 L437.00,366.19 L437.50,366.25 L438.00,366.32 L438.50,366.39 L439.00,366.45 L439.50,366.52 L440.00,366.58 L440.00,368.00 L439.50,368.00 L439.00,368.00 L438.50,368.00 L438.00,368.00 L437.50,368.00 L437.00,368.00 L436.50,368.00 L436.00,368.00 L435.50,368.00 L435.00,368.00 L434.50,368.00 L434.00,368.00 L433.50,368.00 L433.00,368.00 L432.50,368.00 L432.00,368.00 Z" fill="#45b113"/>
<path d="M432.00,368.00 L432.50,368.00 L433.00,368.00 L433.50,368.00 L434.00,368.00 L434.50,368.00 L435.00,368.00 L435.50,368.00 L436.00,368.00 L436.50,368.00 L437.00,368.00 L437.50,368.00 L438.00,368.00 L438.50,368.00 L439.00,368.00 L439.50,368.00 L440.00,368.00 L440.00,369.88 L439.50,369.82 L439.00,369.75 L438.50,369.69 L438.00,369.62 L437.50,369.55 L437.00,369.49 L436.50,369.42 L436.00,369.35 L435.50,369.29 L435.00,369.22 L434.50,369.15 L434.00,369.08 L433.50,369.01 L433.00,368.94 L432.50,368.87 L432.00,368.80 Z" fill="#4b9e13"/>
<path d="M440.00,361.04 L440.50,361.12 L441.00,361.21 L441.50,361.29 L442.00,361.37 L442.50,361.46 L443.00,361.54 L443.50,361.62 L444.00,361.70 L444.50,361.78 L445.00,361.86 L445.50,361.94 L446.00,362.02 L446.50,362.10 L447.00,362.18 L447.50,362.26 L448.00,362.34 L448.00,366.14 L447.50,366.06 L447.00,365.98 L446.50,365.90 L446.00,365.82 L445.50,365.74 L445.00,365.66 L444.50,365.58 L444.00,365.50 L443.50,365.42 L443.00,365.34 L442.50,365.26 L442.00,365.17 L441.50,365.09 L441.00,365.01 L440.50,364.92 L440.00,364.84 Z" fill="#bd430d"/>
<path d="M440.00,366.58 L440.50,366.65 L441.00,366.71 L441.50,366.77 L442.00,366.84 L442.50,366.90 L443.00,366.96 L443.50,367.03 L444.00,367.09 L444.50,367.15 L445.00,367.21 L445.50,367.27 L446.00,367.33 L446.50,367.39 L447.00,367.45 L447.50,367.51 L448.00,367.57 L448.00,368.00 L447.50,368.00 L447.00,368.00 L446.50,368.00 L446.00,368.00 L445.50,368.00 L445.00,368.00 L444.50,368.00 L444.00,368.00 L443.50,368.00 L443.00,368.00 L442.50,368.00 L442.00,368.00 L441.50,368.00 L441.00,368.00 L440.50,368.00 L440.00,368.00 Z" fill="#674710"/>
<path d="M440.00,368.00 L440.50,368.00 L441.00,368.00 L441.50,368.00 L442.00,368.00 L442.50,368.00 L443.00,368.00 L443.50,368.00 L444.00,368.00 L444.50,368.00 L445.00,368.00 L445.50,368.00 L446.00,368.00 L446.50,368.00 L447.00,368.00 L447.50,368.00 L448.00,368.00 L448.00,370.87 L447.50,370.81 L447.00,370.75 L446.50,370.69 L446.00,370.63 L445.50,370.57 L445.00,370.51 L444.50,370.45 L444.00,370.39 L443.50,370.33 L443.00,370.26 L442.50,370.20 L442.00,370.14 L441.50,370.07 L441.00,370.01 L440.50,369.95 L440.00,369.88 Z" fill="#625511"/>
<path d="M448.00,362.34 L448.50,362.42 L449.00,362.49 L449.50,362.57 L450.00,362.65 L450.50,362.72 L451.00,362.80 L451.50,362.88 L452.00,362.95 L452.50,363.03 L453.00,363.10 L453.50,363.18 L454.00,363.25 L454.50,363.33 L455.00,363.40 L455.50,363.47 L456.00,363.55 L456.00,367.35 L455.50,367.27 L455.00,367.20 L454.50,367.13 L454.00,367.05 L453.50,366.98 L453.00,366.90 L452.50,366.83 L452.00,366.75 L451.50,366.68 L451.00,366.60 L450.50,366.52 L450.00,366.45 L449.50,366.37 L449.00,366.29 L448.50,366.22 L448.00,366.14 Z" fill="#45c514"/>
<path d="M448.00,367.57 L448.50,367.63 L449.00,367.69 L449.50,367.75 L450.00,367.81 L450.50,367.86 L451.00,367.92 L451.50,367.98 L452.00,368.00 L452.50,368.00 L453.00,368.00 L453.50,368.00 L454.00,368.00 L454.50,368.00 L455.00,368.00 L455.50,368.00 L456.00,368.00 L456.00,368.00 L455.50,368.00 L455.00,368.00 L454.50,368.00 L454.00,368.00 L453.50,368.00 L453.00,368.00 L452.50,368.00 L452.00,368.00 L451.50,368.00 L451.00,368.00 L450.50,368.00 L450.00,368.00 L449.50,368.00 L449.00,368.00 L448.50,368.00 L448.00,368.00 Z" fill="#3ccf14"/>
<path d="M448.00,368.00 L448.50,368.00 L449.00,368.00 L449.50,368.00 L450.00,368.00 L450.50,368.00 L451.00,368.00 L451.50,368.00 L452.00,368.03 L452.50,368.09 L453.00,368.15 L453.50,368.20 L454.00,368.26 L454.50,368.31 L455.00,368.37 L455.50,368.42 L456.00,368.48 L456.00,371.78 L455.50,371.72 L455.00,371.67 L454.50,371.61 L454.00,371.56 L453.50,371.50 L453.00,371.45 L452.50,371.39 L452.00,371.33 L451.50,371.28 L451.00,371.22 L450.50,371.16 L450.00,371.11 L449.50,371.05 L449.00,370.99 L448.50,370.93 L448.00,370.87 Z" fill="#3fc614"/>
<path d="M456.00,363.55 L456.50,363.62 L457.00,363.69 L457.50,363.76 L458.00,363.84 L458.50,363.91 L459.00,363.98 L459.50,364.05 L460.00,364.12 L460.50,364.19 L461.00,364.26 L461.50,364.33 L462.00,364.40 L462.50,364.47 L463.00,364.54 L463.50,364.61 L464.00,364.67 L464.00,368.00 L463.50,368.00 L463.00,368.00 L462.50,368.00 L462.00,368.00 L461.50,368.00 L461.00,368.00 L460.50,367.99 L460.00,367.92 L459.50,367.85 L459.00,367.78 L458.50,367.71 L458.00,367.64 L457.50,367.56 L457.00,367.49 L456.50,367.42 L456.00,367.35 Z" fill="#d42a0c"/>
<path d="M456.00,368.00 L456.50,368.00 L457.00,368.00 L457.50,368.00 L458.00,368.00 L458.50,368.00 L459.00,368.00 L459.50,368.00 L460.00,368.00 L460.50,368.00 L461.00,368.00 L461.50,368.00 L462.00,368.00 L462.50,368.00 L463.00,368.00 L463.50,368.00 L464.00,368.00 L464.00,368.47 L463.50,368.41 L463.00,368.34 L462.50,368.27 L462.00,368.20 L461.50,368.13 L461.00,368.06 L460.50,368.00 L460.00,368.00 L459.50,368.00 L459.00,368.00 L458.50,368.00 L458.00,368.00 L457.50,368.00 L457.00,368.00 L456.50,368.00 L456.00,368.00 Z" fill="#d42a0c"/>
<path d="M456.00,368.48 L456.50,368.53 L457.00,368.58 L457.50,368.64 L458.00,368.69 L458.50,368.74 L459.00,368.80 L459.50,368.85 L460.00,368.90 L460.50,368.95 L461.00,369.00 L461.50,369.05 L462.00,369.10 L462.50,369.16 L463.00,369.21 L463.50,369.26 L464.00,369.30 L464.00,372.60 L463.50,372.56 L463.00,372.51 L462.50,372.46 L462.00,372.40 L461.50,372.35 L461.00,372.30 L460.50,372.25 L460.00,372.20 L459.50,372.15 L459.00,372.10 L458.50,372.04 L458.00,371.99 L457.50,371.94 L457.00,371.88 L456.50,371.83 L456.00,371.78 Z" fill="#6b3a10"/>
<path d="M464.00,364.67 L464.50,364.74 L465.00,364.81 L465.50,364.88 L466.00,364.94 L466.50,365.01 L467.00,365.08 L467.50,365.14 L468.00,365.21 L468.50,365.28 L469.00,365.34 L469.50,365.41 L470.00,365.47 L470.50,365.54 L471.00,365.60 L471.50,365.66 L472.00,365.73 L472.00,368.00 L471.50,368.00 L471.00,368.00 L470.50,368.00 L470.00,368.00 L469.50,368.00 L469.00,368.00 L468.50,368.00 L468.00,368.00 L467.50,368.00 L467.00,368.00 L466.50,368.00 L466.00,368.00 L465.50,368.00 L465.00,368.00 L464.50,368.00 L464.00,368.00 Z" fill="#42c914"/>
<path d="M464.00,368.00 L464.50,368.00 L465.00,368.00 L465.50,368.00 L466.00,368.00 L466.50,368.00 L467.00,368.00 L467.50,368.00 L468.00,368.00 L468.50,368.00 L469.00,368.00 L469.50,368.00 L470.00,368.00 L470.50,368.00 L471.00,368.00 L471.50,368.00 L472.00,368.00 L472.00,369.53 L471.50,369.46 L471.00,369.40 L470.50,369.34 L470.00,369.27 L469.50,369.21 L469.00,369.14 L468.50,369.08 L468.00,369.01 L467.50,368.94 L467.00,368.88 L466.50,368.81 L466.00,368.74 L465.50,368.68 L465.00,368.61 L464.50,368.54 L464.00,368.47 Z" fill="#3ecc14"/>
<path d="M464.00,369.30 L464.50,369.35 L465.00,369.40 L465.50,369.45 L466.00,369.50 L466.50,369.55 L467.00,369.60 L467.50,369.64 L468.00,369.69 L468.50,369.74 L469.00,369.79 L469.50,369.83 L470.00,369.88 L470.50,369.92 L471.00,369.97 L471.50,370.02 L472.00,370.06 L472.00,373.36 L471.50,373.32 L471.00,373.27 L470.50,373.22 L470.00,373.18 L469.50,373.13 L469.00,373.09 L468.50,373.04 L468.00,372.99 L467.50,372.94 L467.00,372.90 L466.50,372.85 L466.00,372.80 L465.50,372.75 L465.00,372.70 L464.50,372.65 L464.00,372.60 Z" fill="#3dca14"/>
<path d="M472.00,365.73 L472.50,365.79 L473.00,365.85 L473.50,365.92 L474.00,365.98 L474.50,366.04 L475.00,366.10 L475.50,366.17 L476.00,366.23 L476.50,366.29 L477.00,366.35 L477.50,366.41 L478.00,366.47 L478.50,366.53 L479.00,366.59 L479.50,366.65 L480.00,366.71 L480.00,368.00 L479.50,368.00 L479.00,368.00 L478.50,368.00 L478.00,368.00 L477.50,368.00 L477.00,368.00 L476.50,368.00 L476.00,368.00 L475.50,368.00 L475.00,368.00 L474.50,368.00 L474.00,368.00 L473.50,368.00 L473.00,368.00 L472.50,368.00 L472.00,368.00 Z" fill="#c23e0d"/>
<path d="M472.00,368.00 L472.50,368.00 L473.00,368.00 L473.50,368.00 L474.00,368.00 L474.50,368.00 L475.00,368.00 L475.50,368.00 L476.00,368.00 L476.50,368.00 L477.00,368.00 L477.50,368.00 L478.00,368.00 L478.50,368.00 L479.00,368.00 L479.50,368.00 L480.00,368.00 L480.00,370.51 L479.50,370.45 L479.00,370.39 L478.50,370.33 L478.00,370.27 L477.50,370.21 L477.00,370.15 L476.50,370.09 L476.00,370.03 L475.50,369.97 L475.00,369.90 L474.50,369.84 L474.00,369.78 L473.50,369.72 L473.00,369.65 L472.50,369.59 L472.00,369.53 Z" fill="#c9350d"/>
<path d="M472.00,370.06 L472.50,370.11 L473.00,370.15 L473.50,370.20 L474.00,370.24 L474.50,370.28 L475.00,370.33 L475.50,370.37 L476.00,370.41 L476.50,370.46 L477.00,370.50 L477.50,370.54 L478.00,370.58 L478.50,370.63 L479.00,370.67 L479.50,370.71 L480.00,370.75 L480.00,374.05 L479.50,374.01 L479.00,373.97 L478.50,373.93 L478.00,373.88 L477.50,373.84 L477.00,373.80 L476.50,373.76 L476.00,373.71 L475.50,373.67 L475.00,373.63 L474.50,373.58 L474.00,373.54 L473.50,373.50 L473.00,373.45 L472.50,373.41 L472.00,373.36 Z" fill="#664810"/>
<path d="M480.00,366.71 L480.50,366.77 L481.00,366.83 L481.50,366.89 L482.00,366.95 L482.50,367.01 L483.00,367.06 L483.50,367.12 L484.00,367.18 L484.50,367.24 L485.00,367.29 L485.50,367.35 L486.00,367.41 L486.50,367.46 L487.00,367.52 L487.50,367.58 L488.00,367.63 L488.00,368.00 L487.50,368.00 L487.00,368.00 L486.50,368.00 L486.00,368.00 L485.50,368.00 L485.00,368.00 L484.50,368.00 L484.00,368.00 L483.50,368.00 L483.00,368.00 L482.50,368.00 L482.00,368.00 L481.50,368.00 L481.00,368.00 L480.50,368.00 L480.00,368.00 Z" fill="#67a112"/>
<path d="M480.00,368.00 L480.50,368.00 L481.00,368.00 L481.50,368.00 L482.00,368.00 L482.50,368.00 L483.00,368.00 L483.50,368.00 L484.00,368.00 L484.50,368.00 L485.00,368.00 L485.50,368.00 L486.00,368.00 L486.50,368.00 L487.00,368.00 L487.50,368.00 L488.00,368.00 L488.00,371.43 L487.50,371.38 L487.00,371.32 L486.50,371.26 L486.00,371.21 L485.50,371.15 L485.00,371.09 L484.50,371.04 L484.00,370.98 L483.50,370.92 L483.00,370.86 L482.50,370.81 L482.00,370.75 L481.50,370.69 L481.00,370.63 L480.50,370.57 L480.00,370.51 Z" fill="#55b413"/>
<path d="M480.00,370.75 L480.50,370.79 L481.00,370.83 L481.50,370.87 L482.00,370.91 L482.50,370.95 L483.00,370.99 L483.50,371.03 L484.00,371.07 L484.50,371.11 L485.00,371.15 L485.50,371.19 L486.00,371.23 L486.50,371.27 L487.00,371.31 L487.50,371.34 L488.00,371.38 L488.00,374.68 L487.50,374.64 L487.00,374.61 L486.50,374.57 L486.00,374.53 L485.50,374.49 L485.00,374.45 L484.50,374.41 L484.00,374.37 L483.50,374.33 L483.00,374.29 L482.50,374.25 L482.00,374.21 L481.50,374.17 L481.00,374.13 L480.50,374.09 L480.00,374.05 Z" fill="#45b313"/>
<path d="M488.00,367.63 L488.50,367.69 L489.00,367.74 L489.50,367.80 L490.00,367.85 L490.50,367.91 L491.00,367.96 L491.50,368.00 L492.00,368.00 L492.50,368.00 L493.00,368.00 L493.50,368.00 L494.00,368.00 L494.50,368.00 L495.00,368.00 L495.50,368.00 L496.00,368.00 L496.00,368.00 L495.50,368.00 L495.00,368.00 L494.50,368.00 L494.00,368.00 L493.50,368.00 L493.00,368.00 L492.50,368.00 L492.00,368.00 L491.50,368.00 L491.00,368.00 L490.50,368.00 L490.00,368.00 L489.50,368.00 L489.00,368.00 L488.50,368.00 L488.00,368.00 Z" fill="#3ccf14"/>
<path d="M488.00,368.00 L488.50,368.00 L489.00,368.00 L489.50,368.00 L490.00,368.00 L490.50,368.00 L491.00,368.00 L491.50,368.02 L492.00,368.07 L492.50,368.13 L493.00,368.18 L493.50,368.24 L494.00,368.29 L494.50,368.34 L495.00,368.40 L495.50,368.45 L496.00,368.50 L496.00,372.30 L495.50,372.25 L495.00,372.20 L494.50,372.14 L494.00,372.09 L493.50,372.04 L493.00,371.98 L492.50,371.93 L492.00,371.87 L491.50,371.82 L491.00,371.76 L490.50,371.71 L490.00,371.65 L489.50,371.60 L489.00,371.54 L488.50,371.49 L488.00,371.43 Z" fill="#ab560e"/>
<path d="M488.00,371.38 L488.50,371.42 L489.00,371.46 L489.50,371.49 L490.00,371.53 L490.50,371.57 L491.00,371.60 L491.50,371.64 L492.00,371.68 L492.50,371.71 L493.00,371.75 L493.50,371.78 L494.00,371.82 L494.50,371.85 L495.00,371.89 L495.50,371.92 L496.00,371.96 L496.00,375.26 L495.50,375.22 L495.00,375.19 L494.50,375.15 L494.00,375.12 L493.50,375.08 L493.00,375.05 L492.50,375.01 L492.00,374.98 L491.50,374.94 L491.00,374.90 L490.50,374.87 L490.00,374.83 L489.50,374.79 L489.00,374.76 L488.50,374.72 L488.00,374.68 Z" fill="#5e6311"/>
<path d="M496.00,368.50 L496.50,368.55 L497.00,368.61 L497.50,368.66 L498.00,368.71 L498.50,368.76 L499.00,368.81 L499.50,368.87 L500.00,368.92 L500.50,368.97 L501.00,369.02 L501.50,369.07 L502.00,369.12 L502.50,369.17 L503.00,369.22 L503.50,369.27 L504.00,369.32 L504.00,373.12 L503.50,373.07 L503.00,373.02 L502.50,372.97 L502.00,372.92 L501.50,372.87 L501.00,372.82 L500.50,372.77 L500.00,372.72 L499.50,372.67 L499.00,372.61 L498.50,372.56 L498.00,372.51 L497.50,372.46 L497.00,372.41 L496.50,372.35 L496.00,372.30 Z" fill="#759111"/>
<path d="M496.00,371.96 L496.50,371.99 L497.00,372.03 L497.50,372.06 L498.00,372.09 L498.50,372.13 L499.00,372.16 L499.50,372.19 L500.00,372.23 L500.50,372.27 L501.00,372.32 L501.50,372.37 L502.00,372.42 L502.50,372.47 L503.00,372.52 L503.50,372.57 L504.00,372.62 L504.00,375.92 L503.50,375.87 L503.00,375.82 L502.50,375.77 L502.00,375.72 L501.50,375.67 L501.00,375.62 L500.50,375.57 L500.00,375.53 L499.50,375.49 L499.00,375.46 L498.50,375.43 L498.00,375.39 L497.50,375.36 L497.00,375.33 L496.50,375.29 L496.00,375.26 Z" fill="#4e9712"/>
<path d="M504.00,369.32 L504.50,369.37 L505.00,369.42 L505.50,369.47 L506.00,369.52 L506.50,369.57 L507.00,369.62 L507.50,369.67 L508.00,369.72 L508.50,369.77 L509.00,369.82 L509.50,369.87 L510.00,369.92 L510.50,369.97 L511.00,370.02 L511.50,370.06 L512.00,370.11 L512.00,373.91 L511.50,373.86 L511.00,373.82 L510.50,373.77 L510.00,373.72 L509.50,373.67 L509.00,373.62 L508.50,373.57 L508.00,373.52 L507.50,373.47 L507.00,373.42 L506.50,373.37 L506.00,373.32 L505.50,373.27 L505.00,373.22 L504.50,373.17 L504.00,373.12 Z" fill="#8d7710"/>
<path d="M504.00,372.62 L504.50,372.67 L505.00,372.72 L505.50,372.77 L506.00,372.82 L506.50,372.87 L507.00,372.92 L507.50,372.97 L508.00,373.02 L508.50,373.07 L509.00,373.12 L509.50,373.17 L510.00,373.22 L510.50,373.27 L511.00,373.32 L511.50,373.36 L512.00,373.41 L512.00,376.00 L511.50,376.00 L511.00,376.00 L510.50,376.00 L510.00,376.00 L509.50,376.00 L509.00,376.00 L508.50,376.00 L508.00,376.00 L507.50,376.00 L507.00,376.00 L506.50,376.00 L506.00,376.00 L505.50,376.00 L505.00,376.00 L504.50,375.97 L504.00,375.92 Z" fill="#548412"/>
<path d="M504.00,376.00 L504.50,376.00 L505.00,376.00 L505.50,376.00 L506.00,376.00 L506.50,376.00 L507.00,376.00 L507.50,376.00 L508.00,376.00 L508.50,376.00 L509.00,376.00 L509.50,376.00 L510.00,376.00 L510.50,376.00 L511.00,376.00 L511.50,376.00 L512.00,376.00 L512.00,376.71 L511.50,376.66 L511.00,376.62 L510.50,376.57 L510.00,376.52 L509.50,376.47 L509.00,376.42 L508.50,376.37 L508.00,376.32 L507.50,376.27 L507.00,376.22 L506.50,376.17 L506.00,376.12 L505.50,376.07 L505.00,376.02 L504.50,376.00 L504.00,376.00 Z" fill="#635311"/>
<path d="M512.00,370.11 L512.50,370.16 L513.00,370.21 L513.50,370.26 L514.00,370.31 L514.50,370.35 L515.00,370.40 L515.50,370.45 L516.00,370.50 L516.50,370.55 L517.00,370.60 L517.50,370.64 L518.00,370.69 L518.50,370.74 L519.00,370.79 L519.50,370.84 L520.00,370.89 L520.00,374.69 L519.50,374.64 L519.00,374.59 L518.50,374.54 L518.00,374.49 L517.50,374.44 L517.00,374.40 L516.50,374.35 L516.00,374.30 L515.50,374.25 L515.00,374.20 L514.50,374.15 L514.00,374.11 L513.50,374.06 L513.00,374.01 L512.50,373.96 L512.00,373.91 Z" fill="#917310"/>
<path d="M512.00,373.41 L512.50,373.46 L513.00,373.51 L513.50,373.56 L514.00,373.61 L514.50,373.65 L515.00,373.70 L515.50,373.75 L516.00,373.80 L516.50,373.85 L517.00,373.90 L517.50,373.94 L518.00,373.99 L518.50,374.04 L519.00,374.09 L519.50,374.14 L520.00,374.19 L520.00,376.00 L519.50,376.00 L519.00,376.00 L518.50,376.00 L518.00,376.00 L517.50,376.00 L517.00,376.00 L516.50,376.00 L516.00,376.00 L515.50,376.00 L515.00,376.00 L514.50,376.00 L514.00,376.00 L513.50,376.00 L513.00,376.00 L512.50,376.00 L512.00,376.00 Z" fill="#597412"/>
<path d="M512.00,376.00 L512.50,376.00 L513.00,376.00 L513.50,376.00 L514.00,376.00 L514.50,376.00 L515.00,376.00 L515.50,376.00 L516.00,376.00 L516.50,376.00 L517.00,376.00 L517.50,376.00 L518.00,376.00 L518.50,376.00 L519.00,376.00 L519.50,376.00 L520.00,376.00 L520.00,377.49 L519.50,377.44 L519.00,377.39 L518.50,377.34 L518.00,377.29 L517.50,377.24 L517.00,377.20 L516.50,377.15 L516.00,377.10 L515.50,377.05 L515.00,377.00 L514.50,376.95 L514.00,376.91 L513.50,376.86 L513.00,376.81 L512.50,376.76 L512.00,376.71 Z" fill="#528912"/>
<path d="M520.00,370.89 L520.50,370.93 L521.00,370.98 L521.50,371.03 L522.00,371.08 L522.50,371.13 L523.00,371.18 L523.50,371.23 L524.00,371.28 L524.50,371.33 L525.00,371.38 L525.50,371.43 L526.00,371.47 L526.50,371.53 L527.00,371.58 L527.50,371.63 L528.00,371.68 L528.00,375.48 L527.50,375.43 L527.00,375.38 L526.50,375.33 L526.00,375.27 L525.50,375.23 L525.00,375.18 L524.50,375.13 L524.00,375.08 L523.50,375.03 L523.00,374.98 L522.50,374.93 L522.00,374.88 L521.50,374.83 L521.00,374.78 L520.50,374.73 L520.00,374.69 Z" fill="#709611"/>
<path d="M520.00,374.19 L520.50,374.23 L521.00,374.28 L521.50,374.33 L522.00,374.38 L522.50,374.43 L523.00,374.48 L523.50,374.53 L524.00,374.58 L524.50,374.63 L525.00,374.68 L525.50,374.73 L526.00,374.77 L526.50,374.83 L527.00,374.88 L527.50,374.93 L528.00,374.98 L528.00,376.00 L527.50,376.00 L527.00,376.00 L526.50,376.00 L526.00,376.00 L525.50,376.00 L525.00,376.00 L524.50,376.00 L524.00,376.00 L523.50,376.00 L523.00,376.00 L522.50,376.00 L522.00,376.00 L521.50,376.00 L521.00,376.00 L520.50,376.00 L520.00,376.00 Z" fill="#49a513"/>
<path d="M520.00,376.00 L520.50,376.00 L521.00,376.00 L521.50,376.00 L522.00,376.00 L522.50,376.00 L523.00,376.00 L523.50,376.00 L524.00,376.00 L524.50,376.00 L525.00,376.00 L525.50,376.00 L526.00,376.00 L526.50,376.00 L527.00,376.00 L527.50,376.00 L528.00,376.00 L528.00,378.28 L527.50,378.23 L527.00,378.18 L526.50,378.13 L526.00,378.07 L525.50,378.03 L525.00,377.98 L524.50,377.93 L524.00,377.88 L523.50,377.83 L523.00,377.78 L522.50,377.73 L522.00,377.68 L521.50,377.63 L521.00,377.58 L520.50,377.53 L520.00,377.49 Z" fill="#4e9512"/>
<path d="M528.00,371.68 L528.50,371.73 L529.00,371.78 L529.50,371.83 L530.00,371.89 L530.50,371.94 L531.00,372.00 L531.50,372.05 L532.00,372.11 L532.50,372.16 L533.00,372.22 L533.50,372.28 L534.00,372.34 L534.50,372.40 L535.00,372.46 L535.50,372.52 L536.00,372.59 L536.00,376.00 L535.50,376.00 L535.00,376.00 L534.50,376.00 L534.00,376.00 L533.50,376.00 L533.00,376.00 L532.50,375.96 L532.00,375.91 L531.50,375.85 L531.00,375.80 L530.50,375.74 L530.00,375.69 L529.50,375.63 L529.00,375.58 L528.50,375.53 L528.00,375.48 Z" fill="#b0510e"/>
<path d="M528.00,374.98 L528.50,375.03 L529.00,375.08 L529.50,375.13 L530.00,375.19 L530.50,375.24 L531.00,375.30 L531.50,375.35 L532.00,375.41 L532.50,375.46 L533.00,375.52 L533.50,375.58 L534.00,375.64 L534.50,375.70 L535.00,375.76 L535.50,375.82 L536.00,375.89 L536.00,376.00 L535.50,376.00 L535.00,376.00 L534.50,376.00 L534.00,376.00 L533.50,376.00 L533.00,376.00 L532.50,376.00 L532.00,376.00 L531.50,376.00 L531.00,376.00 L530.50,376.00 L530.00,376.00 L529.50,376.00 L529.00,376.00 L528.50,376.00 L528.00,376.00 Z" fill="#664910"/>
<path d="M528.00,376.00 L528.50,376.00 L529.00,376.00 L529.50,376.00 L530.00,376.00 L530.50,376.00 L531.00,376.00 L531.50,376.00 L532.00,376.00 L532.50,376.00 L533.00,376.00 L533.50,376.00 L534.00,376.00 L534.50,376.00 L535.00,376.00 L535.50,376.00 L536.00,376.00 L536.00,376.39 L535.50,376.32 L535.00,376.26 L534.50,376.20 L534.00,376.14 L533.50,376.08 L533.00,376.02 L532.50,376.00 L532.00,376.00 L531.50,376.00 L531.00,376.00 L530.50,376.00 L530.00,376.00 L529.50,376.00 L529.00,376.00 L528.50,376.00 L528.00,376.00 Z" fill="#3ccf14"/>
<path d="M528.00,376.00 L528.50,376.00 L529.00,376.00 L529.50,376.00 L530.00,376.00 L530.50,376.00 L531.00,376.00 L531.50,376.00 L532.00,376.00 L532.50,376.00 L533.00,376.00 L533.50,376.00 L534.00,376.00 L534.50,376.00 L535.00,376.00 L535.50,376.00 L536.00,376.00 L536.00,379.19 L535.50,379.12 L535.00,379.06 L534.50,379.00 L534.00,378.94 L533.50,378.88 L533.00,378.82 L532.50,378.76 L532.00,378.71 L531.50,378.65 L531.00,378.60 L530.50,378.54 L530.00,378.49 L529.50,378.43 L529.00,378.38 L528.50,378.33 L528.00,378.28 Z" fill="#5e6411"/>
<path d="M536.00,372.59 L536.50,372.66 L537.00,372.73 L537.50,372.80 L538.00,372.87 L538.50,372.95 L539.00,373.04 L539.50,373.12 L540.00,373.22 L540.50,373.32 L541.00,373.44 L541.50,373.58 L542.00,373.72 L542.50,374.19 L543.00,374.80 L543.50,375.40 L544.00,375.40 L544.00,376.00 L543.50,376.00 L543.00,376.00 L542.50,376.00 L542.00,376.00 L541.50,376.00 L541.00,376.00 L540.50,376.00 L540.00,376.00 L539.50,376.00 L539.00,376.00 L538.50,376.00 L538.00,376.00 L537.50,376.00 L537.00,376.00 L536.50,376.00 L536.00,376.00 Z" fill="#47c313"/>
<path d="M536.00,376.00 L536.50,376.00 L537.00,376.00 L537.50,376.00 L538.00,376.00 L538.50,376.00 L539.00,376.00 L539.50,376.00 L540.00,376.00 L540.50,376.00 L541.00,376.00 L541.50,376.00 L542.00,376.00 L542.50,376.00 L543.00,376.00 L543.50,376.00 L544.00,376.00 L544.00,379.20 L543.50,379.20 L543.00,378.60 L542.50,377.99 L542.00,377.52 L541.50,377.38 L541.00,377.24 L540.50,377.12 L540.00,377.02 L539.50,376.92 L539.00,376.84 L538.50,376.75 L538.00,376.67 L537.50,376.60 L537.00,376.53 L536.50,376.46 L536.00,376.39 Z" fill="#7b8b11"/>
<path d="M536.00,376.00 L536.50,376.00 L537.00,376.03 L537.50,376.10 L538.00,376.17 L538.50,376.25 L539.00,376.34 L539.50,376.42 L540.00,376.52 L540.50,376.62 L541.00,376.74 L541.50,376.88 L542.00,377.02 L542.50,377.49 L543.00,378.10 L543.50,378.70 L544.00,378.70 L544.00,382.00 L543.50,382.00 L543.00,381.40 L542.50,380.79 L542.00,380.32 L541.50,380.18 L541.00,380.04 L540.50,379.92 L540.00,379.82 L539.50,379.72 L539.00,379.64 L538.50,379.55 L538.00,379.47 L537.50,379.40 L537.00,379.33 L536.50,379.26 L536.00,379.19 Z" fill="#45b313"/>
<g fill="#1c1cd6"><circle cx="56.5" cy="138.5" r="1.6"/><circle cx="59.6" cy="142.2" r="1.6"/><circle cx="62.2" cy="145.7" r="1.6"/><circle cx="64.9" cy="149.2" r="1.6"/><circle cx="67.5" cy="152.8" r="1.6"/><circle cx="70.1" cy="156.3" r="1.6"/><circle cx="72.7" cy="159.8" r="1.6"/><circle cx="75.3" cy="163.4" r="1.6"/><circle cx="77.9" cy="167.0" r="1.6"/><circle cx="80.5" cy="170.6" r="1.6"/><circle cx="83.0" cy="174.1" r="1.6"/><circle cx="85.6" cy="177.7" r="1.6"/><circle cx="88.2" cy="181.3" r="1.6"/><circle cx="90.8" cy="184.8" r="1.6"/><circle cx="93.3" cy="188.4" r="1.6"/><circle cx="95.9" cy="191.9" r="1.6"/><circle cx="98.5" cy="195.5" r="1.6"/><circle cx="101.1" cy="199.0" r="1.6"/><circle cx="103.7" cy="202.6" r="1.6"/><circle cx="106.3" cy="206.2" r="1.6"/><circle cx="108.9" cy="209.7" r="1.6"/><circle cx="111.6" cy="213.2" r="1.6"/><circle cx="114.2" cy="216.7" r="1.6"/><circle cx="116.9" cy="220.2" r="1.6"/><circle cx="119.6" cy="223.7" r="1.6"/><circle cx="122.2" cy="227.2" r="1.6"/><circle cx="125.0" cy="230.6" r="1.6"/><circle cx="127.7" cy="234.1" r="1.6"/><circle cx="130.4" cy="237.5" r="1.6"/><circle cx="133.2" cy="240.9" r="1.6"/><circle cx="136.0" cy="244.3" r="1.6"/><circle cx="138.8" cy="247.7" r="1.6"/><circle cx="141.7" cy="251.0" r="1.6"/><circle cx="144.5" cy="254.4" r="1.6"/><circle cx="147.4" cy="257.7" r="1.6"/><circle cx="150.4" cy="261.0" r="1.6"/><circle cx="153.3" cy="264.2" r="1.6"/><circle cx="156.3" cy="267.4" r="1.6"/><circle cx="159.3" cy="270.6" r="1.6"/><circle cx="162.4" cy="273.8" r="1.6"/><circle cx="165.4" cy="276.9" r="1.6"/><circle cx="168.6" cy="280.0" r="1.6"/><circle cx="171.7" cy="283.1" r="1.6"/><circle cx="174.9" cy="286.1" r="1.6"/><circle cx="178.2" cy="289.1" r="1.6"/><circle cx="181.4" cy="292.0" r="1.6"/><circle cx="184.7" cy="294.9" r="1.6"/><circle cx="188.1" cy="297.7" r="1.6"/><circle cx="191.5" cy="300.5" r="1.6"/><circle cx="194.9" cy="303.3" r="1.6"/><circle cx="198.3" cy="306.0" r="1.6"/><circle cx="201.9" cy="308.6" r="1.6"/><circle cx="205.4" cy="311.2" r="1.6"/><circle cx="209.0" cy="313.8" r="1.6"/><circle cx="212.6" cy="316.2" r="1.6"/><circle cx="216.3" cy="318.7" r="1.6"/><circle cx="220.0" cy="321.0" r="1.6"/><circle cx="223.7" cy="323.3" r="1.6"/><circle cx="227.5" cy="325.5" r="1.6"/><circle cx="231.3" cy="327.7" r="1.6"/><circle cx="235.2" cy="329.8" r="1.6"/><circle cx="239.1" cy="331.8" r="1.6"/><circle cx="243.0" cy="333.8" r="1.6"/><circle cx="247.0" cy="335.7" r="1.6"/><circle cx="251.0" cy="337.5" r="1.6"/><circle cx="255.0" cy="339.3" r="1.6"/><circle cx="259.0" cy="341.0" r="1.6"/><circle cx="263.1" cy="342.7" r="1.6"/><circle cx="267.2" cy="344.2" r="1.6"/><circle cx="271.3" cy="345.7" r="1.6"/><circle cx="275.5" cy="347.2" r="1.6"/><circle cx="279.6" cy="348.6" r="1.6"/><circle cx="283.8" cy="349.9" r="1.6"/><circle cx="288.0" cy="351.2" r="1.6"/><circle cx="292.3" cy="352.4" r="1.6"/><circle cx="296.5" cy="353.5" r="1.6"/><circle cx="300.7" cy="354.6" r="1.6"/><circle cx="305.0" cy="355.7" r="1.6"/><circle cx="309.3" cy="356.7" r="1.6"/><circle cx="313.6" cy="357.6" r="1.6"/><circle cx="317.9" cy="358.5" r="1.6"/><circle cx="322.2" cy="359.4" r="1.6"/><circle cx="326.5" cy="360.2" r="1.6"/><circle cx="330.8" cy="361.0" r="1.6"/><circle cx="335.2" cy="361.7" r="1.6"/><circle cx="339.5" cy="362.4" r="1.6"/><circle cx="343.8" cy="363.1" r="1.6"/><circle cx="348.2" cy="363.7" r="1.6"/><circle cx="352.5" cy="364.3" r="1.6"/><circle cx="356.9" cy="364.9" r="1.6"/><circle cx="361.3" cy="365.4" r="1.6"/><circle cx="365.6" cy="365.9" r="1.6"/><circle cx="370.0" cy="366.4" r="1.6"/><circle cx="374.4" cy="366.9" r="1.6"/><circle cx="378.8" cy="367.3" r="1.6"/><circle cx="383.2" cy="367.7" r="1.6"/><circle cx="387.5" cy="368.1" r="1.6"/><circle cx="391.9" cy="368.5" r="1.6"/><circle cx="396.3" cy="368.8" r="1.6"/><circle cx="400.7" cy="369.1" r="1.6"/><circle cx="405.1" cy="369.4" r="1.6"/><circle cx="409.4" cy="369.7" r="1.6"/><circle cx="413.8" cy="370.0" r="1.6"/><circle cx="418.2" cy="370.3" r="1.6"/><circle cx="422.6" cy="370.6" r="1.6"/><circle cx="427.0" cy="370.8" r="1.6"/><circle cx="431.4" cy="371.0" r="1.6"/><circle cx="435.8" cy="371.2" r="1.6"/><circle cx="440.2" cy="371.5" r="1.6"/><circle cx="444.6" cy="371.7" r="1.6"/><circle cx="449.0" cy="371.9" r="1.6"/><circle cx="453.4" cy="372.0" r="1.6"/><circle cx="457.8" cy="372.2" r="1.6"/><circle cx="462.2" cy="372.4" r="1.6"/><circle cx="466.6" cy="372.5" r="1.6"/><circle cx="471.0" cy="372.7" r="1.6"/><circle cx="475.4" cy="372.8" r="1.6"/><circle cx="479.8" cy="373.0" r="1.6"/><circle cx="484.2" cy="373.1" r="1.6"/><circle cx="488.6" cy="373.3" r="1.6"/><circle cx="492.9" cy="373.4" r="1.6"/><circle cx="497.3" cy="373.6" r="1.6"/><circle cx="501.7" cy="373.7" r="1.6"/><circle cx="506.1" cy="373.8" r="1.6"/><circle cx="510.5" cy="374.0" r="1.6"/><circle cx="514.9" cy="374.1" r="1.6"/><circle cx="519.4" cy="374.2" r="1.6"/><circle cx="523.8" cy="374.4" r="1.6"/><circle cx="528.2" cy="374.6" r="1.6"/><circle cx="532.8" cy="374.8" r="1.6"/><circle cx="537.4" cy="375.5" r="1.6"/><circle cx="541.1" cy="376.2" r="1.6"/><circle cx="56.5" cy="142.5" r="1.6"/><circle cx="57.2" cy="143.9" r="1.6"/><circle cx="59.8" cy="147.5" r="1.6"/><circle cx="62.4" cy="151.1" r="1.6"/><circle cx="64.8" cy="154.5" r="1.6"/><circle cx="67.5" cy="158.1" r="1.6"/><circle cx="70.1" cy="161.8" r="1.6"/><circle cx="72.5" cy="165.3" r="1.6"/><circle cx="75.1" cy="169.0" r="1.6"/><circle cx="77.5" cy="172.4" r="1.6"/><circle cx="80.1" cy="176.1" r="1.6"/><circle cx="82.7" cy="179.9" r="1.6"/><circle cx="85.1" cy="183.3" r="1.6"/><circle cx="87.8" cy="187.0" r="1.6"/><circle cx="90.2" cy="190.4" r="1.6"/><circle cx="92.8" cy="194.1" r="1.6"/><circle cx="95.4" cy="197.8" r="1.6"/><circle cx="98.0" cy="201.4" r="1.6"/><circle cx="100.4" cy="204.8" r="1.6"/><circle cx="103.0" cy="208.4" r="1.6"/><circle cx="105.6" cy="212.0" r="1.6"/><circle cx="108.2" cy="215.5" r="1.6"/><circle cx="111.0" cy="219.3" r="1.6"/><circle cx="113.6" cy="222.7" r="1.6"/><circle cx="116.2" cy="226.2" r="1.6"/><circle cx="118.9" cy="229.8" r="1.6"/><circle cx="121.5" cy="233.2" r="1.6"/><circle cx="124.3" cy="236.7" r="1.6"/><circle cx="127.1" cy="240.2" r="1.6"/><circle cx="129.8" cy="243.7" r="1.6"/><circle cx="132.6" cy="247.1" r="1.6"/><circle cx="135.3" cy="250.4" r="1.6"/><circle cx="138.3" cy="254.0" r="1.6"/><circle cx="141.2" cy="257.4" r="1.6"/><circle cx="143.9" cy="260.6" r="1.6"/><circle cx="146.9" cy="263.9" r="1.6"/><circle cx="150.0" cy="267.4" r="1.6"/><circle cx="152.9" cy="270.6" r="1.6"/><circle cx="156.0" cy="273.9" r="1.6"/><circle cx="159.1" cy="277.1" r="1.6"/><circle cx="162.2" cy="280.3" r="1.6"/><circle cx="165.2" cy="283.4" r="1.6"/><circle cx="168.3" cy="286.4" r="1.6"/><circle cx="171.6" cy="289.5" r="1.6"/><circle cx="174.8" cy="292.6" r="1.6"/><circle cx="178.2" cy="295.7" r="1.6"/><circle cx="181.5" cy="298.6" r="1.6"/><circle cx="184.9" cy="301.5" r="1.6"/><circle cx="188.3" cy="304.3" r="1.6"/><circle cx="191.7" cy="307.1" r="1.6"/><circle cx="195.3" cy="309.9" r="1.6"/><circle cx="198.9" cy="312.6" r="1.6"/><circle cx="202.5" cy="315.3" r="1.6"/><circle cx="206.2" cy="317.9" r="1.6"/><circle cx="209.8" cy="320.4" r="1.6"/><circle cx="213.5" cy="322.8" r="1.6"/><circle cx="217.3" cy="325.2" r="1.6"/><circle cx="221.2" cy="327.6" r="1.6"/><circle cx="225.1" cy="329.9" r="1.6"/><circle cx="229.0" cy="332.1" r="1.6"/><circle cx="232.9" cy="334.2" r="1.6"/><circle cx="236.8" cy="336.2" r="1.6"/><circle cx="240.9" cy="338.2" r="1.6"/><circle cx="244.9" cy="340.2" r="1.6"/><circle cx="249.0" cy="342.0" r="1.6"/><circle cx="253.0" cy="343.8" r="1.6"/><circle cx="257.3" cy="345.5" r="1.6"/><circle cx="261.3" cy="347.1" r="1.6"/><circle cx="265.6" cy="348.7" r="1.6"/><circle cx="269.8" cy="350.2" r="1.6"/><circle cx="274.0" cy="351.6" r="1.6"/><circle cx="278.3" cy="353.0" r="1.6"/><circle cx="282.5" cy="354.3" r="1.6"/><circle cx="286.9" cy="355.5" r="1.6"/><circle cx="291.1" cy="356.7" r="1.6"/><circle cx="295.3" cy="357.8" r="1.6"/><circle cx="299.7" cy="358.9" r="1.6"/><circle cx="304.1" cy="359.9" r="1.6"/><circle cx="308.3" cy="360.8" r="1.6"/><circle cx="312.7" cy="361.7" r="1.6"/><circle cx="317.1" cy="362.6" r="1.6"/><circle cx="321.5" cy="363.4" r="1.6"/><circle cx="325.9" cy="364.2" r="1.6"/><circle cx="330.3" cy="364.9" r="1.6"/><circle cx="334.7" cy="365.6" r="1.6"/><circle cx="339.1" cy="366.2" r="1.6"/><circle cx="343.5" cy="366.8" r="1.6"/><circle cx="347.8" cy="367.4" r="1.6"/><circle cx="352.2" cy="367.9" r="1.6"/><circle cx="356.6" cy="368.4" r="1.6"/><circle cx="361.0" cy="368.9" r="1.6"/><circle cx="365.4" cy="369.3" r="1.6"/><circle cx="369.8" cy="369.8" r="1.6"/><circle cx="374.2" cy="370.2" r="1.6"/><circle cx="378.5" cy="370.5" r="1.6"/><circle cx="382.9" cy="370.9" r="1.6"/><circle cx="387.3" cy="371.2" r="1.6"/><circle cx="391.7" cy="371.5" r="1.6"/><circle cx="396.1" cy="371.8" r="1.6"/><circle cx="400.4" cy="372.1" r="1.6"/><circle cx="404.8" cy="372.3" r="1.6"/><circle cx="409.4" cy="372.6" r="1.6"/><circle cx="413.8" cy="372.8" r="1.6"/><circle cx="418.2" cy="373.0" r="1.6"/><circle cx="422.5" cy="373.2" r="1.6"/><circle cx="426.9" cy="373.4" r="1.6"/><circle cx="431.3" cy="373.6" r="1.6"/><circle cx="435.7" cy="373.8" r="1.6"/><circle cx="440.1" cy="373.9" r="1.6"/><circle cx="444.4" cy="374.1" r="1.6"/><circle cx="448.8" cy="374.2" r="1.6"/><circle cx="453.4" cy="374.4" r="1.6"/><circle cx="457.8" cy="374.5" r="1.6"/><circle cx="462.2" cy="374.6" r="1.6"/><circle cx="466.5" cy="374.7" r="1.6"/><circle cx="470.9" cy="374.8" r="1.6"/><circle cx="475.3" cy="374.9" r="1.6"/><circle cx="479.7" cy="375.0" r="1.6"/><circle cx="484.1" cy="375.1" r="1.6"/><circle cx="488.4" cy="375.2" r="1.6"/><circle cx="493.1" cy="375.2" r="1.6"/><circle cx="497.4" cy="375.3" r="1.6"/><circle cx="501.8" cy="375.4" r="1.6"/><circle cx="506.2" cy="375.5" r="1.6"/><circle cx="510.6" cy="375.5" r="1.6"/><circle cx="514.9" cy="375.6" r="1.6"/><circle cx="519.3" cy="375.7" r="1.6"/><circle cx="523.6" cy="375.7" r="1.6"/><circle cx="528.0" cy="375.8" r="1.6"/><circle cx="532.2" cy="375.8" r="1.6"/><circle cx="536.3" cy="375.4" r="1.6"/><circle cx="541.6" cy="375.1" r="1.6"/><circle cx="57.1" cy="155.2" r="1.6"/><circle cx="59.9" cy="158.6" r="1.6"/><circle cx="62.7" cy="162.1" r="1.6"/><circle cx="65.4" cy="165.5" r="1.6"/><circle cx="68.1" cy="169.0" r="1.6"/><circle cx="70.7" cy="172.5" r="1.6"/><circle cx="73.4" cy="176.0" r="1.6"/><circle cx="76.0" cy="179.6" r="1.6"/><circle cx="78.6" cy="183.1" r="1.6"/><circle cx="81.2" cy="186.7" r="1.6"/><circle cx="83.8" cy="190.2" r="1.6"/><circle cx="86.4" cy="193.8" r="1.6"/><circle cx="89.0" cy="197.3" r="1.6"/><circle cx="91.6" cy="200.9" r="1.6"/><circle cx="94.1" cy="204.5" r="1.6"/><circle cx="96.7" cy="208.0" r="1.6"/><circle cx="99.3" cy="211.6" r="1.6"/><circle cx="101.9" cy="215.1" r="1.6"/><circle cx="104.5" cy="218.7" r="1.6"/><circle cx="107.1" cy="222.2" r="1.6"/><circle cx="109.7" cy="225.8" r="1.6"/><circle cx="112.3" cy="229.3" r="1.6"/><circle cx="114.9" cy="232.8" r="1.6"/><circle cx="117.6" cy="236.4" r="1.6"/><circle cx="120.3" cy="239.9" r="1.6"/><circle cx="122.9" cy="243.3" r="1.6"/><circle cx="125.6" cy="246.8" r="1.6"/><circle cx="128.4" cy="250.3" r="1.6"/><circle cx="131.1" cy="253.7" r="1.6"/><circle cx="133.9" cy="257.1" r="1.6"/><circle cx="136.7" cy="260.6" r="1.6"/><circle cx="139.5" cy="263.9" r="1.6"/><circle cx="142.3" cy="267.3" r="1.6"/><circle cx="145.2" cy="270.6" r="1.6"/><circle cx="148.1" cy="273.9" r="1.6"/><circle cx="151.0" cy="277.2" r="1.6"/><circle cx="154.0" cy="280.5" r="1.6"/><circle cx="157.0" cy="283.7" r="1.6"/><circle cx="160.0" cy="286.9" r="1.6"/><circle cx="163.1" cy="290.0" r="1.6"/><circle cx="166.2" cy="293.1" r="1.6"/><circle cx="169.4" cy="296.2" r="1.6"/><circle cx="172.6" cy="299.2" r="1.6"/><circle cx="175.8" cy="302.2" r="1.6"/><circle cx="179.1" cy="305.1" r="1.6"/><circle cx="182.4" cy="308.0" r="1.6"/><circle cx="185.8" cy="310.9" r="1.6"/><circle cx="189.2" cy="313.6" r="1.6"/><circle cx="192.6" cy="316.4" r="1.6"/><circle cx="196.1" cy="319.0" r="1.6"/><circle cx="199.7" cy="321.6" r="1.6"/><circle cx="203.3" cy="324.2" r="1.6"/><circle cx="206.9" cy="326.6" r="1.6"/><circle cx="210.6" cy="329.0" r="1.6"/><circle cx="214.3" cy="331.4" r="1.6"/><circle cx="218.1" cy="333.6" r="1.6"/><circle cx="221.9" cy="335.8" r="1.6"/><circle cx="225.8" cy="338.0" r="1.6"/><circle cx="229.6" cy="340.0" r="1.6"/><circle cx="233.6" cy="342.0" r="1.6"/><circle cx="237.6" cy="343.9" r="1.6"/><circle cx="241.6" cy="345.7" r="1.6"/><circle cx="245.6" cy="347.4" r="1.6"/><circle cx="249.7" cy="349.1" r="1.6"/><circle cx="253.8" cy="350.7" r="1.6"/><circle cx="257.9" cy="352.2" r="1.6"/><circle cx="262.1" cy="353.7" r="1.6"/><circle cx="266.2" cy="355.0" r="1.6"/><circle cx="270.4" cy="356.4" r="1.6"/><circle cx="274.7" cy="357.6" r="1.6"/><circle cx="278.9" cy="358.8" r="1.6"/><circle cx="283.2" cy="359.9" r="1.6"/><circle cx="287.4" cy="360.9" r="1.6"/><circle cx="291.7" cy="361.9" r="1.6"/><circle cx="296.0" cy="362.9" r="1.6"/><circle cx="300.3" cy="363.7" r="1.6"/><circle cx="304.6" cy="364.6" r="1.6"/><circle cx="309.0" cy="365.4" r="1.6"/><circle cx="313.3" cy="366.1" r="1.6"/><circle cx="317.7" cy="366.8" r="1.6"/><circle cx="322.0" cy="367.4" r="1.6"/><circle cx="326.4" cy="368.0" r="1.6"/><circle cx="330.7" cy="368.6" r="1.6"/><circle cx="335.1" cy="369.1" r="1.6"/><circle cx="339.5" cy="369.6" r="1.6"/><circle cx="343.8" cy="370.1" r="1.6"/><circle cx="348.2" cy="370.5" r="1.6"/><circle cx="352.6" cy="370.9" r="1.6"/><circle cx="357.0" cy="371.3" r="1.6"/><circle cx="361.4" cy="371.7" r="1.6"/><circle cx="365.8" cy="372.0" r="1.6"/><circle cx="370.1" cy="372.3" r="1.6"/><circle cx="374.5" cy="372.6" r="1.6"/><circle cx="378.9" cy="372.9" r="1.6"/><circle cx="383.3" cy="373.1" r="1.6"/><circle cx="387.7" cy="373.4" r="1.6"/><circle cx="392.1" cy="373.6" r="1.6"/><circle cx="396.5" cy="373.8" r="1.6"/><circle cx="400.9" cy="374.0" r="1.6"/><circle cx="405.3" cy="374.2" r="1.6"/><circle cx="409.7" cy="374.3" r="1.6"/><circle cx="414.1" cy="374.5" r="1.6"/><circle cx="418.5" cy="374.6" r="1.6"/><circle cx="422.9" cy="374.8" r="1.6"/><circle cx="427.3" cy="374.9" r="1.6"/><circle cx="431.7" cy="375.0" r="1.6"/><circle cx="436.1" cy="375.1" r="1.6"/><circle cx="440.5" cy="375.2" r="1.6"/><circle cx="444.9" cy="375.3" r="1.6"/><circle cx="449.3" cy="375.4" r="1.6"/><circle cx="453.7" cy="375.4" r="1.6"/><circle cx="458.1" cy="375.5" r="1.6"/><circle cx="462.5" cy="375.6" r="1.6"/><circle cx="466.9" cy="375.6" r="1.6"/><circle cx="471.3" cy="375.7" r="1.6"/><circle cx="475.7" cy="375.7" r="1.6"/><circle cx="480.1" cy="375.8" r="1.6"/><circle cx="484.5" cy="375.8" r="1.6"/><circle cx="488.9" cy="375.8" r="1.6"/><circle cx="493.3" cy="375.9" r="1.6"/><circle cx="497.7" cy="375.9" r="1.6"/><circle cx="502.1" cy="375.9" r="1.6"/><circle cx="506.5" cy="375.9" r="1.6"/><circle cx="510.9" cy="376.0" r="1.6"/><circle cx="515.3" cy="376.0" r="1.6"/><circle cx="519.7" cy="376.0" r="1.6"/><circle cx="524.1" cy="376.0" r="1.6"/><circle cx="528.5" cy="376.0" r="1.6"/><circle cx="532.9" cy="376.0" r="1.6"/><circle cx="537.3" cy="376.0" r="1.6"/><circle cx="541.7" cy="376.0" r="1.6"/></g>
</g>
<g font-family="Liberation Sans, sans-serif" font-size="14" fill="#333">
<text x="48.8" y="381.4" text-anchor="end">0</text>
<text x="48.8" y="308.4" text-anchor="end">0.05</text>
<text x="48.8" y="235.4" text-anchor="end">0.1</text>
<text x="48.8" y="162.4" text-anchor="end">0.15</text>
<text x="48.8" y="89.4" text-anchor="end">0.2</text>
<text x="48.8" y="16.4" text-anchor="end">0.25</text>
<text x="54.8" y="396.2" text-anchor="middle">0</text>
<text x="136.0" y="396.2" text-anchor="middle">0.5</text>
<text x="217.1" y="396.2" text-anchor="middle">1</text>
<text x="298.3" y="396.2" text-anchor="middle">1.5</text>
<text x="379.5" y="396.2" text-anchor="middle">2</text>
<text x="460.6" y="396.2" text-anchor="middle">2.5</text>
<text x="541.8" y="396.2" text-anchor="middle">3</text>
</g>
<g font-family="Liberation Sans, sans-serif" font-size="12.5" fill="#333" text-anchor="middle">
<text transform="translate(13.4,203.3) rotate(-90)">&#967;</text>
<text transform="translate(13.4,193.8) rotate(-90)">(</text>
<text transform="translate(13.4,188.4) rotate(-90)">&#950;</text>
<text transform="translate(13.4,180.6) rotate(-90)">)</text>
</g>
<text x="300" y="419" text-anchor="middle" font-family="Liberation Serif, serif" font-style="italic" font-size="17" fill="#444">&#950;</text>
<g opacity="0.75"><rect x="239.5" y="200" width="3" height="9" fill="#7ff5f0"/><rect x="243" y="200" width="3.5" height="9" fill="#ff9ce8"/><rect x="246.5" y="200" width="7.5" height="5" fill="#80f8f8"/><rect x="255" y="203" width="4.5" height="7" fill="#ff9ce8"/></g>
<text x="220.3" y="209.6" font-family="Liberation Sans, sans-serif" font-size="14.5" fill="#2a2a2a"><tspan font-family="Liberation Serif, serif" font-style="italic" font-size="15" fill="#808080">&#946;</tspan>=0.1,0.3,0.5</text>
<line x1="135.9" y1="320.7" x2="235.62" y2="225.03" stroke="#000" stroke-width="2.4" stroke-linecap="round"/><path d="M246.80,214.30 L237.38,235.53 L235.62,225.03 L225.19,222.83 Z" fill="#000"/>
</svg>
<div class="lg" style="left:348.5px;top:48.8px;transform:scaleX(0.70)">Solid</div>
<div class="lg" style="left:415.6px;top:48.8px;transform:scaleX(0.70)">:</div>
<div class="lg" style="left:428.5px;top:48.8px;transform:scaleX(0.79)">Plate</div>
<div class="lg" style="left:348.1px;top:78.1px;transform:scaleX(0.71)">Dashed</div>
<div class="lg" style="left:416.4px;top:78.1px;transform:scaleX(0.70)">:</div>
<div class="lg" style="left:427.7px;top:78.1px;transform:scaleX(0.66)">Wedge</div>
<div class="lg" style="left:347.7px;top:106.8px;transform:scaleX(0.73)">Dotted</div>
<div class="lg" style="left:413.7px;top:106.8px;transform:scaleX(0.70)">:</div>
<div class="lg" style="left:423.8px;top:106.8px;transform:scaleX(0.69)">Cone</div>
</body></html>
